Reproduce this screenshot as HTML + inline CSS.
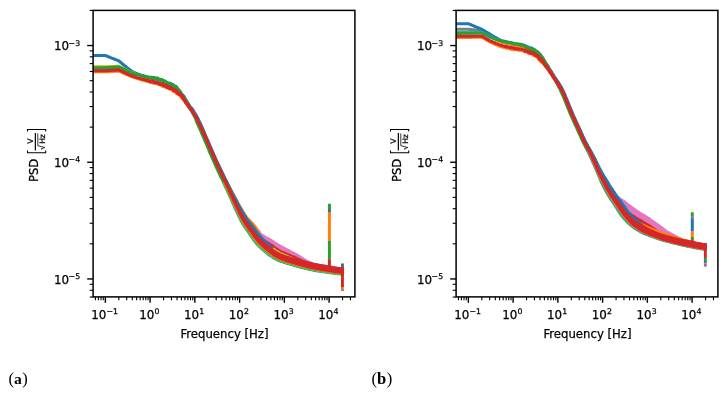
<!DOCTYPE html>
<html lang="en"><head><meta charset="utf-8"><title>PSD plots</title>
<style>html,body{margin:0;padding:0;background:#fff}svg{display:block}</style>
</head><body>
<svg width="728" height="397" viewBox="0 0 728 397" font-family="'DejaVu Sans','Liberation Sans',sans-serif">
<rect width="728" height="397" fill="#fff"/>
<defs><clipPath id="cl"><rect x="93.1" y="10.4" width="250.80" height="286.50"/></clipPath><clipPath id="cr"><rect x="456.1" y="10.4" width="250.75" height="286.50"/></clipPath></defs>
<g clip-path="url(#cl)"><line x1="329.4" y1="203.7" x2="329.4" y2="208.9" stroke="#2ca02c" stroke-width="3.0"/>
<line x1="329.4" y1="208.7" x2="329.4" y2="211.0" stroke="#1f77b4" stroke-width="3.0"/>
<line x1="329.4" y1="210.8" x2="329.4" y2="212.8" stroke="#8c564b" stroke-width="3.0"/>
<line x1="329.4" y1="212.6" x2="329.4" y2="241.2" stroke="#ff7f0e" stroke-width="3.0"/>
<line x1="329.4" y1="241.0" x2="329.4" y2="259.5" stroke="#2ca02c" stroke-width="3.0"/>
<path d="M93.1,71.8L93.8,71.8L94.5,71.8L95.2,71.8L95.9,71.8L96.6,71.8L97.3,71.8L98.0,71.8L98.7,71.8L99.4,71.8L100.1,71.8L100.8,71.8L101.5,71.8L102.2,71.8L102.9,71.8L103.6,71.8L104.3,71.8L105.0,71.8L105.3,71.8L105.7,71.8L106.4,71.7L107.1,71.7L107.8,71.7L108.5,71.6L109.2,71.6L109.9,71.5L110.6,71.5L111.3,71.4L112.0,71.4L112.7,71.4L113.4,71.3L114.1,71.3L114.8,71.2L115.5,71.2L116.2,71.2L116.9,71.1L117.6,71.1L118.3,71.0L118.8,71.0L119.0,71.1L119.7,71.4L120.4,71.7L121.1,72.0L121.8,72.4L122.5,72.7L123.2,73.0L123.9,73.3L124.6,73.6L125.3,74.0L126.0,74.3L126.7,74.6L126.7,74.6L127.4,74.9L128.1,75.2L128.8,75.5L129.5,75.7L130.2,76.0L130.9,76.3L131.6,76.6L132.3,76.9L132.3,76.9L133.0,77.1L133.7,77.3L134.4,77.5L135.1,77.7L135.8,77.9L136.5,78.1L137.2,78.4L137.9,78.6L138.5,78.8L139.2,79.0L139.9,79.2L140.6,79.4L141.3,79.6L142.0,79.9L142.7,80.0L143.4,80.1L144.1,80.2L144.8,80.4L145.5,80.7L146.2,81.0L146.9,81.0L147.6,80.8L148.2,81.0L148.9,81.6L149.6,81.8L150.3,81.7L151.0,81.9L151.7,82.2L152.4,82.5L153.1,82.6L153.8,82.6L154.5,82.6L155.2,82.8L155.9,82.9L156.6,82.6L157.3,82.9L158.0,83.2L158.7,83.3L159.3,83.6L160.0,84.0L160.7,84.4L161.4,84.7L162.1,85.2L162.8,85.6L163.5,85.6L164.2,85.3L164.9,85.7L165.6,86.6L166.3,86.8L167.0,86.7L167.7,87.1L168.4,87.6L169.1,88.0L169.8,88.2L170.4,88.3L171.1,88.5L171.8,88.9L172.5,89.2L173.1,90.0L173.8,90.5L174.5,90.1L175.2,90.3L175.9,91.8L176.6,92.8L177.3,92.6L178.0,92.9L178.7,93.8L179.5,94.4L180.2,95.0L180.9,95.9L181.6,96.9L182.4,97.7L183.1,98.6L183.8,99.4L184.5,100.3L185.3,101.3L186.0,102.3L186.7,103.3L187.5,104.2L188.2,105.3L189.0,106.6L189.7,107.4L190.4,108.2L191.2,109.2L191.9,110.0L192.6,111.0L193.4,112.1L194.1,113.0L194.8,114.1L195.6,115.3L196.3,116.5L197.0,117.7L197.7,119.2L198.4,120.7L199.1,122.2L199.8,123.6L200.6,125.0L201.3,126.5L202.0,128.1L202.7,129.7L203.4,131.3L204.1,132.9L204.8,134.6L205.5,136.2L206.2,137.9L207.0,139.6L207.7,141.1L208.4,142.7L209.1,144.3L209.8,145.9L210.5,147.5L211.2,149.2L211.9,150.8L212.6,152.4L213.3,154.0L214.1,155.6L214.8,157.2L215.5,158.8L216.2,160.4L216.9,161.9L217.6,163.4L218.3,165.0L219.0,166.6L219.7,168.0L220.4,169.4L221.2,170.8L221.9,172.3L222.6,173.7L223.3,175.2L224.0,176.7L224.7,178.2L225.4,179.6L226.2,180.9L226.9,182.4L227.7,183.9L228.5,185.4L229.3,186.9L230.1,188.3L230.8,189.8L231.6,191.3L232.4,192.8L233.2,194.2L233.9,195.6L234.7,197.0L235.5,198.4L236.3,199.9L237.1,201.4L237.8,202.9L238.6,204.3L239.4,205.7L240.1,207.1L240.9,208.4L241.7,209.7L242.5,210.9L243.2,212.2L244.0,213.4L244.8,214.6L245.5,215.8L246.3,216.8L247.0,217.9L247.8,218.8L248.5,219.6L249.3,220.4L250.1,221.2L250.9,222.0L251.7,222.8L252.5,223.6L253.3,224.5L254.1,225.5L254.8,226.5L255.6,227.5L256.3,228.4L257.0,229.3L257.6,230.3L258.3,231.2L259.0,231.9L259.6,232.8L260.2,233.7L260.8,234.5L261.3,235.4L261.9,236.3L262.5,237.0L263.0,237.8L263.6,238.6L264.1,239.2L264.7,239.8L265.3,240.5L265.8,241.2L266.4,241.9L267.0,242.5L267.6,243.1L268.3,243.8L268.9,244.4L269.5,245.1L270.1,245.7L270.8,246.3L271.4,247.0L272.0,247.7L272.6,248.3L273.2,249.0L273.8,249.6L274.4,250.1L275.0,250.6L275.6,251.2L276.3,251.7L276.9,252.2L277.6,252.8L278.2,253.2L278.9,253.6L279.5,254.0L280.2,254.4L280.8,254.8L281.5,255.2L282.2,255.5L282.8,255.8L283.5,256.2L284.2,256.5L284.8,256.8L285.5,257.2L286.2,257.5L286.9,257.8L287.5,258.1L288.2,258.4L288.9,258.7L289.6,259.0L290.3,259.2L291.0,259.3L291.7,259.5L292.4,259.8L293.1,260.0L293.8,260.3L294.5,260.5L295.2,260.7L295.9,260.9L296.6,261.0L297.3,261.2L298.0,261.5L298.7,261.7L299.4,261.8L300.1,262.0L300.8,262.2L301.5,262.3L302.2,262.5L302.9,262.7L303.6,263.0L304.3,263.2L305.0,263.3L305.7,263.5L306.4,263.7L307.1,263.9L307.8,264.1L308.5,264.2L309.2,264.3L309.9,264.5L310.6,264.6L311.3,264.8L312.0,264.9L312.7,265.1L313.4,265.3L314.1,265.5L314.8,265.5L315.5,265.7L316.2,265.8L316.9,266.0L317.6,266.1L318.3,266.2L319.0,266.4L319.7,266.5L320.4,266.7L321.1,266.8L321.8,266.9L322.5,267.0L323.2,267.1L323.9,267.2L324.6,267.4L325.3,267.6L326.0,267.6L326.7,267.7L327.4,267.8L328.1,268.0L328.8,268.1L329.5,268.2L330.2,268.3L330.9,268.5L331.6,268.7L332.3,268.7L333.0,268.8L333.7,269.0L334.4,269.1L335.1,269.2L335.8,269.3L336.5,269.5L337.2,269.6L338.0,269.7L338.7,269.8L339.4,269.9L340.1,269.9L340.8,270.0L341.5,270.1L342.2,270.2L342.5,270.3L342.5,273.6L342.2,273.6L341.5,273.4L340.8,273.4L340.1,273.3L339.4,273.2L338.7,273.1L338.0,273.1L337.2,273.0L336.5,272.9L335.8,272.7L335.1,272.6L334.4,272.6L333.7,272.4L333.0,272.3L332.3,272.2L331.6,272.1L330.9,272.0L330.2,271.8L329.5,271.7L328.8,271.6L328.1,271.5L327.4,271.3L326.7,271.2L326.0,271.2L325.3,271.1L324.6,271.0L323.9,270.8L323.2,270.7L322.5,270.6L321.8,270.5L321.1,270.4L320.4,270.3L319.7,270.1L319.0,269.9L318.3,269.7L317.6,269.6L316.9,269.5L316.2,269.4L315.5,269.2L314.8,269.1L314.1,269.0L313.4,268.8L312.7,268.6L312.0,268.4L311.3,268.3L310.6,268.1L309.9,268.0L309.2,267.8L308.5,267.6L307.8,267.5L307.1,267.3L306.4,267.2L305.7,267.0L305.0,266.8L304.3,266.6L303.6,266.4L302.9,266.2L302.2,265.9L301.5,265.8L300.8,265.6L300.1,265.4L299.4,265.2L298.7,265.1L298.0,264.9L297.3,264.6L296.6,264.4L295.9,264.2L295.2,264.0L294.5,263.8L293.8,263.6L293.1,263.4L292.4,263.1L291.7,262.9L291.0,262.7L290.3,262.5L289.6,262.3L288.9,262.0L288.2,261.7L287.5,261.4L286.9,261.1L286.2,260.8L285.5,260.5L284.8,260.1L284.2,259.8L283.5,259.5L282.8,259.1L282.2,258.8L281.5,258.5L280.8,258.0L280.2,257.6L279.5,257.2L278.9,256.8L278.2,256.5L277.6,256.0L276.9,255.5L276.3,255.0L275.6,254.5L275.0,253.9L274.4,253.3L273.8,252.8L273.2,252.2L272.6,251.5L272.0,250.9L271.4,250.2L270.8,249.5L270.1,248.9L269.5,248.2L268.9,247.5L268.3,246.9L267.6,246.2L267.0,245.5L266.4,244.9L265.8,244.2L265.3,243.5L264.7,242.8L264.1,242.1L263.6,241.5L263.0,240.7L262.5,239.9L261.9,239.1L261.3,238.3L260.8,237.4L260.2,236.5L259.6,235.6L259.0,234.7L258.3,233.8L257.6,232.9L257.0,231.9L256.3,231.0L255.6,230.0L254.8,229.0L254.1,227.9L253.3,226.8L252.5,226.0L251.7,225.1L250.9,224.2L250.1,223.4L249.3,222.6L248.5,221.7L247.8,220.8L247.0,219.8L246.3,218.7L245.5,217.6L244.8,216.3L244.0,215.1L243.2,213.8L242.5,212.4L241.7,211.1L240.9,209.7L240.1,208.4L239.4,207.0L238.6,205.5L237.8,204.0L237.1,202.5L236.3,201.0L235.5,199.5L234.7,198.0L233.9,196.5L233.2,195.1L232.4,193.7L231.6,192.2L230.8,190.6L230.1,189.1L229.3,187.7L228.5,186.2L227.7,184.6L226.9,183.1L226.2,181.6L225.4,180.2L224.7,178.8L224.0,177.3L223.3,175.8L222.6,174.3L221.9,172.9L221.2,171.4L220.4,170.0L219.7,168.6L219.0,167.1L218.3,165.5L217.6,164.0L216.9,162.5L216.2,161.0L215.5,159.4L214.8,157.7L214.1,156.1L213.3,154.6L212.6,152.9L211.9,151.3L211.2,149.7L210.5,148.1L209.8,146.4L209.1,144.8L208.4,143.2L207.7,141.7L207.0,140.1L206.2,138.5L205.5,136.8L204.8,135.1L204.1,133.4L203.4,131.8L202.7,130.2L202.0,128.6L201.3,127.0L200.6,125.5L199.8,124.1L199.1,122.7L198.4,121.2L197.7,119.7L197.0,118.3L196.3,117.1L195.6,115.9L194.8,114.7L194.1,113.7L193.4,112.7L192.6,111.6L191.9,110.7L191.2,109.9L190.4,109.0L189.7,108.2L189.0,107.3L188.2,106.1L187.5,105.0L186.7,104.1L186.0,103.1L185.3,102.1L184.5,101.1L183.8,100.3L183.1,99.5L182.4,98.6L181.6,97.8L180.9,96.9L180.2,95.9L179.5,95.3L178.7,94.8L178.0,93.9L177.3,93.6L176.6,93.8L175.9,92.8L175.2,91.2L174.5,91.0L173.8,91.4L173.1,90.9L172.5,90.2L171.8,89.8L171.1,89.4L170.4,89.2L169.8,89.1L169.1,88.8L168.4,88.4L167.7,88.0L167.0,87.6L166.3,87.6L165.6,87.4L164.9,86.5L164.2,86.1L163.5,86.4L162.8,86.4L162.1,85.9L161.4,85.5L160.7,85.1L160.0,84.7L159.3,84.3L158.7,84.0L158.0,83.9L157.3,83.5L156.6,83.2L155.9,83.4L155.2,83.4L154.5,83.1L153.8,83.1L153.1,83.1L152.4,82.9L151.7,82.6L151.0,82.3L150.3,82.1L149.6,82.2L148.9,81.9L148.2,81.3L147.6,81.0L146.9,81.2L146.2,81.2L145.5,80.9L144.8,80.6L144.1,80.3L143.4,80.2L142.7,80.1L142.0,79.9L141.3,79.7L140.6,79.4L139.9,79.2L139.2,79.0L138.5,78.8L137.9,78.6L137.2,78.4L136.5,78.1L135.8,77.9L135.1,77.7L134.4,77.5L133.7,77.3L133.0,77.1L132.3,76.9L132.3,76.9L131.6,76.6L130.9,76.3L130.2,76.0L129.5,75.7L128.8,75.5L128.1,75.2L127.4,74.9L126.7,74.6L126.7,74.6L126.0,74.3L125.3,74.0L124.6,73.6L123.9,73.3L123.2,73.0L122.5,72.7L121.8,72.4L121.1,72.0L120.4,71.7L119.7,71.4L119.0,71.1L118.8,71.0L118.3,71.0L117.6,71.1L116.9,71.1L116.2,71.2L115.5,71.2L114.8,71.2L114.1,71.3L113.4,71.3L112.7,71.4L112.0,71.4L111.3,71.4L110.6,71.5L109.9,71.5L109.2,71.6L108.5,71.6L107.8,71.7L107.1,71.7L106.4,71.7L105.7,71.8L105.3,71.8L105.0,71.8L104.3,71.8L103.6,71.8L102.9,71.8L102.2,71.8L101.5,71.8L100.8,71.8L100.1,71.8L99.4,71.8L98.7,71.8L98.0,71.8L97.3,71.8L96.6,71.8L95.9,71.8L95.2,71.8L94.5,71.8L93.8,71.8L93.1,71.8Z" fill="#ff7f0e" stroke="#ff7f0e" stroke-width="3.1" stroke-linejoin="round"/>
<path d="M242.7,213.9L243.3,215.0L244.0,215.9L244.7,217.0L245.4,218.1L246.0,219.1L246.7,220.0L247.4,221.0L248.1,221.9L248.8,222.8L249.5,223.7L250.1,224.5L250.8,225.3L251.5,226.1L252.2,227.0L252.9,227.8L253.6,228.6L254.3,229.4L255.0,230.1L255.8,230.8L256.5,231.5L257.3,232.1L258.0,232.7L258.7,233.2L259.4,233.7L260.2,234.3L260.9,234.7L261.6,235.0L262.3,235.4L263.0,235.8L263.7,236.3L264.4,236.8L265.1,237.2L265.7,237.6L266.5,237.9L267.2,238.3L267.9,238.7L268.6,239.1L269.3,239.4L270.0,239.8L270.6,240.2L271.3,240.6L271.9,240.9L272.5,241.3L273.2,241.7L273.8,242.2L274.5,242.7L275.2,243.2L275.9,243.6L276.7,244.2L277.4,244.7L278.2,245.1L279.0,245.5L279.7,245.9L280.4,246.2L281.0,246.6L281.7,247.0L282.4,247.3L283.0,247.6L283.7,247.9L284.4,248.4L285.1,248.8L285.8,249.1L286.5,249.6L287.2,250.0L287.9,250.3L288.7,250.6L289.4,251.0L290.1,251.5L290.8,252.0L291.5,252.3L292.2,252.6L292.9,252.9L293.6,253.3L294.3,253.6L294.9,253.9L295.6,254.4L296.3,254.8L297.0,255.2L297.7,255.6L298.3,255.9L299.0,256.3L299.7,256.8L300.3,257.2L301.0,257.6L301.7,258.0L302.4,258.5L303.2,259.1L304.0,259.6L304.7,260.0L305.5,260.4L306.2,260.8L306.9,261.1L307.6,261.5L308.3,261.8L309.0,262.2L309.7,262.5L310.4,262.8L311.1,263.2L311.9,263.6L312.7,263.9L313.6,264.3L314.4,264.7L315.1,265.0L315.9,265.2L316.6,265.5L317.3,265.6L318.1,265.8L318.8,266.0L319.5,266.1L320.3,266.3L321.0,266.4L321.7,266.6L322.4,266.7L323.1,266.9L323.8,267.1L324.6,267.2L325.3,267.4L326.0,267.6L326.7,267.7L327.4,267.8L328.1,267.9L328.8,268.1L329.5,268.3L330.2,268.4L330.9,268.5L331.7,268.6L332.4,268.7L333.1,268.8L333.8,268.9L334.5,269.1L335.2,269.3L335.9,269.4L336.7,269.4L337.4,269.5L338.1,269.7L338.8,269.8L339.5,269.9L340.2,269.9L340.9,269.9L341.7,270.0L341.7,270.6L340.9,270.5L340.2,270.4L339.5,270.4L338.8,270.3L338.1,270.2L337.4,270.1L336.7,270.0L335.9,269.9L335.2,269.8L334.5,269.7L333.8,269.6L333.1,269.5L332.4,269.3L331.7,269.2L330.9,269.1L330.2,269.0L329.5,268.9L328.8,268.8L328.1,268.6L327.4,268.5L326.7,268.4L326.0,268.3L325.3,268.2L324.6,268.1L323.8,268.0L323.1,267.8L322.4,267.7L321.7,267.6L321.0,267.5L320.3,267.4L319.5,267.2L318.8,267.1L318.1,267.0L317.3,266.8L316.6,266.7L315.9,266.6L315.1,266.4L314.4,266.3L313.6,266.1L312.7,265.9L311.9,265.7L311.1,265.6L310.4,265.4L309.7,265.2L309.0,265.1L308.3,264.9L307.6,264.7L306.9,264.6L306.2,264.2L305.5,263.9L304.7,263.4L304.0,263.0L303.2,262.5L302.4,262.0L301.7,261.5L301.0,261.0L300.3,260.6L299.7,260.2L299.0,259.7L298.3,259.3L297.7,259.0L297.0,258.6L296.3,258.2L295.6,257.7L294.9,257.3L294.3,257.0L293.6,256.7L292.9,256.3L292.2,256.0L291.5,255.7L290.8,255.3L290.1,254.9L289.4,254.4L288.7,254.0L287.9,253.6L287.2,253.3L286.5,252.9L285.8,252.5L285.1,252.1L284.4,251.7L283.7,251.2L283.0,250.9L282.4,250.6L281.7,250.3L281.0,249.9L280.4,249.5L279.7,249.2L279.0,248.8L278.2,248.4L277.4,248.0L276.7,247.5L275.9,246.9L275.2,246.4L274.5,246.0L273.8,245.5L273.2,244.9L272.5,244.5L271.9,244.2L271.3,243.9L270.6,243.5L270.0,243.0L269.3,242.6L268.6,242.3L267.9,241.9L267.2,241.5L266.5,241.1L265.7,240.7L265.1,240.3L264.4,239.8L263.7,239.4L263.0,238.9L262.3,238.4L261.6,238.0L260.9,237.7L260.2,237.2L259.4,236.6L258.7,236.1L258.0,235.6L257.3,235.0L256.5,234.3L255.8,233.6L255.0,232.9L254.3,232.1L253.6,231.3L252.9,230.5L252.2,229.6L251.5,228.7L250.8,227.8L250.1,227.0L249.5,226.1L248.8,225.2L248.1,224.3L247.4,223.3L246.7,222.3L246.0,221.3L245.4,220.3L244.7,219.1L244.0,218.0L243.3,216.9L242.7,215.8Z" fill="#e377c2" stroke="#e377c2" stroke-width="3.1" stroke-linejoin="round"/>
<path d="M255.8,233.5L256.6,234.3L257.4,235.1L258.2,235.8L258.9,236.5L259.7,237.2L260.5,237.9L261.2,238.6L262.0,239.2L262.7,239.7L263.5,240.3L264.2,240.8L265.0,241.3L265.7,241.8L266.4,242.2L267.2,242.7L267.9,243.2L268.7,243.6L269.4,244.1L270.2,244.6L271.0,245.0L271.8,245.5L272.5,246.1L273.2,246.6L273.8,247.1L274.5,247.6L275.1,248.1L275.8,248.5L276.4,248.9L277.1,249.4L277.7,249.9L278.4,250.2L279.0,250.6L279.6,251.0L280.3,251.3L280.9,251.6L281.5,251.9L282.2,252.2L282.8,252.4L283.5,252.7L284.1,253.0L284.8,253.4L285.4,253.6L286.1,253.9L286.7,254.1L287.4,254.4L288.0,254.6L288.7,255.0L289.4,255.3L290.1,255.5L290.7,255.9L291.4,256.2L292.1,256.4L292.8,256.7L293.4,256.9L294.1,257.2L294.8,257.6L295.4,257.9L296.1,258.1L296.7,258.5L297.4,258.8L298.1,259.1L298.7,259.4L299.4,259.7L300.1,260.0L300.7,260.3L301.4,260.6L302.1,260.9L302.7,261.2L303.4,261.5L304.1,261.8L304.8,262.1L305.4,262.4L306.0,262.6L306.0,266.1L305.4,265.8L304.8,265.6L304.1,265.3L303.4,264.9L302.7,264.6L302.1,264.4L301.4,264.0L300.7,263.7L300.1,263.4L299.4,263.1L298.7,262.8L298.1,262.5L297.4,262.2L296.7,261.8L296.1,261.5L295.4,261.2L294.8,260.9L294.1,260.6L293.4,260.3L292.8,260.0L292.1,259.7L291.4,259.5L290.7,259.2L290.1,258.9L289.4,258.6L288.7,258.3L288.0,258.0L287.4,257.7L286.7,257.4L286.1,257.2L285.4,256.9L284.8,256.6L284.1,256.3L283.5,255.9L282.8,255.7L282.2,255.5L281.5,255.2L280.9,254.8L280.3,254.6L279.6,254.2L279.0,253.8L278.4,253.5L277.7,253.1L277.1,252.7L276.4,252.2L275.8,251.7L275.1,251.3L274.5,250.8L273.8,250.3L273.2,249.8L272.5,249.3L271.8,248.7L271.0,248.2L270.2,247.7L269.4,247.2L268.7,246.8L267.9,246.3L267.2,245.8L266.4,245.3L265.7,244.8L265.0,244.3L264.2,243.8L263.5,243.2L262.7,242.6L262.0,242.1L261.2,241.5L260.5,240.8L259.7,240.1L258.9,239.3L258.2,238.6L257.4,237.9L256.6,237.1L255.8,236.2Z" fill="#d62728" stroke="#d62728" stroke-width="3.1" stroke-linejoin="round"/>
<path d="M93.1,55.5L93.8,55.5L94.5,55.5L95.2,55.5L95.9,55.5L96.6,55.5L97.3,55.5L98.0,55.5L98.7,55.5L99.4,55.5L100.1,55.5L100.8,55.5L101.5,55.5L102.2,55.5L102.9,55.5L103.6,55.5L104.3,55.5L105.0,55.5L105.3,55.5L105.7,55.6L106.4,55.9L107.1,56.2L107.8,56.5L108.5,56.8L109.2,57.0L109.9,57.3L110.6,57.6L111.3,57.9L112.0,58.2L112.7,58.4L113.4,58.7L114.1,59.0L114.8,59.3L115.5,59.6L116.2,59.8L116.9,60.1L117.6,60.4L118.3,60.7L118.8,60.9L119.0,61.0L119.7,61.6L120.4,62.2L121.1,62.8L121.8,63.4L122.5,63.9L123.2,64.5L123.9,65.1L124.6,65.7L125.3,66.2L126.0,66.8L126.7,67.4L126.7,67.4L127.4,67.9L128.1,68.5L128.8,69.0L129.5,69.6L130.2,70.1L130.9,70.5L131.6,71.0L132.3,71.4L132.3,71.4L133.0,71.8L133.7,72.1L134.4,72.5L135.1,72.8L135.9,73.2L136.6,73.5L137.4,73.9L138.1,74.3L138.9,74.5L139.6,74.7L140.3,75.0L141.1,75.2L141.8,75.4L142.6,75.6L143.3,75.8L144.0,76.1L144.8,76.3L145.5,76.3L146.2,76.5L146.9,77.0L147.6,77.3L148.4,77.4L149.1,77.5L149.8,77.4L150.5,77.2L151.2,77.2L151.9,77.5L152.6,77.8L153.4,77.6L154.1,77.6L154.8,78.0L155.5,78.4L156.2,78.4L157.0,78.1L157.7,78.1L158.5,78.8L159.2,79.5L160.0,79.6L160.8,79.6L161.6,79.7L162.3,80.0L163.1,80.4L163.8,80.8L164.5,80.9L165.2,81.3L165.9,81.7L166.6,82.2L167.3,82.8L167.9,83.6L168.6,83.9L169.3,83.6L170.0,83.2L170.7,83.4L171.4,84.1L172.1,84.4L172.9,84.6L173.6,85.6L174.4,86.2L175.2,86.0L175.9,86.4L176.7,87.2L177.4,88.2L178.0,89.5L178.7,90.3L179.4,90.8L180.0,91.4L180.6,92.4L181.3,93.5L181.9,94.4L182.5,94.9L183.2,95.4L183.9,96.2L184.6,97.5L185.2,99.0L185.8,100.0L186.5,100.7L187.1,101.7L187.7,102.9L188.4,103.7L189.0,104.7L189.7,106.1L190.4,107.3L191.1,107.8L191.8,108.4L192.5,109.3L193.2,110.4L193.9,111.7L194.6,112.9L195.3,113.9L196.0,115.1L196.7,116.4L197.4,117.6L198.1,118.9L198.8,120.4L199.5,121.9L200.2,123.3L200.9,124.8L201.6,126.3L202.3,127.9L203.0,129.6L203.7,131.2L204.4,132.8L205.1,134.5L205.8,136.2L206.5,137.8L207.2,139.3L207.9,140.9L208.6,142.6L209.3,144.2L210.0,145.9L210.7,147.5L211.4,149.1L212.1,150.8L212.8,152.4L213.5,154.0L214.2,155.6L214.9,157.2L215.6,158.8L216.3,160.4L217.0,162.0L217.8,163.5L218.5,164.9L219.2,166.4L219.9,167.9L220.6,169.4L221.3,170.8L222.0,172.3L222.7,173.8L223.4,175.2L224.1,176.6L224.8,178.1L225.5,179.5L226.3,180.9L227.0,182.4L227.7,183.9L228.4,185.5L229.1,187.0L229.8,188.5L230.5,190.0L231.3,191.5L232.0,192.9L232.8,194.3L233.6,195.7L234.3,197.2L235.1,198.6L235.9,200.1L236.7,201.6L237.4,203.1L238.2,204.6L239.0,205.9L239.7,207.3L240.5,208.6L241.2,209.9L241.9,211.2L242.7,212.5L243.4,213.8L244.1,215.0L244.8,216.1L245.5,217.2L246.2,218.3L246.9,219.3L247.6,220.3L248.3,221.2L249.0,222.1L249.7,222.9L250.4,223.8L251.1,224.7L251.8,225.6L252.6,226.6L253.3,227.5L254.0,228.5L254.7,229.5L255.4,230.5L256.1,231.4L256.8,232.3L257.5,233.1L258.2,234.0L258.9,234.7L259.6,235.5L260.3,236.4L260.9,237.2L261.5,238.0L262.1,238.7L262.7,239.3L263.4,240.0L264.0,240.7L264.6,241.4L265.3,241.9L265.9,242.5L266.6,243.1L267.2,243.7L267.9,244.3L268.5,244.9L269.2,245.5L269.9,246.1L270.5,246.7L271.2,247.3L271.8,248.0L272.4,248.6L273.1,249.1L273.7,249.7L274.3,250.2L275.0,250.8L275.6,251.4L276.2,251.9L276.9,252.4L277.5,252.8L278.2,253.2L278.9,253.7L279.5,254.0L280.2,254.4L280.9,254.8L281.5,255.2L282.2,255.5L282.9,255.8L283.5,256.1L284.2,256.5L284.9,256.7L285.6,256.9L286.3,257.2L287.0,257.4L287.7,257.5L288.4,257.8L289.1,258.1L289.8,258.2L290.5,258.5L291.2,258.7L291.9,258.8L292.6,259.0L293.3,259.2L294.0,259.4L294.7,259.7L295.4,259.9L296.1,260.1L296.8,260.3L297.5,260.5L298.2,260.6L298.9,260.7L299.6,260.9L300.3,261.1L301.0,261.3L301.7,261.4L302.4,261.7L303.1,261.8L303.8,262.0L304.5,262.2L305.2,262.4L305.9,262.6L306.6,262.8L307.3,263.0L308.0,263.1L308.7,263.2L309.4,263.3L310.1,263.6L310.8,263.8L311.5,263.9L312.2,264.1L312.9,264.2L313.6,264.3L314.3,264.5L315.0,264.6L315.7,264.7L316.4,264.8L317.1,264.9L317.8,265.1L318.5,265.2L319.2,265.4L319.9,265.6L320.6,265.8L321.3,265.8L322.0,265.9L322.7,266.0L323.4,266.1L324.1,266.2L324.8,266.3L325.5,266.4L326.2,266.4L326.9,266.6L327.6,266.8L328.3,267.0L329.0,267.0L329.7,267.1L330.4,267.3L331.1,267.4L331.8,267.5L332.5,267.7L333.2,267.8L333.9,267.9L334.6,268.0L335.3,268.1L336.0,268.2L336.7,268.3L337.4,268.5L338.1,268.6L338.8,268.6L339.5,268.6L340.2,268.8L340.9,268.9L341.6,268.9L342.3,269.1L342.6,269.1L342.6,272.4L342.3,272.4L341.6,272.3L340.9,272.2L340.2,272.1L339.5,272.0L338.8,272.0L338.1,272.0L337.4,271.9L336.7,271.7L336.0,271.6L335.3,271.5L334.6,271.4L333.9,271.3L333.2,271.2L332.5,271.2L331.8,271.0L331.1,270.9L330.4,270.8L329.7,270.6L329.0,270.5L328.3,270.5L327.6,270.4L326.9,270.2L326.2,270.0L325.5,269.9L324.8,269.9L324.1,269.8L323.4,269.7L322.7,269.6L322.0,269.5L321.3,269.4L320.6,269.4L319.9,269.2L319.2,269.0L318.5,268.8L317.8,268.6L317.1,268.5L316.4,268.3L315.7,268.2L315.0,268.1L314.3,268.0L313.6,267.8L312.9,267.7L312.2,267.6L311.5,267.4L310.8,267.3L310.1,267.1L309.4,266.8L308.7,266.7L308.0,266.6L307.3,266.5L306.6,266.3L305.9,266.1L305.2,265.9L304.5,265.6L303.8,265.4L303.1,265.3L302.4,265.1L301.7,264.9L301.0,264.7L300.3,264.5L299.6,264.3L298.9,264.1L298.2,264.0L297.5,263.8L296.8,263.7L296.1,263.5L295.4,263.2L294.7,263.0L294.0,262.8L293.3,262.5L292.6,262.3L291.9,262.2L291.2,262.0L290.5,261.8L289.8,261.6L289.1,261.4L288.4,261.1L287.7,260.9L287.0,260.7L286.3,260.5L285.6,260.2L284.9,260.0L284.2,259.8L283.5,259.4L282.9,259.0L282.2,258.7L281.5,258.4L280.9,258.1L280.2,257.7L279.5,257.3L278.9,256.9L278.2,256.5L277.5,256.1L276.9,255.6L276.2,255.2L275.6,254.6L275.0,254.1L274.3,253.5L273.7,252.9L273.1,252.4L272.4,251.8L271.8,251.2L271.2,250.5L270.5,249.9L269.9,249.3L269.2,248.6L268.5,248.0L267.9,247.4L267.2,246.8L266.6,246.2L265.9,245.5L265.3,244.9L264.6,244.4L264.0,243.7L263.4,242.9L262.7,242.2L262.1,241.6L261.5,240.9L260.9,240.1L260.3,239.2L259.6,238.3L258.9,237.5L258.2,236.7L257.5,235.9L256.8,234.9L256.1,234.0L255.4,233.1L254.7,232.0L254.0,231.0L253.3,230.0L252.6,229.0L251.8,228.0L251.1,227.0L250.4,226.1L249.7,225.1L249.0,224.3L248.3,223.4L247.6,222.3L246.9,221.3L246.2,220.2L245.5,219.1L244.8,217.9L244.1,216.7L243.4,215.4L242.7,214.1L241.9,212.7L241.2,211.4L240.5,210.0L239.7,208.6L239.0,207.2L238.2,205.7L237.4,204.2L236.7,202.7L235.9,201.1L235.1,199.7L234.3,198.2L233.6,196.7L232.8,195.3L232.0,193.8L231.3,192.4L230.5,190.8L229.8,189.3L229.1,187.8L228.4,186.2L227.7,184.6L227.0,183.1L226.3,181.5L225.5,180.1L224.8,178.7L224.1,177.2L223.4,175.8L222.7,174.3L222.0,172.9L221.3,171.4L220.6,170.0L219.9,168.5L219.2,166.9L218.5,165.5L217.8,164.0L217.0,162.5L216.3,161.0L215.6,159.3L214.9,157.7L214.2,156.1L213.5,154.5L212.8,152.9L212.1,151.3L211.4,149.7L210.7,148.1L210.0,146.4L209.3,144.7L208.6,143.1L207.9,141.5L207.2,139.8L206.5,138.3L205.8,136.7L205.1,135.0L204.4,133.3L203.7,131.7L203.0,130.1L202.3,128.4L201.6,126.8L200.9,125.3L200.2,123.9L199.5,122.4L198.8,121.0L198.1,119.5L197.4,118.2L196.7,117.0L196.0,115.7L195.3,114.6L194.6,113.5L193.9,112.3L193.2,111.0L192.5,110.0L191.8,109.1L191.1,108.6L190.4,108.0L189.7,106.8L189.0,105.4L188.4,104.5L187.7,103.7L187.1,102.6L186.5,101.5L185.8,100.9L185.2,99.9L184.6,98.4L183.9,97.1L183.2,96.3L182.5,95.9L181.9,95.3L181.3,94.5L180.6,93.4L180.0,92.4L179.4,91.8L178.7,91.3L178.0,90.4L177.4,89.2L176.7,88.2L175.9,87.3L175.2,86.9L174.4,87.1L173.6,86.5L172.9,85.5L172.1,85.2L171.4,85.0L170.7,84.3L170.0,84.0L169.3,84.4L168.6,84.7L167.9,84.4L167.3,83.6L166.6,83.0L165.9,82.5L165.2,82.0L164.5,81.7L163.8,81.5L163.1,81.2L162.3,80.7L161.6,80.4L160.8,80.2L160.0,80.3L159.2,80.1L158.5,79.4L157.7,78.7L157.0,78.6L156.2,79.0L155.5,78.9L154.8,78.5L154.1,78.1L153.4,78.1L152.6,78.3L151.9,77.9L151.2,77.5L150.5,77.6L149.8,77.8L149.1,77.8L148.4,77.6L147.6,77.5L146.9,77.2L146.2,76.6L145.5,76.4L144.8,76.4L144.0,76.2L143.3,75.9L142.6,75.6L141.8,75.4L141.1,75.2L140.3,75.0L139.6,74.7L138.9,74.5L138.1,74.3L137.4,73.9L136.6,73.5L135.9,73.2L135.1,72.8L134.4,72.5L133.7,72.1L133.0,71.8L132.3,71.4L132.3,71.4L131.6,71.0L130.9,70.5L130.2,70.1L129.5,69.6L128.8,69.0L128.1,68.5L127.4,67.9L126.7,67.4L126.7,67.4L126.0,66.8L125.3,66.2L124.6,65.7L123.9,65.1L123.2,64.5L122.5,63.9L121.8,63.4L121.1,62.8L120.4,62.2L119.7,61.6L119.0,61.0L118.8,60.9L118.3,60.7L117.6,60.4L116.9,60.1L116.2,59.8L115.5,59.6L114.8,59.3L114.1,59.0L113.4,58.7L112.7,58.4L112.0,58.2L111.3,57.9L110.6,57.6L109.9,57.3L109.2,57.0L108.5,56.8L107.8,56.5L107.1,56.2L106.4,55.9L105.7,55.6L105.3,55.5L105.0,55.5L104.3,55.5L103.6,55.5L102.9,55.5L102.2,55.5L101.5,55.5L100.8,55.5L100.1,55.5L99.4,55.5L98.7,55.5L98.0,55.5L97.3,55.5L96.6,55.5L95.9,55.5L95.2,55.5L94.5,55.5L93.8,55.5L93.1,55.5Z" fill="#1f77b4" stroke="#1f77b4" stroke-width="3.1" stroke-linejoin="round"/>
<path d="M273.8,249.2L274.5,249.7L275.1,250.2L275.8,250.7L276.4,251.1L277.1,251.5L277.7,251.8L278.4,252.2L279.0,252.7L279.6,253.1L280.3,253.4L280.9,253.6L281.6,253.9L282.2,254.2L282.9,254.5L283.5,254.9L284.2,255.2L284.9,255.4L285.5,255.6L286.2,255.9L286.8,256.2L287.5,256.5L288.1,256.8L288.8,257.1L289.5,257.4L290.1,257.7L290.8,258.0L291.5,258.3L292.1,258.6L292.8,258.9L293.5,259.2L294.1,259.5L294.8,259.7L295.5,260.0L296.1,260.5L296.8,260.9L297.4,261.3L298.1,261.6L298.7,262.1L299.4,262.5L300.0,262.8L300.0,262.8L300.0,262.8L300.0,262.8L299.4,262.5L298.7,262.1L298.1,261.6L297.4,261.3L296.8,260.9L296.1,260.5L295.5,260.0L294.8,259.7L294.1,259.5L293.5,259.2L292.8,258.9L292.1,258.6L291.5,258.3L290.8,258.0L290.1,257.7L289.5,257.4L288.8,257.1L288.1,256.8L287.5,256.5L286.8,256.2L286.2,255.9L285.5,255.6L284.9,255.4L284.2,255.2L283.5,254.9L282.9,254.5L282.2,254.2L281.6,253.9L280.9,253.6L280.3,253.4L279.6,253.1L279.0,252.7L278.4,252.2L277.7,251.8L277.1,251.5L276.4,251.1L275.8,250.7L275.1,250.2L274.5,249.7L273.8,249.2Z" fill="#bcbd22" stroke="#bcbd22" stroke-width="3.1" stroke-linejoin="round"/>
<path d="M93.1,66.7L93.8,66.7L94.5,66.7L95.2,66.7L95.9,66.7L96.6,66.8L97.3,66.8L98.0,66.8L98.7,66.8L99.4,66.8L100.1,66.8L100.8,66.8L101.5,66.8L102.2,66.8L102.9,66.9L103.6,66.9L104.3,66.9L105.0,66.9L105.3,66.9L105.7,66.9L106.4,66.8L107.1,66.8L107.8,66.8L108.5,66.8L109.2,66.7L109.9,66.7L110.6,66.7L111.3,66.6L112.0,66.6L112.7,66.6L113.4,66.5L114.1,66.5L114.8,66.5L115.5,66.4L116.2,66.4L116.9,66.4L117.6,66.4L118.3,66.3L118.8,66.3L119.0,66.4L119.7,66.7L120.4,67.1L121.1,67.4L121.8,67.8L122.5,68.1L123.2,68.4L123.9,68.8L124.6,69.1L125.3,69.5L126.0,69.8L126.7,70.1L126.7,70.1L127.4,70.5L128.1,70.8L128.8,71.1L129.5,71.4L130.2,71.7L130.9,72.0L131.6,72.3L132.3,72.6L132.3,72.6L133.0,72.8L133.7,73.0L134.4,73.3L135.0,73.5L135.0,73.5L134.4,73.3L133.7,73.0L133.0,72.8L132.3,72.6L132.3,72.6L131.6,72.3L130.9,72.0L130.2,71.7L129.5,71.4L128.8,71.1L128.1,70.8L127.4,70.5L126.7,70.1L126.7,70.1L126.0,69.8L125.3,69.5L124.6,69.1L123.9,68.8L123.2,68.4L122.5,68.1L121.8,67.8L121.1,67.4L120.4,67.1L119.7,66.7L119.0,66.4L118.8,66.3L118.3,66.3L117.6,66.4L116.9,66.4L116.2,66.4L115.5,66.4L114.8,66.5L114.1,66.5L113.4,66.5L112.7,66.6L112.0,66.6L111.3,66.6L110.6,66.7L109.9,66.7L109.2,66.7L108.5,66.8L107.8,66.8L107.1,66.8L106.4,66.8L105.7,66.9L105.3,66.9L105.0,66.9L104.3,66.9L103.6,66.9L102.9,66.9L102.2,66.8L101.5,66.8L100.8,66.8L100.1,66.8L99.4,66.8L98.7,66.8L98.0,66.8L97.3,66.8L96.6,66.8L95.9,66.7L95.2,66.7L94.5,66.7L93.8,66.7L93.1,66.7Z" fill="#bcbd22" stroke="#bcbd22" stroke-width="3.1" stroke-linejoin="round"/>
<path d="M93.1,68.7L93.8,68.7L94.5,68.7L95.2,68.7L95.9,68.7L96.6,68.7L97.3,68.6L98.0,68.6L98.7,68.6L99.4,68.6L100.1,68.6L100.8,68.6L101.5,68.6L102.2,68.6L102.9,68.6L103.6,68.6L104.3,68.6L105.0,68.6L105.3,68.6L105.7,68.5L106.4,68.5L107.1,68.4L107.8,68.4L108.5,68.3L109.2,68.3L109.9,68.2L110.6,68.2L111.3,68.1L112.0,68.1L112.7,68.0L113.4,68.0L114.1,67.9L114.8,67.9L115.5,67.8L116.2,67.8L116.9,67.7L117.6,67.7L118.3,67.6L118.8,67.6L119.0,67.7L119.7,68.0L120.4,68.3L121.1,68.7L121.8,69.0L122.5,69.3L123.2,69.7L123.9,70.0L124.6,70.3L125.3,70.6L126.0,71.0L126.7,71.3L126.7,71.3L127.4,71.6L128.1,71.9L128.8,72.2L129.5,72.5L130.2,72.8L130.9,73.1L131.6,73.3L132.3,73.6L132.3,73.6L133.0,73.8L133.7,74.1L134.4,74.3L135.0,74.5L135.0,74.5L134.4,74.3L133.7,74.1L133.0,73.8L132.3,73.6L132.3,73.6L131.6,73.3L130.9,73.1L130.2,72.8L129.5,72.5L128.8,72.2L128.1,71.9L127.4,71.6L126.7,71.3L126.7,71.3L126.0,71.0L125.3,70.6L124.6,70.3L123.9,70.0L123.2,69.7L122.5,69.3L121.8,69.0L121.1,68.7L120.4,68.3L119.7,68.0L119.0,67.7L118.8,67.6L118.3,67.6L117.6,67.7L116.9,67.7L116.2,67.8L115.5,67.8L114.8,67.9L114.1,67.9L113.4,68.0L112.7,68.0L112.0,68.1L111.3,68.1L110.6,68.2L109.9,68.2L109.2,68.3L108.5,68.3L107.8,68.4L107.1,68.4L106.4,68.5L105.7,68.5L105.3,68.6L105.0,68.6L104.3,68.6L103.6,68.6L102.9,68.6L102.2,68.6L101.5,68.6L100.8,68.6L100.1,68.6L99.4,68.6L98.7,68.6L98.0,68.6L97.3,68.6L96.6,68.7L95.9,68.7L95.2,68.7L94.5,68.7L93.8,68.7L93.1,68.7Z" fill="#9467bd" stroke="#9467bd" stroke-width="3.1" stroke-linejoin="round"/>
<path d="M93.1,67.7L93.8,67.7L94.5,67.7L95.2,67.7L95.9,67.7L96.6,67.7L97.3,67.7L98.0,67.7L98.7,67.7L99.4,67.7L100.1,67.7L100.8,67.7L101.5,67.7L102.2,67.7L102.9,67.7L103.6,67.7L104.3,67.7L105.0,67.7L105.3,67.7L105.7,67.7L106.4,67.6L107.1,67.6L107.8,67.6L108.5,67.5L109.2,67.5L109.9,67.4L110.6,67.4L111.3,67.3L112.0,67.3L112.7,67.3L113.4,67.2L114.1,67.2L114.8,67.1L115.5,67.1L116.2,67.1L116.9,67.0L117.6,67.0L118.3,66.9L118.8,66.9L119.0,67.0L119.7,67.3L120.4,67.7L121.1,68.0L121.8,68.3L122.5,68.6L123.2,69.0L123.9,69.3L124.6,69.6L125.3,70.0L126.0,70.3L126.7,70.6L126.7,70.6L127.4,70.9L128.1,71.2L128.8,71.5L129.5,71.8L130.2,72.1L130.9,72.4L131.6,72.7L132.3,73.0L132.3,73.0L133.0,73.2L133.7,73.4L134.4,73.7L135.1,73.9L135.9,74.1L136.6,74.3L137.3,74.6L138.1,74.8L138.8,75.0L139.6,75.2L140.3,75.4L141.0,75.6L141.8,75.8L142.5,76.0L143.2,76.1L144.0,76.2L144.7,76.4L145.4,76.7L146.2,76.9L146.9,76.8L147.6,77.0L148.3,77.2L149.0,77.2L149.7,77.3L150.5,77.6L151.2,77.6L151.9,77.7L152.6,78.0L153.3,78.1L154.0,78.4L154.7,78.7L155.4,78.4L156.2,78.1L156.9,78.2L157.6,78.7L158.4,79.1L159.1,79.3L159.9,79.4L160.7,79.4L161.5,79.7L162.2,80.1L163.0,80.5L163.7,80.9L164.4,81.5L165.1,82.2L165.8,82.1L166.5,82.2L167.2,82.9L167.8,83.1L168.5,83.1L169.2,83.7L169.9,83.9L170.6,83.9L171.3,84.1L172.0,84.5L172.8,85.3L173.5,86.0L174.3,86.3L175.0,87.0L175.8,87.6L176.5,87.8L177.2,88.4L177.8,89.0L178.5,89.4L179.1,90.2L179.8,91.4L180.4,92.3L181.0,93.0L181.6,94.0L182.3,95.1L182.9,96.1L183.6,97.1L184.2,98.1L184.9,99.3L185.5,100.6L186.1,101.4L186.7,102.3L187.4,103.2L188.0,104.0L188.6,105.1L189.2,106.4L189.8,107.6L190.4,108.6L191.0,109.3L191.6,110.2L192.2,111.6L192.8,112.6L193.3,113.6L193.9,114.8L194.5,115.9L195.1,117.0L195.7,118.5L196.2,120.0L196.8,121.6L197.4,123.0L198.1,124.4L198.7,125.9L199.4,127.4L200.1,128.9L200.8,130.5L201.5,132.2L202.2,133.8L202.9,135.3L203.6,136.9L204.3,138.6L205.0,140.3L205.7,141.9L206.4,143.5L207.1,145.2L207.8,146.9L208.5,148.4L209.1,150.1L209.8,151.7L210.5,153.2L211.2,154.8L211.9,156.5L212.6,158.2L213.3,159.8L214.0,161.3L214.7,162.9L215.4,164.6L216.1,166.1L216.8,167.5L217.5,169.0L218.2,170.6L218.9,172.0L219.6,173.4L220.3,174.9L221.0,176.4L221.7,177.8L222.4,179.2L223.1,180.7L223.8,182.2L224.5,183.7L225.1,185.2L225.8,186.7L226.5,188.1L227.2,189.6L227.9,191.2L228.6,192.6L229.3,194.0L230.0,195.6L230.7,197.1L231.4,198.6L232.1,200.1L232.7,201.6L233.4,203.1L234.1,204.6L234.8,206.1L235.5,207.7L236.2,209.1L236.9,210.5L237.6,211.8L238.3,213.2L238.9,214.5L239.6,215.8L240.3,217.1L240.9,218.4L241.6,219.7L242.3,220.9L243.0,222.0L243.7,223.1L244.4,224.1L245.1,225.0L245.8,225.9L246.5,226.7L247.2,227.7L247.8,228.6L248.5,229.4L249.1,230.4L249.8,231.5L250.5,232.5L251.2,233.4L251.9,234.5L252.6,235.5L253.3,236.5L254.0,237.4L254.7,238.2L255.4,239.1L256.1,240.0L256.8,240.9L257.5,241.7L258.3,242.4L259.0,243.1L259.8,243.8L260.5,244.5L261.2,245.2L262.0,245.8L262.7,246.4L263.4,246.9L264.1,247.5L264.8,248.1L265.5,248.7L266.2,249.2L266.9,249.8L267.6,250.4L268.3,250.9L269.0,251.5L269.7,252.1L270.5,252.6L271.3,253.1L272.0,253.6L272.8,254.1L273.6,254.5L274.3,255.0L275.1,255.4L275.8,255.7L276.6,256.1L277.4,256.6L278.1,256.9L278.9,257.2L279.7,257.5L280.4,257.9L281.1,258.1L281.9,258.3L282.6,258.6L283.4,258.8L284.1,259.0L284.8,259.2L285.6,259.4L286.3,259.7L287.0,259.9L287.7,260.1L288.4,260.2L289.1,260.3L289.8,260.6L290.5,260.8L291.2,261.0L292.0,261.2L292.7,261.4L293.4,261.7L294.1,261.8L294.8,262.0L295.5,262.2L296.2,262.5L296.9,262.7L297.6,262.8L298.3,263.0L299.0,263.2L299.7,263.5L300.4,263.7L301.1,263.8L301.8,264.0L302.5,264.2L303.2,264.4L303.9,264.6L304.6,264.8L305.3,265.0L306.0,265.2L306.7,265.2L307.5,265.3L308.2,265.4L308.9,265.6L309.6,265.8L310.3,265.9L311.0,266.1L311.7,266.2L312.4,266.3L313.1,266.5L313.8,266.8L314.6,266.9L315.3,267.0L316.0,267.1L316.7,267.3L317.4,267.3L318.1,267.4L318.8,267.4L319.5,267.5L320.2,267.6L321.0,267.7L321.7,267.8L322.4,267.9L323.1,268.1L323.8,268.2L324.5,268.2L325.2,268.4L325.9,268.5L326.6,268.6L327.3,268.8L328.0,268.9L328.7,269.0L329.4,269.0L330.1,269.1L330.8,269.2L331.5,269.3L332.2,269.4L332.9,269.5L333.6,269.6L334.3,269.7L335.0,269.9L335.7,270.0L336.4,270.1L337.2,270.1L337.9,270.3L338.6,270.4L339.3,270.5L340.0,270.6L340.7,270.6L341.4,270.8L342.1,270.9L342.4,270.9L342.4,274.2L342.1,274.2L341.4,274.1L340.7,274.0L340.0,273.9L339.3,273.8L338.6,273.7L337.9,273.6L337.2,273.5L336.4,273.5L335.7,273.4L335.0,273.3L334.3,273.1L333.6,273.0L332.9,273.0L332.2,272.8L331.5,272.8L330.8,272.7L330.1,272.6L329.4,272.6L328.7,272.5L328.0,272.4L327.3,272.3L326.6,272.2L325.9,272.1L325.2,271.9L324.5,271.8L323.8,271.8L323.1,271.7L322.4,271.5L321.7,271.4L321.0,271.3L320.2,271.2L319.5,271.1L318.8,271.0L318.1,270.9L317.4,270.9L316.7,270.8L316.0,270.7L315.3,270.5L314.6,270.4L313.8,270.3L313.1,270.0L312.4,269.8L311.7,269.7L311.0,269.5L310.3,269.4L309.6,269.2L308.9,269.1L308.2,268.9L307.5,268.8L306.7,268.7L306.0,268.6L305.3,268.4L304.6,268.2L303.9,268.0L303.2,267.8L302.5,267.6L301.8,267.4L301.1,267.2L300.4,267.1L299.7,266.9L299.0,266.6L298.3,266.4L297.6,266.2L296.9,266.1L296.2,265.9L295.5,265.6L294.8,265.4L294.1,265.2L293.4,265.0L292.7,264.8L292.0,264.6L291.2,264.4L290.5,264.2L289.8,263.9L289.1,263.7L288.4,263.5L287.7,263.4L287.0,263.2L286.3,263.0L285.6,262.8L284.8,262.5L284.1,262.3L283.4,262.1L282.6,261.8L281.9,261.6L281.1,261.4L280.4,261.1L279.7,260.8L278.9,260.5L278.1,260.2L277.4,259.8L276.6,259.4L275.8,259.0L275.1,258.7L274.3,258.2L273.6,257.8L272.8,257.3L272.0,256.8L271.3,256.3L270.5,255.8L269.7,255.3L269.0,254.7L268.3,254.1L267.6,253.5L266.9,253.0L266.2,252.4L265.5,251.8L264.8,251.2L264.1,250.6L263.4,250.0L262.7,249.4L262.0,248.8L261.2,248.2L260.5,247.5L259.8,246.7L259.0,246.1L258.3,245.3L257.5,244.5L256.8,243.7L256.1,242.8L255.4,241.9L254.7,241.0L254.0,240.1L253.3,239.2L252.6,238.1L251.9,237.1L251.2,236.0L250.5,235.0L249.8,234.0L249.1,232.9L248.5,231.8L247.8,231.0L247.2,230.0L246.5,229.0L245.8,228.1L245.1,227.2L244.4,226.2L243.7,225.1L243.0,224.0L242.3,222.8L241.6,221.5L240.9,220.2L240.3,218.8L239.6,217.4L238.9,216.1L238.3,214.7L237.6,213.3L236.9,211.9L236.2,210.4L235.5,208.9L234.8,207.3L234.1,205.7L233.4,204.2L232.7,202.7L232.1,201.1L231.4,199.6L230.7,198.1L230.0,196.5L229.3,194.9L228.6,193.5L227.9,192.0L227.2,190.4L226.5,188.8L225.8,187.4L225.1,185.9L224.5,184.4L223.8,182.8L223.1,181.3L222.4,179.8L221.7,178.4L221.0,177.0L220.3,175.5L219.6,174.0L218.9,172.6L218.2,171.1L217.5,169.6L216.8,168.1L216.1,166.7L215.4,165.1L214.7,163.5L214.0,161.9L213.3,160.3L212.6,158.7L211.9,157.1L211.2,155.4L210.5,153.8L209.8,152.3L209.1,150.6L208.5,149.0L207.8,147.4L207.1,145.8L206.4,144.0L205.7,142.4L205.0,140.8L204.3,139.2L203.6,137.5L202.9,135.8L202.2,134.3L201.5,132.7L200.8,131.0L200.1,129.4L199.4,127.9L198.7,126.4L198.1,124.9L197.4,123.5L196.8,122.1L196.2,120.6L195.7,119.0L195.1,117.6L194.5,116.5L193.9,115.4L193.3,114.2L192.8,113.3L192.2,112.3L191.6,110.9L191.0,110.0L190.4,109.3L189.8,108.3L189.2,107.2L188.6,105.9L188.0,104.8L187.4,104.0L186.7,103.1L186.1,102.3L185.5,101.4L184.9,100.2L184.2,99.0L183.6,98.0L182.9,97.0L182.3,96.0L181.6,94.9L181.0,94.0L180.4,93.3L179.8,92.4L179.1,91.2L178.5,90.4L177.8,90.0L177.2,89.3L176.5,88.7L175.8,88.5L175.0,87.9L174.3,87.2L173.5,86.9L172.8,86.2L172.0,85.4L171.3,85.0L170.6,84.8L169.9,84.7L169.2,84.5L168.5,84.0L167.8,83.9L167.2,83.7L166.5,82.9L165.8,82.9L165.1,83.0L164.4,82.3L163.7,81.6L163.0,81.3L162.2,80.8L161.5,80.4L160.7,80.1L159.9,80.0L159.1,79.9L158.4,79.7L157.6,79.3L156.9,78.7L156.2,78.6L155.4,79.0L154.7,79.2L154.0,78.9L153.3,78.5L152.6,78.4L151.9,78.1L151.2,77.9L150.5,77.9L149.7,77.6L149.0,77.5L148.3,77.5L147.6,77.2L146.9,77.0L146.2,77.1L145.4,76.9L144.7,76.5L144.0,76.3L143.2,76.2L142.5,76.1L141.8,75.9L141.0,75.6L140.3,75.4L139.6,75.2L138.8,75.0L138.1,74.8L137.3,74.6L136.6,74.3L135.9,74.1L135.1,73.9L134.4,73.7L133.7,73.4L133.0,73.2L132.3,73.0L132.3,73.0L131.6,72.7L130.9,72.4L130.2,72.1L129.5,71.8L128.8,71.5L128.1,71.2L127.4,70.9L126.7,70.6L126.7,70.6L126.0,70.3L125.3,70.0L124.6,69.6L123.9,69.3L123.2,69.0L122.5,68.6L121.8,68.3L121.1,68.0L120.4,67.7L119.7,67.3L119.0,67.0L118.8,66.9L118.3,66.9L117.6,67.0L116.9,67.0L116.2,67.1L115.5,67.1L114.8,67.1L114.1,67.2L113.4,67.2L112.7,67.3L112.0,67.3L111.3,67.3L110.6,67.4L109.9,67.4L109.2,67.5L108.5,67.5L107.8,67.6L107.1,67.6L106.4,67.6L105.7,67.7L105.3,67.7L105.0,67.7L104.3,67.7L103.6,67.7L102.9,67.7L102.2,67.7L101.5,67.7L100.8,67.7L100.1,67.7L99.4,67.7L98.7,67.7L98.0,67.7L97.3,67.7L96.6,67.7L95.9,67.7L95.2,67.7L94.5,67.7L93.8,67.7L93.1,67.7Z" fill="#2ca02c" stroke="#2ca02c" stroke-width="3.1" stroke-linejoin="round"/>
<path d="M224.7,183.3L225.4,184.8L226.1,186.2L226.8,187.7L227.5,189.3L228.2,190.9L228.9,192.3L229.6,193.8L230.3,195.3L231.0,196.8L231.6,198.2L232.3,199.6L233.0,201.1L233.7,202.7L234.4,204.2L235.1,205.7L235.8,207.3L236.5,208.7L237.2,210.1L237.9,211.4L238.6,212.7L239.2,214.0L239.9,215.4L240.6,216.7L241.3,217.9L242.0,219.1L242.6,220.3L243.3,221.5L244.0,222.6L244.8,223.6L245.5,224.5L246.1,225.5L246.8,226.4L247.5,227.3L248.2,228.2L248.8,229.1L249.5,230.0L250.2,231.0L250.9,232.0L251.6,233.0L252.3,234.0L253.0,235.0L253.7,235.9L254.4,236.8L255.1,237.7L255.8,238.6L256.5,239.5L257.2,240.3L257.9,241.0L258.6,241.8L259.4,242.6L260.1,243.3L260.8,244.0L261.6,244.6L262.3,245.1L263.0,245.7L263.7,246.4L264.4,247.0L265.1,247.5L265.8,248.1L266.5,248.7L267.2,249.2L267.9,249.8L268.6,250.3L269.3,250.8L270.0,251.3L270.8,251.9L271.5,252.4L272.3,253.0L273.1,253.4L273.8,253.9L274.5,254.3L275.3,254.8L276.0,255.2L276.8,255.6L277.5,255.9L278.3,256.3L279.0,256.6L279.8,256.9L280.5,257.2L281.3,257.5L282.0,257.7L282.7,258.0L283.4,258.2L284.2,258.4L284.9,258.7L285.6,258.9L286.3,259.1L287.1,259.3L287.8,259.5L288.5,259.8L289.2,259.9L289.9,260.1L290.6,260.3L291.3,260.5L292.0,260.6L292.7,260.9L293.4,261.1L294.1,261.4L294.8,261.6L295.5,261.8L296.2,262.0L296.9,262.2L297.6,262.4L298.3,262.4L299.0,262.6L299.7,262.8L300.4,263.0L301.1,263.1L301.8,263.4L302.5,263.6L303.2,263.7L303.9,264.0L304.6,264.3L305.3,264.4L306.1,264.5L306.8,264.7L307.5,264.8L308.2,265.0L308.9,265.1L309.6,265.3L310.3,265.5L311.0,265.7L311.7,265.8L312.4,265.9L313.1,265.9L313.8,266.1L314.6,266.3L315.3,266.4L316.0,266.6L316.7,266.7L317.4,266.8L318.1,267.0L318.8,267.1L319.5,267.1L320.2,267.2L320.9,267.4L321.6,267.5L322.3,267.6L323.0,267.7L323.8,267.8L324.5,267.9L325.2,267.9L325.9,268.0L326.6,268.1L327.3,268.2L328.0,268.3L328.7,268.4L329.4,268.6L330.1,268.8L330.8,268.8L331.5,269.0L332.2,269.1L332.9,269.2L333.6,269.3L334.3,269.4L335.0,269.5L335.7,269.5L336.4,269.6L337.1,269.8L337.8,269.9L338.5,269.9L339.2,270.0L339.9,270.2L340.6,270.3L341.3,270.3L342.1,270.4L342.5,270.4L342.5,273.7L342.1,273.7L341.3,273.7L340.6,273.6L339.9,273.5L339.2,273.4L338.5,273.3L337.8,273.2L337.1,273.2L336.4,273.0L335.7,272.9L335.0,272.9L334.3,272.9L333.6,272.8L332.9,272.7L332.2,272.6L331.5,272.4L330.8,272.3L330.1,272.3L329.4,272.1L328.7,272.0L328.0,271.9L327.3,271.7L326.6,271.6L325.9,271.6L325.2,271.5L324.5,271.4L323.8,271.4L323.0,271.3L322.3,271.2L321.6,271.1L320.9,271.0L320.2,270.8L319.5,270.7L318.8,270.6L318.1,270.5L317.4,270.4L316.7,270.2L316.0,270.1L315.3,269.9L314.6,269.8L313.8,269.6L313.1,269.5L312.4,269.4L311.7,269.3L311.0,269.2L310.3,269.0L309.6,268.8L308.9,268.6L308.2,268.4L307.5,268.3L306.8,268.1L306.1,268.0L305.3,267.9L304.6,267.8L303.9,267.5L303.2,267.2L302.5,267.0L301.8,266.8L301.1,266.5L300.4,266.4L299.7,266.2L299.0,266.0L298.3,265.8L297.6,265.8L296.9,265.6L296.2,265.3L295.5,265.2L294.8,264.9L294.1,264.7L293.4,264.5L292.7,264.2L292.0,264.0L291.3,263.8L290.6,263.7L289.9,263.5L289.2,263.3L288.5,263.1L287.8,262.9L287.1,262.6L286.3,262.5L285.6,262.3L284.9,262.0L284.2,261.7L283.4,261.5L282.7,261.3L282.0,261.0L281.3,260.7L280.5,260.5L279.8,260.2L279.0,259.9L278.3,259.5L277.5,259.2L276.8,258.8L276.0,258.4L275.3,258.0L274.5,257.6L273.8,257.1L273.1,256.6L272.3,256.2L271.5,255.7L270.8,255.1L270.0,254.5L269.3,254.0L268.6,253.5L267.9,253.0L267.2,252.4L266.5,251.8L265.8,251.2L265.1,250.6L264.4,250.1L263.7,249.4L263.0,248.8L262.3,248.1L261.6,247.6L260.8,246.9L260.1,246.3L259.4,245.5L258.6,244.7L257.9,243.9L257.2,243.1L256.5,242.3L255.8,241.5L255.1,240.5L254.4,239.6L253.7,238.7L253.0,237.7L252.3,236.6L251.6,235.6L250.9,234.6L250.2,233.5L249.5,232.4L248.8,231.5L248.2,230.5L247.5,229.6L246.8,228.7L246.1,227.7L245.5,226.7L244.8,225.7L244.0,224.6L243.3,223.5L242.6,222.2L242.0,220.9L241.3,219.6L240.6,218.4L239.9,217.0L239.2,215.6L238.6,214.2L237.9,212.9L237.2,211.4L236.5,210.0L235.8,208.5L235.1,206.9L234.4,205.3L233.7,203.8L233.0,202.2L232.3,200.7L231.6,199.2L231.0,197.7L230.3,196.2L229.6,194.7L228.9,193.2L228.2,191.7L227.5,190.1L226.8,188.5L226.1,186.9L225.4,185.5L224.7,184.0Z" fill="#17becf" stroke="#17becf" stroke-width="3.1" stroke-linejoin="round"/>
<path d="M225.0,183.1L225.7,184.6L226.4,186.1L227.1,187.6L227.8,189.1L228.5,190.6L229.2,192.1L229.9,193.6L230.6,195.1L231.3,196.5L232.0,198.1L232.7,199.6L233.4,201.0L234.1,202.5L234.8,204.0L235.5,205.5L236.2,206.9L236.9,208.4L237.6,209.7L238.3,211.1L238.9,212.4L239.6,213.8L240.3,215.1L241.0,216.5L241.7,217.8L242.4,218.9L243.0,220.0L243.7,221.2L244.4,222.3L245.1,223.2L245.9,224.1L246.5,225.0L247.2,226.0L247.9,226.9L248.6,227.8L249.3,228.7L249.9,229.7L250.6,230.7L251.3,231.7L252.0,232.7L252.7,233.7L253.4,234.6L254.1,235.5L254.8,236.5L255.5,237.4L256.2,238.2L256.9,239.0L257.6,239.9L258.3,240.7L259.1,241.5L259.8,242.2L260.5,242.8L261.2,243.5L262.0,244.2L262.7,244.8L263.4,245.4L264.1,246.0L264.8,246.6L265.5,247.1L266.2,247.6L266.9,248.1L267.6,248.7L268.3,249.2L269.0,249.7L269.7,250.3L270.4,250.9L271.1,251.5L271.9,252.0L272.6,252.5L273.4,252.9L274.1,253.4L274.8,253.8L275.6,254.2L276.3,254.7L277.0,255.2L277.8,255.5L278.5,255.8L279.3,256.1L280.0,256.5L280.7,256.8L281.4,257.0L282.2,257.3L282.9,257.5L283.6,257.8L284.3,258.0L285.0,258.2L285.8,258.4L286.5,258.7L287.2,258.9L287.9,259.1L288.6,259.3L289.3,259.5L290.0,259.7L290.7,259.9L291.4,260.1L292.1,260.3L292.8,260.5L293.5,260.7L294.2,260.8L294.9,261.0L295.6,261.2L296.3,261.5L297.0,261.7L297.7,262.0L298.4,262.1L299.1,262.2L299.8,262.5L300.5,262.7L301.2,262.8L301.9,263.0L302.7,263.2L303.4,263.4L304.1,263.5L304.8,263.7L305.5,263.9L306.2,264.0L306.9,264.2L307.6,264.4L308.3,264.6L309.0,264.7L309.7,264.9L310.4,265.0L311.1,265.1L311.8,265.2L312.5,265.4L313.2,265.5L313.9,265.7L314.6,265.8L315.4,265.9L316.1,266.1L316.8,266.2L317.5,266.4L318.2,266.5L318.9,266.5L319.6,266.7L320.3,266.9L321.0,266.9L321.7,267.0L322.4,267.1L323.1,267.2L323.8,267.3L324.5,267.4L325.2,267.5L325.9,267.6L326.6,267.7L327.3,267.8L328.0,268.0L328.7,268.1L329.4,268.3L330.1,268.3L330.8,268.4L331.5,268.5L332.2,268.6L332.9,268.8L333.6,268.9L334.3,269.0L335.0,269.0L335.7,269.2L336.5,269.4L337.2,269.4L337.9,269.5L338.6,269.7L339.3,269.8L340.0,269.8L340.7,269.8L341.4,269.9L342.1,270.0L342.5,270.1L342.5,273.4L342.1,273.3L341.4,273.2L340.7,273.2L340.0,273.1L339.3,273.1L338.6,273.0L337.9,272.9L337.2,272.8L336.5,272.8L335.7,272.6L335.0,272.5L334.3,272.4L333.6,272.3L332.9,272.2L332.2,272.1L331.5,272.0L330.8,271.9L330.1,271.8L329.4,271.8L328.7,271.7L328.0,271.5L327.3,271.4L326.6,271.2L325.9,271.2L325.2,271.1L324.5,271.0L323.8,270.9L323.1,270.8L322.4,270.7L321.7,270.6L321.0,270.5L320.3,270.5L319.6,270.3L318.9,270.1L318.2,270.0L317.5,269.9L316.8,269.8L316.1,269.6L315.4,269.5L314.6,269.3L313.9,269.2L313.2,269.0L312.5,268.9L311.8,268.7L311.1,268.6L310.4,268.5L309.7,268.3L309.0,268.2L308.3,268.1L307.6,267.9L306.9,267.7L306.2,267.5L305.5,267.3L304.8,267.2L304.1,267.0L303.4,266.8L302.7,266.7L301.9,266.4L301.2,266.2L300.5,266.1L299.8,265.9L299.1,265.6L298.4,265.5L297.7,265.4L297.0,265.1L296.3,264.8L295.6,264.6L294.9,264.3L294.2,264.2L293.5,264.0L292.8,263.8L292.1,263.6L291.4,263.5L290.7,263.3L290.0,263.0L289.3,262.8L288.6,262.6L287.9,262.5L287.2,262.3L286.5,262.0L285.8,261.7L285.0,261.5L284.3,261.3L283.6,261.1L282.9,260.8L282.2,260.6L281.4,260.3L280.7,260.1L280.0,259.7L279.3,259.4L278.5,259.1L277.8,258.8L277.0,258.4L276.3,258.0L275.6,257.5L274.8,257.0L274.1,256.6L273.4,256.2L272.6,255.7L271.9,255.2L271.1,254.7L270.4,254.1L269.7,253.5L269.0,252.9L268.3,252.4L267.6,251.8L266.9,251.3L266.2,250.7L265.5,250.2L264.8,249.6L264.1,249.0L263.4,248.4L262.7,247.8L262.0,247.2L261.2,246.5L260.5,245.8L259.8,245.1L259.1,244.4L258.3,243.6L257.6,242.7L256.9,241.9L256.2,241.0L255.5,240.1L254.8,239.2L254.1,238.2L253.4,237.3L252.7,236.3L252.0,235.3L251.3,234.2L250.6,233.2L249.9,232.2L249.3,231.2L248.6,230.2L247.9,229.2L247.2,228.2L246.5,227.3L245.9,226.3L245.1,225.4L244.4,224.3L243.7,223.1L243.0,221.9L242.4,220.7L241.7,219.5L241.0,218.2L240.3,216.8L239.6,215.4L238.9,213.9L238.3,212.5L237.6,211.1L236.9,209.6L236.2,208.2L235.5,206.7L234.8,205.1L234.1,203.6L233.4,202.1L232.7,200.6L232.0,199.1L231.3,197.5L230.6,196.0L229.9,194.5L229.2,193.0L228.5,191.4L227.8,189.8L227.1,188.3L226.4,186.8L225.7,185.3L225.0,183.8Z" fill="#bcbd22" stroke="#bcbd22" stroke-width="3.1" stroke-linejoin="round"/>
<path d="M225.3,182.9L226.0,184.4L226.7,185.9L227.4,187.4L228.1,188.9L228.8,190.4L229.5,192.0L230.2,193.5L230.9,195.0L231.6,196.5L232.3,198.0L233.0,199.4L233.7,200.9L234.4,202.4L235.1,203.9L235.8,205.4L236.5,206.9L237.1,208.3L237.9,209.7L238.5,211.0L239.2,212.4L239.9,213.7L240.6,215.0L241.3,216.3L242.0,217.6L242.7,218.8L243.4,219.9L244.1,221.0L244.8,222.0L245.5,223.0L246.2,223.9L246.9,224.8L247.6,225.8L248.2,226.7L248.9,227.6L249.6,228.6L250.3,229.6L251.0,230.4L251.7,231.3L252.4,232.4L253.1,233.4L253.8,234.3L254.5,235.2L255.2,236.1L255.9,237.0L256.6,237.9L257.3,238.8L258.0,239.6L258.7,240.3L259.4,241.0L260.1,241.8L260.8,242.5L261.6,243.1L262.3,243.8L263.0,244.5L263.7,245.0L264.4,245.6L265.1,246.3L265.8,246.8L266.5,247.2L267.2,247.7L267.9,248.3L268.6,248.9L269.3,249.5L270.0,250.0L270.7,250.5L271.4,251.0L272.2,251.6L272.9,252.1L273.6,252.6L274.3,253.1L275.1,253.5L275.8,254.0L276.5,254.4L277.2,254.8L278.0,255.1L278.7,255.5L279.4,255.8L280.2,256.0L280.9,256.3L281.6,256.7L282.3,257.0L283.0,257.2L283.7,257.5L284.5,257.7L285.2,257.9L285.9,258.1L286.6,258.3L287.3,258.5L288.0,258.7L288.7,258.9L289.4,259.0L290.1,259.3L290.8,259.5L291.5,259.7L292.2,259.9L292.9,260.2L293.6,260.3L294.3,260.5L295.0,260.7L295.7,260.9L296.4,261.1L297.1,261.3L297.8,261.5L298.5,261.7L299.2,261.9L299.9,262.1L300.6,262.4L301.3,262.5L302.0,262.6L302.7,262.8L303.4,263.0L304.2,263.2L304.9,263.3L305.6,263.5L306.3,263.6L307.0,263.8L307.7,264.1L308.4,264.3L309.1,264.4L309.8,264.5L310.5,264.7L311.2,264.8L311.9,264.9L312.6,265.1L313.3,265.3L314.0,265.4L314.7,265.5L315.4,265.6L316.1,265.8L316.8,265.9L317.5,266.0L318.2,266.1L318.9,266.2L319.6,266.4L320.4,266.5L321.1,266.6L321.8,266.7L322.5,266.9L323.2,266.9L323.9,267.0L324.6,267.1L325.3,267.2L326.0,267.2L326.7,267.4L327.4,267.5L328.1,267.6L328.8,267.7L329.5,267.8L330.2,268.0L330.9,268.2L331.6,268.3L332.3,268.5L333.0,268.5L333.7,268.6L334.4,268.8L335.1,268.8L335.8,268.9L336.5,269.0L337.2,269.2L337.9,269.4L338.6,269.4L339.3,269.5L340.0,269.6L340.7,269.6L341.4,269.7L342.1,269.7L342.5,269.7L342.5,273.0L342.1,273.0L341.4,273.0L340.7,273.0L340.0,272.9L339.3,272.8L338.6,272.8L337.9,272.7L337.2,272.6L336.5,272.4L335.8,272.3L335.1,272.3L334.4,272.2L333.7,272.1L333.0,272.0L332.3,271.9L331.6,271.8L330.9,271.7L330.2,271.5L329.5,271.3L328.8,271.2L328.1,271.1L327.4,271.1L326.7,270.9L326.0,270.8L325.3,270.8L324.6,270.7L323.9,270.6L323.2,270.5L322.5,270.4L321.8,270.3L321.1,270.2L320.4,270.1L319.6,269.9L318.9,269.8L318.2,269.6L317.5,269.5L316.8,269.4L316.1,269.3L315.4,269.2L314.7,269.0L314.0,268.9L313.3,268.8L312.6,268.6L311.9,268.4L311.2,268.3L310.5,268.2L309.8,268.0L309.1,267.9L308.4,267.8L307.7,267.6L307.0,267.3L306.3,267.1L305.6,267.0L304.9,266.8L304.2,266.6L303.4,266.4L302.7,266.2L302.0,266.0L301.3,265.9L300.6,265.8L299.9,265.5L299.2,265.3L298.5,265.1L297.8,264.9L297.1,264.7L296.4,264.5L295.7,264.3L295.0,264.1L294.3,263.9L293.6,263.7L292.9,263.5L292.2,263.3L291.5,263.0L290.8,262.8L290.1,262.6L289.4,262.4L288.7,262.2L288.0,262.0L287.3,261.8L286.6,261.6L285.9,261.4L285.2,261.2L284.5,261.0L283.7,260.7L283.0,260.5L282.3,260.3L281.6,260.0L280.9,259.6L280.2,259.3L279.4,259.1L278.7,258.8L278.0,258.4L277.2,258.0L276.5,257.7L275.8,257.2L275.1,256.7L274.3,256.3L273.6,255.9L272.9,255.4L272.2,254.8L271.4,254.3L270.7,253.8L270.0,253.2L269.3,252.7L268.6,252.1L267.9,251.5L267.2,250.9L266.5,250.4L265.8,249.9L265.1,249.3L264.4,248.7L263.7,248.1L263.0,247.5L262.3,246.7L261.6,246.1L260.8,245.4L260.1,244.7L259.4,243.9L258.7,243.2L258.0,242.5L257.3,241.6L256.6,240.7L255.9,239.8L255.2,238.8L254.5,237.9L253.8,237.0L253.1,236.1L252.4,235.0L251.7,233.8L251.0,232.9L250.3,232.0L249.6,231.0L248.9,230.0L248.2,229.0L247.6,228.0L246.9,227.0L246.2,226.1L245.5,225.2L244.8,224.1L244.1,223.0L243.4,221.8L242.7,220.6L242.0,219.3L241.3,218.0L240.6,216.6L239.9,215.3L239.2,213.9L238.5,212.5L237.9,211.0L237.1,209.6L236.5,208.1L235.8,206.6L235.1,205.0L234.4,203.5L233.7,202.0L233.0,200.5L232.3,199.0L231.6,197.5L230.9,196.0L230.2,194.4L229.5,192.8L228.8,191.2L228.1,189.7L227.4,188.2L226.7,186.6L226.0,185.0L225.3,183.5Z" fill="#2ca02c" stroke="#2ca02c" stroke-width="3.1" stroke-linejoin="round"/>
<path d="M225.6,182.8L226.3,184.3L227.0,185.8L227.7,187.4L228.4,188.9L229.1,190.4L229.8,191.9L230.5,193.3L231.2,194.8L231.9,196.2L232.5,197.7L233.2,199.3L233.9,200.8L234.6,202.4L235.3,203.8L236.0,205.3L236.7,206.7L237.4,208.2L238.1,209.6L238.8,211.0L239.5,212.3L240.2,213.5L240.9,214.9L241.6,216.2L242.3,217.4L243.0,218.6L243.7,219.7L244.4,220.8L245.1,221.8L245.8,222.8L246.5,223.7L247.2,224.6L247.9,225.4L248.6,226.3L249.3,227.3L249.9,228.3L250.6,229.3L251.3,230.2L252.0,231.2L252.7,232.2L253.4,233.2L254.1,234.2L254.8,235.0L255.5,235.8L256.2,236.7L256.9,237.6L257.6,238.4L258.3,239.3L259.0,240.0L259.7,240.7L260.5,241.5L261.2,242.2L261.9,242.8L262.6,243.4L263.3,244.0L264.0,244.6L264.7,245.2L265.4,245.7L266.1,246.3L266.8,246.8L267.5,247.4L268.2,247.9L268.9,248.5L269.6,249.1L270.3,249.6L271.0,250.1L271.7,250.6L272.4,251.2L273.2,251.7L273.9,252.2L274.6,252.7L275.3,253.1L276.0,253.5L276.7,253.9L277.5,254.3L278.2,254.7L278.9,255.0L279.6,255.3L280.3,255.7L281.0,256.0L281.8,256.3L282.5,256.5L283.2,256.8L283.9,257.0L284.6,257.3L285.3,257.6L286.0,257.7L286.7,257.9L287.4,258.2L288.1,258.4L288.8,258.6L289.5,258.9L290.2,259.1L290.9,259.3L291.6,259.4L292.3,259.6L293.0,259.8L293.7,260.0L294.4,260.2L295.1,260.5L295.8,260.6L296.5,260.8L297.2,261.0L297.9,261.2L298.6,261.4L299.3,261.6L300.0,261.8L300.7,261.9L301.4,262.1L302.1,262.3L302.8,262.5L303.5,262.8L304.2,262.9L304.9,263.0L305.6,263.1L306.4,263.3L307.1,263.5L307.8,263.6L308.5,263.8L309.2,264.0L309.9,264.1L310.6,264.3L311.3,264.4L312.0,264.5L312.7,264.7L313.4,264.9L314.1,265.0L314.8,265.2L315.5,265.3L316.2,265.5L316.9,265.6L317.6,265.7L318.3,265.8L319.0,266.0L319.7,266.1L320.4,266.2L321.1,266.3L321.8,266.3L322.5,266.4L323.2,266.5L323.9,266.7L324.6,266.9L325.3,266.9L326.0,266.9L326.7,267.1L327.4,267.3L328.1,267.4L328.8,267.5L329.5,267.7L330.2,267.8L330.9,267.8L331.6,267.9L332.3,268.1L333.0,268.2L333.7,268.4L334.4,268.6L335.1,268.6L335.8,268.6L336.5,268.7L337.2,268.9L337.9,268.9L338.6,269.0L339.3,269.2L340.0,269.3L340.7,269.3L341.4,269.4L342.2,269.6L342.6,269.6L342.6,272.9L342.2,272.9L341.4,272.8L340.7,272.7L340.0,272.6L339.3,272.5L338.6,272.4L337.9,272.3L337.2,272.2L336.5,272.1L335.8,272.0L335.1,272.0L334.4,272.0L333.7,271.9L333.0,271.7L332.3,271.5L331.6,271.4L330.9,271.3L330.2,271.3L329.5,271.2L328.8,271.1L328.1,270.9L327.4,270.8L326.7,270.6L326.0,270.5L325.3,270.5L324.6,270.5L323.9,270.3L323.2,270.1L322.5,270.0L321.8,269.9L321.1,269.9L320.4,269.8L319.7,269.7L319.0,269.6L318.3,269.4L317.6,269.2L316.9,269.1L316.2,269.0L315.5,268.9L314.8,268.7L314.1,268.5L313.4,268.4L312.7,268.2L312.0,268.0L311.3,267.9L310.6,267.8L309.9,267.6L309.2,267.5L308.5,267.3L307.8,267.1L307.1,266.9L306.4,266.8L305.6,266.6L304.9,266.4L304.2,266.3L303.5,266.2L302.8,265.9L302.1,265.7L301.4,265.5L300.7,265.3L300.0,265.2L299.3,265.0L298.6,264.8L297.9,264.6L297.2,264.4L296.5,264.2L295.8,264.0L295.1,263.8L294.4,263.6L293.7,263.4L293.0,263.1L292.3,262.9L291.6,262.8L290.9,262.6L290.2,262.4L289.5,262.2L288.8,261.9L288.1,261.7L287.4,261.5L286.7,261.2L286.0,261.0L285.3,260.9L284.6,260.6L283.9,260.3L283.2,260.1L282.5,259.8L281.8,259.6L281.0,259.3L280.3,258.9L279.6,258.6L278.9,258.3L278.2,258.0L277.5,257.5L276.7,257.1L276.0,256.7L275.3,256.3L274.6,255.9L273.9,255.5L273.2,255.0L272.4,254.4L271.7,253.9L271.0,253.3L270.3,252.8L269.6,252.3L268.9,251.7L268.2,251.1L267.5,250.5L266.8,249.9L266.1,249.3L265.4,248.8L264.7,248.2L264.0,247.6L263.3,247.0L262.6,246.4L261.9,245.8L261.2,245.1L260.5,244.4L259.7,243.6L259.0,242.9L258.3,242.1L257.6,241.3L256.9,240.4L256.2,239.5L255.5,238.6L254.8,237.7L254.1,236.8L253.4,235.8L252.7,234.8L252.0,233.8L251.3,232.7L250.6,231.7L249.9,230.7L249.3,229.6L248.6,228.7L247.9,227.7L247.2,226.8L246.5,225.9L245.8,224.9L245.1,223.9L244.4,222.8L243.7,221.7L243.0,220.4L242.3,219.2L241.6,217.9L240.9,216.5L240.2,215.1L239.5,213.8L238.8,212.4L238.1,211.0L237.4,209.5L236.7,208.0L236.0,206.4L235.3,205.0L234.6,203.5L233.9,201.9L233.2,200.3L232.5,198.7L231.9,197.2L231.2,195.7L230.5,194.2L229.8,192.7L229.1,191.2L228.4,189.7L227.7,188.1L227.0,186.5L226.3,185.0L225.6,183.5Z" fill="#ff7f0e" stroke="#ff7f0e" stroke-width="3.1" stroke-linejoin="round"/>
<path d="M93.1,70.7L93.8,70.7L94.5,70.7L95.2,70.7L95.9,70.7L96.6,70.7L97.3,70.7L98.0,70.7L98.7,70.7L99.4,70.7L100.1,70.7L100.8,70.7L101.5,70.7L102.2,70.7L102.9,70.7L103.6,70.7L104.3,70.7L105.0,70.7L105.3,70.7L105.7,70.7L106.4,70.6L107.1,70.6L107.8,70.6L108.5,70.5L109.2,70.5L109.9,70.4L110.6,70.4L111.3,70.3L112.0,70.3L112.7,70.3L113.4,70.2L114.1,70.2L114.8,70.1L115.5,70.1L116.2,70.1L116.9,70.0L117.6,70.0L118.3,69.9L118.8,69.9L119.0,70.0L119.7,70.3L120.4,70.7L121.1,71.0L121.8,71.3L122.5,71.7L123.2,72.0L123.9,72.3L124.6,72.7L125.3,73.0L126.0,73.4L126.7,73.7L126.7,73.7L127.4,74.0L128.1,74.3L128.8,74.6L129.5,74.9L130.2,75.2L130.9,75.5L131.6,75.8L132.3,76.1L132.3,76.1L133.0,76.3L133.7,76.5L134.4,76.8L135.1,77.0L135.8,77.2L136.5,77.4L137.2,77.7L137.9,77.9L138.6,78.1L139.3,78.3L140.0,78.5L140.7,78.7L141.4,78.9L142.1,79.0L142.8,79.1L143.5,79.3L144.2,79.5L144.9,79.7L145.6,79.9L146.3,80.1L147.0,80.3L147.7,80.4L148.4,80.3L149.1,80.6L149.8,81.3L150.5,81.3L151.2,80.8L151.9,80.9L152.6,81.3L153.3,81.5L154.0,81.7L154.7,82.1L155.4,82.1L156.1,82.1L156.8,82.2L157.5,82.4L158.2,83.0L158.9,83.5L159.6,83.5L160.3,83.5L161.0,83.8L161.7,83.8L162.4,83.7L163.1,84.3L163.8,84.8L164.5,85.1L165.2,85.4L165.9,85.6L166.6,85.6L167.3,86.1L168.0,86.9L168.7,87.2L169.4,87.3L170.1,87.1L170.8,87.3L171.5,87.9L172.2,88.4L172.9,88.9L173.6,89.4L174.3,89.8L175.0,89.7L175.7,89.9L176.4,90.9L177.1,91.6L177.8,92.3L178.5,93.0L179.2,93.2L179.9,93.5L180.6,94.1L181.3,94.7L182.0,95.5L182.7,96.6L183.4,97.8L184.1,98.9L184.8,100.0L185.5,101.3L186.2,102.6L186.9,103.5L187.6,104.4L188.3,105.3L189.0,106.4L189.7,107.3L190.4,108.0L191.1,108.8L191.8,109.9L192.5,111.2L193.2,112.2L193.9,113.3L194.6,114.3L195.3,115.3L196.0,116.5L196.7,118.0L197.4,119.3L198.1,120.8L198.8,122.3L199.5,123.8L200.2,125.3L200.9,126.8L201.6,128.3L202.3,129.8L203.0,131.3L203.7,133.0L204.4,134.7L205.1,136.3L205.8,137.9L206.5,139.6L207.2,141.3L207.9,142.9L208.6,144.4L209.3,145.9L210.0,147.6L210.7,149.3L211.4,150.9L212.1,152.5L212.8,154.2L213.5,155.9L214.2,157.5L214.9,159.0L215.6,160.6L216.3,162.2L217.0,163.7L217.7,165.2L218.4,166.7L219.1,168.1L219.8,169.6L220.5,171.2L221.2,172.6L221.9,174.0L222.6,175.4L223.3,177.0L224.0,178.5L224.7,179.9L225.4,181.4L226.1,182.9L226.8,184.4L227.5,185.9L228.2,187.4L228.9,188.9L229.6,190.3L230.3,191.8L231.0,193.4L231.7,194.8L232.4,196.3L233.1,197.8L233.8,199.2L234.5,200.7L235.2,202.3L235.9,203.7L236.6,205.2L237.3,206.7L238.0,208.1L238.7,209.5L239.4,210.9L240.1,212.2L240.8,213.5L241.5,214.8L242.2,216.0L242.9,217.3L243.6,218.5L244.3,219.6L245.0,220.6L245.7,221.6L246.4,222.6L247.1,223.5L247.8,224.3L248.5,225.2L249.2,226.2L249.9,227.1L250.6,228.0L251.3,229.0L252.0,229.9L252.7,230.9L253.4,232.0L254.1,233.0L254.8,233.8L255.5,234.7L256.2,235.5L256.9,236.4L257.6,237.2L258.3,238.0L259.0,238.8L259.7,239.6L260.4,240.3L261.1,240.9L261.8,241.6L262.5,242.2L263.2,242.9L263.9,243.6L264.6,244.1L265.3,244.7L266.0,245.3L266.7,245.8L267.4,246.2L268.1,246.7L268.8,247.3L269.5,247.9L270.2,248.5L270.9,249.1L271.6,249.6L272.3,250.1L273.0,250.6L273.7,251.2L274.4,251.7L275.1,252.1L275.8,252.6L276.5,252.9L277.2,253.3L277.9,253.7L278.6,254.1L279.3,254.5L280.0,254.8L280.7,255.1L281.4,255.3L282.1,255.6L282.8,255.8L283.5,256.1L284.2,256.4L284.9,256.6L285.6,256.9L286.3,257.1L287.0,257.4L287.7,257.6L288.4,257.8L289.1,257.9L289.8,258.1L290.5,258.4L291.2,258.7L291.9,258.8L292.6,259.0L293.3,259.3L294.0,259.5L294.7,259.6L295.4,259.8L296.1,260.1L296.8,260.3L297.5,260.4L298.2,260.6L298.9,260.8L299.6,261.0L300.3,261.2L301.0,261.4L301.7,261.6L302.4,261.8L303.1,261.9L303.8,262.0L304.5,262.2L305.2,262.3L305.9,262.5L306.6,262.7L307.3,263.0L308.0,263.2L308.7,263.4L309.4,263.5L310.1,263.6L310.8,263.7L311.5,263.8L312.2,264.0L312.9,264.2L313.6,264.4L314.3,264.5L315.0,264.6L315.7,264.8L316.4,264.9L317.1,265.1L317.8,265.2L318.5,265.2L319.2,265.3L319.9,265.5L320.6,265.7L321.3,265.8L322.0,265.8L322.7,266.0L323.4,266.1L324.1,266.2L324.8,266.3L325.5,266.4L326.2,266.6L326.9,266.7L327.6,266.7L328.3,266.9L329.0,267.0L329.7,267.1L330.4,267.2L331.1,267.4L331.8,267.5L332.5,267.7L333.2,267.8L333.9,267.9L334.6,268.0L335.3,268.2L336.0,268.3L336.7,268.3L337.4,268.3L338.1,268.5L338.8,268.7L339.5,268.8L340.2,268.8L340.9,268.8L341.6,268.9L342.3,269.0L342.6,269.1L342.6,272.4L342.3,272.4L341.6,272.2L340.9,272.2L340.2,272.1L339.5,272.1L338.8,272.0L338.1,271.9L337.4,271.7L336.7,271.7L336.0,271.7L335.3,271.6L334.6,271.5L333.9,271.4L333.2,271.3L332.5,271.1L331.8,271.0L331.1,270.8L330.4,270.7L329.7,270.6L329.0,270.5L328.3,270.4L327.6,270.3L326.9,270.2L326.2,270.1L325.5,270.0L324.8,269.9L324.1,269.8L323.4,269.7L322.7,269.6L322.0,269.4L321.3,269.4L320.6,269.2L319.9,269.0L319.2,268.9L318.5,268.8L317.8,268.7L317.1,268.6L316.4,268.5L315.7,268.3L315.0,268.1L314.3,268.0L313.6,267.9L312.9,267.7L312.2,267.5L311.5,267.3L310.8,267.2L310.1,267.1L309.4,267.0L308.7,266.9L308.0,266.7L307.3,266.5L306.6,266.2L305.9,265.9L305.2,265.7L304.5,265.6L303.8,265.5L303.1,265.3L302.4,265.2L301.7,265.0L301.0,264.8L300.3,264.6L299.6,264.4L298.9,264.2L298.2,263.9L297.5,263.8L296.8,263.7L296.1,263.5L295.4,263.2L294.7,263.0L294.0,262.9L293.3,262.6L292.6,262.4L291.9,262.2L291.2,262.0L290.5,261.8L289.8,261.5L289.1,261.2L288.4,261.1L287.7,261.0L287.0,260.7L286.3,260.4L285.6,260.2L284.9,259.9L284.2,259.7L283.5,259.4L282.8,259.1L282.1,258.9L281.4,258.6L280.7,258.3L280.0,258.1L279.3,257.7L278.6,257.3L277.9,257.0L277.2,256.6L276.5,256.2L275.8,255.8L275.1,255.4L274.4,254.9L273.7,254.4L273.0,253.9L272.3,253.3L271.6,252.8L270.9,252.3L270.2,251.7L269.5,251.1L268.8,250.5L268.1,249.9L267.4,249.4L266.7,248.9L266.0,248.4L265.3,247.8L264.6,247.2L263.9,246.6L263.2,245.9L262.5,245.2L261.8,244.6L261.1,243.9L260.4,243.2L259.7,242.5L259.0,241.7L258.3,240.9L257.6,240.0L256.9,239.2L256.2,238.3L255.5,237.4L254.8,236.5L254.1,235.6L253.4,234.5L252.7,233.4L252.0,232.4L251.3,231.4L250.6,230.5L249.9,229.5L249.2,228.5L248.5,227.5L247.8,226.6L247.1,225.7L246.4,224.7L245.7,223.7L245.0,222.6L244.3,221.5L243.6,220.3L242.9,219.1L242.2,217.8L241.5,216.4L240.8,215.1L240.1,213.7L239.4,212.3L238.7,210.9L238.0,209.4L237.3,207.9L236.6,206.4L235.9,204.9L235.2,203.4L234.5,201.8L233.8,200.3L233.1,198.8L232.4,197.3L231.7,195.8L231.0,194.3L230.3,192.7L229.6,191.2L228.9,189.7L228.2,188.2L227.5,186.7L226.8,185.1L226.1,183.6L225.4,182.0L224.7,180.5L224.0,179.1L223.3,177.6L222.6,176.0L221.9,174.6L221.2,173.2L220.5,171.7L219.8,170.2L219.1,168.7L218.4,167.2L217.7,165.8L217.0,164.3L216.3,162.8L215.6,161.2L214.9,159.6L214.2,158.0L213.5,156.4L212.8,154.7L212.1,153.0L211.4,151.4L210.7,149.9L210.0,148.1L209.3,146.5L208.6,144.9L207.9,143.4L207.2,141.8L206.5,140.2L205.8,138.4L205.1,136.8L204.4,135.2L203.7,133.6L203.0,131.9L202.3,130.3L201.6,128.8L200.9,127.3L200.2,125.8L199.5,124.3L198.8,122.8L198.1,121.3L197.4,119.9L196.7,118.5L196.0,117.1L195.3,115.9L194.6,114.9L193.9,113.9L193.2,112.9L192.5,111.8L191.8,110.6L191.1,109.5L190.4,108.7L189.7,108.1L189.0,107.1L188.3,106.1L187.6,105.2L186.9,104.3L186.2,103.4L185.5,102.2L184.8,100.8L184.1,99.8L183.4,98.7L182.7,97.5L182.0,96.4L181.3,95.7L180.6,95.1L179.9,94.5L179.2,94.2L178.5,94.0L177.8,93.3L177.1,92.6L176.4,91.9L175.7,90.9L175.0,90.6L174.3,90.7L173.6,90.3L172.9,89.9L172.2,89.3L171.5,88.8L170.8,88.1L170.1,87.9L169.4,88.1L168.7,88.1L168.0,87.7L167.3,86.9L166.6,86.5L165.9,86.4L165.2,86.2L164.5,85.8L163.8,85.6L163.1,85.0L162.4,84.4L161.7,84.5L161.0,84.5L160.3,84.2L159.6,84.2L158.9,84.2L158.2,83.6L157.5,83.1L156.8,82.7L156.1,82.6L155.4,82.6L154.7,82.6L154.0,82.2L153.3,81.9L152.6,81.8L151.9,81.3L151.2,81.2L150.5,81.7L149.8,81.6L149.1,80.9L148.4,80.6L147.7,80.7L147.0,80.6L146.3,80.3L145.6,80.1L144.9,79.9L144.2,79.7L143.5,79.4L142.8,79.2L142.1,79.1L141.4,79.0L140.7,78.7L140.0,78.5L139.3,78.3L138.6,78.1L137.9,77.9L137.2,77.7L136.5,77.4L135.8,77.2L135.1,77.0L134.4,76.8L133.7,76.5L133.0,76.3L132.3,76.1L132.3,76.1L131.6,75.8L130.9,75.5L130.2,75.2L129.5,74.9L128.8,74.6L128.1,74.3L127.4,74.0L126.7,73.7L126.7,73.7L126.0,73.4L125.3,73.0L124.6,72.7L123.9,72.3L123.2,72.0L122.5,71.7L121.8,71.3L121.1,71.0L120.4,70.7L119.7,70.3L119.0,70.0L118.8,69.9L118.3,69.9L117.6,70.0L116.9,70.0L116.2,70.1L115.5,70.1L114.8,70.1L114.1,70.2L113.4,70.2L112.7,70.3L112.0,70.3L111.3,70.3L110.6,70.4L109.9,70.4L109.2,70.5L108.5,70.5L107.8,70.6L107.1,70.6L106.4,70.6L105.7,70.7L105.3,70.7L105.0,70.7L104.3,70.7L103.6,70.7L102.9,70.7L102.2,70.7L101.5,70.7L100.8,70.7L100.1,70.7L99.4,70.7L98.7,70.7L98.0,70.7L97.3,70.7L96.6,70.7L95.9,70.7L95.2,70.7L94.5,70.7L93.8,70.7L93.1,70.7Z" fill="#d62728" stroke="#d62728" stroke-width="3.1" stroke-linejoin="round"/>
<line x1="329.4" y1="259.3" x2="329.4" y2="268.0" stroke="#d62728" stroke-width="3.0"/>
<line x1="342.5" y1="263.1" x2="342.5" y2="264.3" stroke="#bcbd22" stroke-width="3.0"/>
<line x1="342.5" y1="264.1" x2="342.5" y2="267.2" stroke="#1f77b4" stroke-width="3.0"/>
<line x1="342.5" y1="267.0" x2="342.5" y2="287.1" stroke="#d62728" stroke-width="3.0"/>
<line x1="342.5" y1="286.9" x2="342.5" y2="289.8" stroke="#ff7f0e" stroke-width="3.0"/>
<line x1="342.5" y1="289.6" x2="342.5" y2="290.8" stroke="#8c564b" stroke-width="3.0"/></g>
<g clip-path="url(#cr)"><line x1="692.3" y1="212.2" x2="692.3" y2="216.8" stroke="#2ca02c" stroke-width="3.0"/>
<line x1="692.3" y1="216.6" x2="692.3" y2="218.9" stroke="#9467bd" stroke-width="3.0"/>
<line x1="692.3" y1="218.7" x2="692.3" y2="231.6" stroke="#1f77b4" stroke-width="3.0"/>
<line x1="692.3" y1="231.4" x2="692.3" y2="237.1" stroke="#ff7f0e" stroke-width="3.0"/>
<line x1="692.3" y1="236.9" x2="692.3" y2="239.9" stroke="#2ca02c" stroke-width="3.0"/>
<path d="M604.5,181.7L605.2,182.8L606.0,184.0L606.7,185.2L607.4,186.3L608.1,187.2L608.8,188.3L609.5,189.3L610.2,190.1L610.9,191.0L611.6,191.9L612.3,192.7L613.0,193.5L613.7,194.1L614.4,194.8L615.1,195.3L615.8,195.8L616.5,196.4L617.1,197.0L617.8,197.6L618.6,198.1L619.3,198.6L620.1,199.1L620.8,199.6L621.4,199.9L622.1,200.4L622.7,200.8L623.3,201.2L623.9,201.5L624.5,202.0L625.1,202.5L625.7,203.0L626.4,203.6L627.1,204.1L627.8,204.6L628.6,205.3L629.3,205.8L630.0,206.2L630.7,206.7L631.4,207.3L632.1,207.8L632.8,208.2L633.5,208.7L634.1,209.2L634.8,209.7L635.5,210.2L636.1,210.7L636.8,211.2L637.5,211.7L638.2,212.1L638.9,212.5L639.6,213.0L640.4,213.5L641.1,213.9L641.8,214.3L642.5,214.7L643.2,215.1L643.9,215.5L644.6,215.9L645.3,216.4L645.9,216.8L646.6,217.2L647.3,217.7L648.0,218.1L648.7,218.6L649.4,219.1L650.1,219.6L650.8,220.1L651.5,220.7L652.2,221.2L652.9,221.7L653.6,222.1L654.3,222.6L655.0,223.0L655.7,223.5L656.4,223.9L657.1,224.4L657.8,224.9L658.5,225.4L659.2,226.0L659.9,226.5L660.6,227.0L661.3,227.5L662.0,227.9L662.7,228.6L663.4,229.2L664.1,229.7L664.9,230.3L665.7,230.9L666.5,231.5L667.3,232.0L668.0,232.4L668.8,232.8L669.5,233.2L670.2,233.6L670.9,233.9L671.5,234.3L672.2,234.7L672.9,235.1L673.6,235.4L674.3,235.8L675.0,236.2L675.7,236.6L676.5,237.0L677.2,237.3L677.9,237.7L678.5,238.1L679.2,238.5L680.0,238.9L680.7,239.3L681.5,239.7L682.3,240.1L683.1,240.4L683.8,240.6L684.6,240.9L685.3,241.2L686.1,241.4L686.8,241.7L687.6,241.9L688.3,242.1L689.1,242.3L689.9,242.5L690.6,242.8L691.3,243.0L692.1,243.1L692.8,243.3L693.5,243.5L694.2,243.6L695.0,243.7L695.7,243.9L696.4,244.0L697.1,244.1L697.8,244.3L698.5,244.4L699.2,244.5L699.9,244.6L700.7,244.8L701.4,245.0L702.1,245.1L702.8,245.1L703.5,245.3L704.3,245.4L705.0,245.5L705.0,246.5L704.3,246.4L703.5,246.3L702.8,246.2L702.1,246.1L701.4,245.9L700.7,245.8L699.9,245.7L699.2,245.6L698.5,245.4L697.8,245.3L697.1,245.2L696.4,245.0L695.7,244.9L695.0,244.8L694.2,244.6L693.5,244.5L692.8,244.4L692.1,244.2L691.3,244.1L690.6,243.9L689.9,243.8L689.1,243.6L688.3,243.5L687.6,243.3L686.8,243.2L686.1,243.0L685.3,242.9L684.6,242.7L683.8,242.5L683.1,242.4L682.3,242.2L681.5,242.0L680.7,241.9L680.0,241.7L679.2,241.5L678.5,241.4L677.9,241.2L677.2,241.0L676.5,240.9L675.7,240.7L675.0,240.5L674.3,240.3L673.6,239.9L672.9,239.5L672.2,239.1L671.5,238.7L670.9,238.4L670.2,238.0L669.5,237.6L668.8,237.2L668.0,236.9L667.3,236.4L666.5,235.9L665.7,235.3L664.9,234.7L664.1,234.1L663.4,233.6L662.7,233.0L662.0,232.4L661.3,231.9L660.6,231.4L659.9,231.0L659.2,230.4L658.5,229.8L657.8,229.3L657.1,228.9L656.4,228.4L655.7,227.9L655.0,227.5L654.3,227.0L653.6,226.6L652.9,226.1L652.2,225.7L651.5,225.2L650.8,224.7L650.1,224.3L649.4,223.8L648.7,223.4L648.0,223.0L647.3,222.6L646.6,222.2L645.9,221.8L645.3,221.5L644.6,221.1L643.9,220.7L643.2,220.4L642.5,220.0L641.8,219.6L641.1,219.3L640.4,218.9L639.6,218.4L638.9,217.9L638.2,217.4L637.5,217.0L636.8,216.5L636.1,215.9L635.5,215.4L634.8,214.9L634.1,214.4L633.5,213.8L632.8,213.3L632.1,212.9L631.4,212.3L630.7,211.8L630.0,211.2L629.3,210.7L628.6,210.1L627.8,209.5L627.1,208.9L626.4,208.3L625.7,207.7L625.1,207.1L624.5,206.5L623.9,205.9L623.3,205.6L622.7,205.1L622.1,204.6L621.4,204.1L620.8,203.6L620.1,203.2L619.3,202.6L618.6,202.0L617.8,201.4L617.1,200.7L616.5,200.0L615.8,199.4L615.1,198.8L614.4,198.1L613.7,197.4L613.0,196.6L612.3,195.8L611.6,194.9L610.9,193.9L610.2,192.9L609.5,191.9L608.8,190.9L608.1,189.7L607.4,188.4L606.7,187.1L606.0,185.8L605.2,184.4L604.5,183.1Z" fill="#e377c2" stroke="#e377c2" stroke-width="3.1" stroke-linejoin="round"/>
<path d="M626.6,211.8L627.4,212.5L628.3,213.1L629.1,213.7L630.0,214.2L630.8,214.7L631.6,215.4L632.5,215.8L633.3,216.2L634.1,216.7L634.8,217.2L635.5,217.8L636.2,218.3L636.8,218.6L637.5,219.0L638.3,219.4L638.9,219.8L639.6,220.1L640.3,220.4L641.0,220.8L641.7,221.3L642.3,221.7L642.9,222.1L643.6,222.5L644.2,222.8L644.8,223.2L645.5,223.7L646.1,224.1L646.8,224.4L647.4,224.8L648.1,225.2L648.7,225.6L649.4,226.0L650.0,226.4L650.6,226.8L651.2,227.2L651.8,227.6L652.5,228.0L653.1,228.6L653.7,229.0L654.4,229.4L655.0,229.8L655.6,230.3L656.2,230.9L656.8,231.3L657.4,231.8L658.0,232.4L658.6,232.8L659.2,233.3L659.8,233.8L660.4,234.4L661.0,234.9L661.6,235.3L662.2,235.7L662.8,236.3L663.0,236.5L663.0,238.2L662.8,238.0L662.2,237.4L661.6,237.0L661.0,236.6L660.4,236.1L659.8,235.5L659.2,235.0L658.6,234.5L658.0,234.1L657.4,233.5L656.8,233.0L656.2,232.6L655.6,232.0L655.0,231.5L654.4,231.1L653.7,230.8L653.1,230.4L652.5,229.9L651.8,229.5L651.2,229.1L650.6,228.7L650.0,228.3L649.4,228.0L648.7,227.6L648.1,227.2L647.4,226.8L646.8,226.4L646.1,226.1L645.5,225.8L644.8,225.3L644.2,224.9L643.6,224.5L642.9,224.2L642.3,223.8L641.7,223.4L641.0,222.9L640.3,222.5L639.6,222.1L638.9,221.8L638.3,221.4L637.5,221.0L636.8,220.6L636.2,220.2L635.5,219.7L634.8,219.2L634.1,218.6L633.3,218.1L632.5,217.7L631.6,217.2L630.8,216.5L630.0,216.0L629.1,215.4L628.3,214.8L627.4,214.2L626.6,213.5Z" fill="#d62728" stroke="#d62728" stroke-width="3.1" stroke-linejoin="round"/>
<path d="M456.1,37.4L456.8,37.4L457.5,37.4L458.2,37.4L458.9,37.4L459.6,37.4L460.3,37.4L461.0,37.4L461.7,37.4L462.4,37.4L463.1,37.4L463.8,37.4L464.5,37.4L465.2,37.4L465.9,37.4L466.6,37.4L467.3,37.4L468.0,37.4L468.4,37.4L468.7,37.4L469.4,37.4L470.1,37.4L470.8,37.4L471.5,37.4L472.2,37.3L472.9,37.3L473.6,37.3L474.3,37.3L475.0,37.3L475.7,37.3L476.4,37.3L477.1,37.3L477.8,37.3L478.5,37.2L479.2,37.2L479.9,37.2L480.6,37.2L481.3,37.2L481.8,37.2L482.0,37.3L482.7,37.7L483.4,38.1L484.1,38.5L484.8,38.9L485.5,39.3L486.2,39.8L486.9,40.2L487.6,40.6L488.3,41.0L489.0,41.4L489.7,41.8L489.7,41.8L490.4,42.1L491.1,42.4L491.8,42.7L492.5,43.0L493.2,43.3L493.9,43.7L494.6,44.0L495.3,44.3L495.3,44.3L496.0,44.6L496.7,44.9L497.4,45.2L498.1,45.5L498.8,45.8L499.5,46.0L500.1,46.3L500.8,46.5L501.5,46.7L502.2,46.9L502.9,47.1L503.6,47.2L504.3,47.4L505.0,47.6L505.7,47.7L506.3,48.0L507.0,48.2L507.7,48.2L508.4,48.2L509.1,48.3L509.8,48.5L510.5,48.9L511.2,49.1L511.9,49.1L512.6,49.1L513.3,49.4L514.0,49.6L514.7,49.5L515.4,49.1L516.1,49.1L516.8,49.6L517.5,49.6L518.2,49.7L518.9,50.1L519.6,50.1L520.3,49.8L521.0,50.0L521.6,50.4L522.3,50.5L523.0,50.3L523.7,50.5L524.3,51.2L525.0,51.5L525.7,51.0L526.4,50.6L527.1,51.3L527.8,52.3L528.5,53.0L529.2,53.5L529.9,53.3L530.5,53.3L531.2,53.8L531.9,54.0L532.6,54.2L533.3,54.7L533.9,55.1L534.6,55.0L535.3,55.2L535.9,55.9L536.5,56.4L537.2,56.8L537.9,57.5L538.6,58.7L539.3,59.8L540.1,60.6L540.8,61.3L541.5,61.8L542.2,61.8L543.0,62.5L543.7,63.6L544.5,64.5L545.2,65.6L545.9,66.7L546.7,67.5L547.4,68.3L548.2,69.1L548.9,70.4L549.6,71.8L550.4,72.8L551.1,73.8L551.9,74.8L552.6,75.7L553.4,76.8L554.1,77.9L554.8,78.8L555.6,79.6L556.3,80.4L557.1,81.5L557.8,82.7L558.6,83.8L559.3,84.9L560.0,86.0L560.7,87.2L561.4,88.5L562.1,89.9L562.8,91.3L563.5,92.8L564.2,94.4L564.9,96.1L565.6,97.7L566.4,99.4L567.1,101.1L567.8,102.9L568.5,104.7L569.2,106.5L569.9,108.1L570.6,109.8L571.3,111.5L572.0,113.1L572.7,114.7L573.4,116.2L574.1,117.8L574.8,119.4L575.5,121.0L576.2,122.5L576.9,124.0L577.6,125.4L578.4,127.0L579.1,128.6L579.8,130.1L580.5,131.7L581.2,133.3L581.9,134.8L582.6,136.4L583.3,137.9L584.0,139.4L584.7,140.8L585.4,142.1L586.1,143.4L586.8,144.8L587.5,146.2L588.2,147.4L588.9,148.7L589.7,150.0L590.4,151.5L591.1,152.9L591.9,154.3L592.6,155.8L593.3,157.2L594.1,158.7L594.8,160.1L595.5,161.7L596.3,163.3L597.0,165.0L597.7,166.6L598.4,168.1L599.2,169.7L599.9,171.1L600.6,172.5L601.3,173.9L602.1,175.4L602.8,176.8L603.5,178.0L604.2,179.3L605.0,180.7L605.7,182.0L606.4,183.3L607.1,184.6L607.9,185.9L608.6,187.2L609.3,188.4L610.0,189.5L610.7,190.6L611.4,191.6L612.1,192.5L612.8,193.5L613.5,194.5L614.2,195.4L614.9,196.4L615.6,197.3L616.4,198.3L617.1,199.4L617.8,200.4L618.5,201.3L619.2,202.3L620.0,203.4L620.7,204.3L621.4,205.2L622.1,206.1L622.8,207.0L623.5,208.0L624.2,209.0L624.9,209.9L625.6,210.9L626.3,211.7L627.0,212.5L627.7,213.3L628.4,214.1L629.1,214.8L629.8,215.5L630.5,216.2L631.2,216.9L631.9,217.6L632.6,218.2L633.3,218.8L634.0,219.3L634.6,219.8L635.3,220.3L636.0,220.9L636.7,221.3L637.4,221.7L638.1,222.2L638.8,222.7L639.5,223.1L640.2,223.5L640.9,223.8L641.5,224.2L642.2,224.6L642.9,225.0L643.6,225.4L644.3,225.6L644.9,226.0L645.6,226.4L646.3,226.7L647.0,227.0L647.7,227.3L648.4,227.7L649.1,228.0L649.8,228.3L650.5,228.6L651.2,228.8L651.8,229.1L652.5,229.5L653.2,229.8L653.9,230.0L654.6,230.3L655.3,230.7L656.0,230.9L656.7,231.1L657.4,231.4L658.1,231.7L658.8,232.0L659.4,232.2L660.1,232.4L660.8,232.7L661.5,233.0L662.2,233.2L662.8,233.4L663.5,233.6L664.2,233.9L664.9,234.1L665.5,234.2L666.2,234.4L666.9,234.6L667.6,234.8L668.3,235.0L669.0,235.2L669.7,235.4L670.4,235.7L671.0,235.9L671.7,236.2L672.4,236.4L673.1,236.6L673.7,236.9L674.4,237.1L675.1,237.4L675.8,237.6L676.4,237.8L677.1,238.0L677.8,238.2L678.5,238.4L679.2,238.7L679.8,238.9L680.5,239.2L681.2,239.4L681.9,239.6L682.6,239.8L683.3,240.1L683.9,240.2L684.6,240.4L685.3,240.5L686.0,240.7L686.7,241.0L687.4,241.1L688.1,241.4L688.8,241.5L689.4,241.7L690.1,241.9L690.8,242.1L691.5,242.4L692.2,242.6L692.9,242.8L693.5,243.1L694.2,243.4L694.9,243.6L695.6,243.7L696.3,243.9L696.9,244.1L697.6,244.3L698.3,244.5L699.0,244.7L699.7,244.9L700.4,245.2L701.1,245.4L701.8,245.6L702.5,245.8L703.1,246.0L703.8,246.2L704.5,246.3L705.2,246.4L705.3,246.4L705.3,247.9L705.2,247.8L704.5,247.7L703.8,247.6L703.1,247.5L702.5,247.3L701.8,247.1L701.1,246.9L700.4,246.6L699.7,246.4L699.0,246.2L698.3,246.0L697.6,245.8L696.9,245.6L696.3,245.4L695.6,245.2L694.9,245.1L694.2,244.9L693.5,244.5L692.9,244.2L692.2,244.0L691.5,243.8L690.8,243.6L690.1,243.4L689.4,243.2L688.8,243.0L688.1,242.8L687.4,242.6L686.7,242.4L686.0,242.2L685.3,242.0L684.6,241.8L683.9,241.7L683.3,241.5L682.6,241.3L681.9,241.0L681.2,240.9L680.5,240.6L679.8,240.3L679.2,240.1L678.5,239.8L677.8,239.6L677.1,239.4L676.4,239.2L675.8,239.0L675.1,238.7L674.4,238.5L673.7,238.2L673.1,237.9L672.4,237.7L671.7,237.5L671.0,237.2L670.4,237.0L669.7,236.8L669.0,236.6L668.3,236.4L667.6,236.2L666.9,236.0L666.2,235.8L665.5,235.6L664.9,235.4L664.2,235.2L663.5,235.0L662.8,234.8L662.2,234.6L661.5,234.3L660.8,234.1L660.1,233.8L659.4,233.6L658.8,233.4L658.1,233.1L657.4,232.8L656.7,232.5L656.0,232.3L655.3,232.0L654.6,231.7L653.9,231.4L653.2,231.2L652.5,230.9L651.8,230.6L651.2,230.3L650.5,230.1L649.8,229.8L649.1,229.6L648.4,229.2L647.7,228.9L647.0,228.6L646.3,228.3L645.6,228.0L644.9,227.6L644.3,227.3L643.6,227.0L642.9,226.7L642.2,226.2L641.5,225.8L640.9,225.4L640.2,225.1L639.5,224.7L638.8,224.3L638.1,223.8L637.4,223.3L636.7,222.9L636.0,222.4L635.3,221.9L634.6,221.3L634.0,220.8L633.3,220.3L632.6,219.8L631.9,219.1L631.2,218.4L630.5,217.7L629.8,217.0L629.1,216.2L628.4,215.5L627.7,214.7L627.0,213.9L626.3,213.1L625.6,212.2L624.9,211.2L624.2,210.3L623.5,209.2L622.8,208.3L622.1,207.3L621.4,206.4L620.7,205.4L620.0,204.5L619.2,203.4L618.5,202.4L617.8,201.4L617.1,200.4L616.4,199.3L615.6,198.3L614.9,197.3L614.2,196.3L613.5,195.4L612.8,194.4L612.1,193.4L611.4,192.4L610.7,191.4L610.0,190.2L609.3,189.1L608.6,187.9L607.9,186.6L607.1,185.3L606.4,184.0L605.7,182.7L605.0,181.3L604.2,179.9L603.5,178.6L602.8,177.3L602.1,175.9L601.3,174.4L600.6,173.0L599.9,171.6L599.2,170.1L598.4,168.6L597.7,167.0L597.0,165.4L596.3,163.7L595.5,162.1L594.8,160.5L594.1,159.0L593.3,157.6L592.6,156.1L591.9,154.6L591.1,153.2L590.4,151.8L589.7,150.3L588.9,148.9L588.2,147.7L587.5,146.4L586.8,145.0L586.1,143.7L585.4,142.4L584.7,141.1L584.0,139.7L583.3,138.1L582.6,136.6L581.9,135.1L581.2,133.5L580.5,131.9L579.8,130.4L579.1,128.8L578.4,127.2L577.6,125.7L576.9,124.2L576.2,122.7L575.5,121.2L574.8,119.6L574.1,118.1L573.4,116.5L572.7,114.9L572.0,113.3L571.3,111.7L570.6,110.1L569.9,108.4L569.2,106.7L568.5,104.9L567.8,103.1L567.1,101.3L566.4,99.6L565.6,98.0L564.9,96.3L564.2,94.6L563.5,93.0L562.8,91.5L562.1,90.1L561.4,88.8L560.7,87.5L560.0,86.2L559.3,85.1L558.6,84.1L557.8,82.9L557.1,81.7L556.3,80.7L555.6,79.8L554.8,79.1L554.1,78.1L553.4,77.1L552.6,76.0L551.9,75.1L551.1,74.1L550.4,73.1L549.6,72.2L548.9,70.7L548.2,69.4L547.4,68.6L546.7,67.8L545.9,67.0L545.2,65.9L544.5,64.9L543.7,64.0L543.0,62.9L542.2,62.2L541.5,62.2L540.8,61.7L540.1,61.0L539.3,60.2L538.6,59.1L537.9,57.9L537.2,57.1L536.5,56.8L535.9,56.3L535.3,55.6L534.6,55.4L533.9,55.5L533.3,55.0L532.6,54.5L531.9,54.3L531.2,54.1L530.5,53.6L529.9,53.6L529.2,53.8L528.5,53.4L527.8,52.6L527.1,51.6L526.4,51.0L525.7,51.3L525.0,51.8L524.3,51.5L523.7,50.8L523.0,50.6L522.3,50.8L521.6,50.7L521.0,50.3L520.3,50.1L519.6,50.3L518.9,50.3L518.2,49.9L517.5,49.8L516.8,49.8L516.1,49.3L515.4,49.3L514.7,49.7L514.0,49.7L513.3,49.5L512.6,49.2L511.9,49.2L511.2,49.3L510.5,49.0L509.8,48.6L509.1,48.4L508.4,48.3L507.7,48.2L507.0,48.2L506.3,48.0L505.7,47.8L505.0,47.6L504.3,47.4L503.6,47.2L502.9,47.1L502.2,46.9L501.5,46.7L500.8,46.5L500.1,46.3L499.5,46.0L498.8,45.8L498.1,45.5L497.4,45.2L496.7,44.9L496.0,44.6L495.3,44.3L495.3,44.3L494.6,44.0L493.9,43.7L493.2,43.3L492.5,43.0L491.8,42.7L491.1,42.4L490.4,42.1L489.7,41.8L489.7,41.8L489.0,41.4L488.3,41.0L487.6,40.6L486.9,40.2L486.2,39.8L485.5,39.3L484.8,38.9L484.1,38.5L483.4,38.1L482.7,37.7L482.0,37.3L481.8,37.2L481.3,37.2L480.6,37.2L479.9,37.2L479.2,37.2L478.5,37.2L477.8,37.3L477.1,37.3L476.4,37.3L475.7,37.3L475.0,37.3L474.3,37.3L473.6,37.3L472.9,37.3L472.2,37.3L471.5,37.4L470.8,37.4L470.1,37.4L469.4,37.4L468.7,37.4L468.4,37.4L468.0,37.4L467.3,37.4L466.6,37.4L465.9,37.4L465.2,37.4L464.5,37.4L463.8,37.4L463.1,37.4L462.4,37.4L461.7,37.4L461.0,37.4L460.3,37.4L459.6,37.4L458.9,37.4L458.2,37.4L457.5,37.4L456.8,37.4L456.1,37.4Z" fill="#ff7f0e" stroke="#ff7f0e" stroke-width="3.1" stroke-linejoin="round"/>
<path d="M456.1,29.3L456.8,29.3L457.5,29.3L458.2,29.3L458.9,29.3L459.6,29.3L460.3,29.3L461.0,29.3L461.7,29.3L462.4,29.3L463.1,29.3L463.8,29.3L464.5,29.3L465.2,29.3L465.9,29.3L466.6,29.3L467.3,29.3L468.0,29.3L468.4,29.3L468.7,29.3L469.4,29.4L470.1,29.5L470.8,29.6L471.5,29.6L472.2,29.7L472.9,29.8L473.6,29.8L474.3,29.9L475.0,30.0L475.7,30.1L476.4,30.1L477.1,30.2L477.8,30.3L478.5,30.4L479.2,30.4L479.9,30.5L480.6,30.6L481.3,30.6L481.8,30.7L482.0,30.8L482.7,31.3L483.4,31.7L484.1,32.2L484.8,32.6L485.5,33.1L486.2,33.5L486.9,34.0L487.6,34.4L488.3,34.9L489.0,35.3L489.7,35.8L489.7,35.8L490.4,36.1L491.1,36.5L491.8,36.8L492.5,37.2L493.2,37.5L493.9,37.9L494.6,38.2L495.3,38.5L495.3,38.5L496.0,38.9L496.7,39.2L497.4,39.5L498.1,39.9L498.9,40.2L499.7,40.5L500.4,40.8L501.1,41.1L501.9,41.3L502.6,41.6L503.0,41.8L503.0,41.8L503.0,41.8L503.0,41.8L502.6,41.6L501.9,41.3L501.1,41.1L500.4,40.8L499.7,40.5L498.9,40.2L498.1,39.9L497.4,39.5L496.7,39.2L496.0,38.9L495.3,38.5L495.3,38.5L494.6,38.2L493.9,37.9L493.2,37.5L492.5,37.2L491.8,36.8L491.1,36.5L490.4,36.1L489.7,35.8L489.7,35.8L489.0,35.3L488.3,34.9L487.6,34.4L486.9,34.0L486.2,33.5L485.5,33.1L484.8,32.6L484.1,32.2L483.4,31.7L482.7,31.3L482.0,30.8L481.8,30.7L481.3,30.6L480.6,30.6L479.9,30.5L479.2,30.4L478.5,30.4L477.8,30.3L477.1,30.2L476.4,30.1L475.7,30.1L475.0,30.0L474.3,29.9L473.6,29.8L472.9,29.8L472.2,29.7L471.5,29.6L470.8,29.6L470.1,29.5L469.4,29.4L468.7,29.3L468.4,29.3L468.0,29.3L467.3,29.3L466.6,29.3L465.9,29.3L465.2,29.3L464.5,29.3L463.8,29.3L463.1,29.3L462.4,29.3L461.7,29.3L461.0,29.3L460.3,29.3L459.6,29.3L458.9,29.3L458.2,29.3L457.5,29.3L456.8,29.3L456.1,29.3Z" fill="#7f7f7f" stroke="#7f7f7f" stroke-width="3.1" stroke-linejoin="round"/>
<path d="M456.1,23.7L456.8,23.7L457.5,23.7L458.2,23.7L458.9,23.7L459.6,23.7L460.3,23.7L461.0,23.7L461.7,23.7L462.4,23.7L463.1,23.7L463.8,23.7L464.5,23.7L465.2,23.7L465.9,23.7L466.6,23.7L467.3,23.7L468.0,23.7L468.4,23.7L468.7,23.8L469.4,24.1L470.1,24.4L470.8,24.7L471.5,25.0L472.2,25.3L472.9,25.6L473.6,25.9L474.3,26.2L475.0,26.5L475.7,26.8L476.4,27.1L477.1,27.4L477.8,27.7L478.5,28.0L479.2,28.3L479.9,28.5L480.6,28.8L481.3,29.1L481.8,29.4L482.0,29.5L482.7,29.9L483.4,30.3L484.1,30.7L484.8,31.1L485.5,31.5L486.2,31.9L486.9,32.4L487.6,32.8L488.3,33.2L489.0,33.6L489.7,34.1L489.7,34.1L490.4,34.5L491.1,34.9L491.8,35.3L492.5,35.8L493.2,36.2L493.9,36.6L494.6,37.0L495.3,37.4L495.3,37.4L496.0,37.8L496.7,38.2L497.4,38.6L498.1,39.0L498.9,39.4L499.7,39.8L500.4,40.2L501.2,40.4L501.9,40.7L502.7,40.9L503.4,41.1L504.2,41.3L504.9,41.4L505.6,41.5L506.3,41.8L507.1,42.0L507.8,42.1L508.5,42.3L509.2,42.5L509.9,42.6L510.6,42.5L511.3,42.7L512.1,43.1L512.8,43.3L513.5,43.4L514.2,43.8L514.9,44.2L515.6,44.2L516.3,44.0L517.0,44.2L517.7,44.2L518.4,44.0L519.1,44.2L519.8,44.3L520.5,44.3L521.2,44.4L522.0,44.5L522.7,45.0L523.5,45.4L524.3,45.3L525.1,45.6L525.8,46.2L526.6,46.6L527.3,46.7L528.0,47.0L528.8,47.3L529.5,47.7L530.2,48.0L530.9,48.1L531.6,48.0L532.3,48.3L533.0,49.3L533.7,50.2L534.5,50.7L535.3,51.1L536.0,51.4L536.8,51.5L537.6,51.8L538.4,52.7L539.3,54.0L540.0,54.7L540.7,55.0L541.3,56.0L542.0,57.1L542.5,58.0L543.2,58.8L543.8,59.6L544.4,60.9L545.0,62.3L545.6,63.2L546.3,63.9L546.9,64.8L547.6,65.7L548.2,66.9L548.8,68.2L549.5,69.3L550.1,69.9L550.7,70.6L551.4,71.7L552.0,73.0L552.7,73.9L553.4,74.9L554.1,76.3L554.8,77.6L555.5,78.2L556.2,79.3L556.9,80.5L557.6,81.4L558.3,82.3L559.0,83.5L559.7,84.6L560.4,85.8L561.1,86.9L561.8,88.1L562.5,89.6L563.2,91.1L563.9,92.6L564.6,94.2L565.3,95.9L566.0,97.6L566.7,99.2L567.4,100.9L568.1,102.6L568.8,104.4L569.5,106.2L570.2,107.9L570.9,109.5L571.6,111.2L572.3,112.9L573.0,114.5L573.7,116.1L574.4,117.6L575.1,119.1L575.8,120.8L576.5,122.4L577.2,123.9L577.9,125.3L578.6,126.8L579.3,128.4L580.1,130.0L580.8,131.5L581.5,133.1L582.2,134.6L582.9,136.2L583.6,137.7L584.3,139.2L585.0,140.7L585.7,142.0L586.4,143.2L587.1,144.5L587.8,146.0L588.6,147.3L589.3,148.6L590.0,149.9L590.8,151.2L591.5,152.6L592.3,154.1L593.1,155.4L593.8,156.8L594.6,158.3L595.4,159.8L596.1,161.4L596.9,163.0L597.7,164.6L598.4,166.2L599.2,167.8L600.0,169.2L600.7,170.6L601.5,172.0L602.3,173.4L603.1,174.8L603.9,176.1L604.7,177.3L605.4,178.6L606.2,179.9L607.0,181.2L607.8,182.4L608.6,183.8L609.3,185.1L610.1,186.3L610.8,187.4L611.6,188.4L612.3,189.4L612.9,190.5L613.5,191.4L614.2,192.4L614.9,193.4L615.5,194.3L616.2,195.3L616.9,196.3L617.6,197.3L618.2,198.3L618.9,199.3L619.6,200.2L620.3,201.2L621.0,202.2L621.7,203.2L622.4,204.1L623.1,205.1L623.7,206.1L624.4,207.0L625.1,208.0L625.8,208.9L626.5,209.9L627.1,210.9L627.8,211.7L628.4,212.5L629.0,213.2L629.7,214.0L630.4,214.8L631.0,215.5L631.7,216.1L632.3,216.8L633.0,217.4L633.6,218.0L634.2,218.6L634.9,219.2L635.5,219.8L636.1,220.2L636.8,220.7L637.4,221.2L638.1,221.7L638.7,222.3L639.3,222.9L639.9,223.4L640.5,224.0L641.1,224.6L641.7,225.2L642.3,225.7L642.9,226.2L643.5,226.8L644.1,227.3L644.7,227.7L645.4,228.2L646.0,228.6L646.7,229.0L647.3,229.4L648.0,229.9L648.6,230.5L649.3,230.9L650.0,231.2L650.7,231.6L651.4,231.9L652.1,232.1L652.8,232.3L653.5,232.6L654.2,233.0L654.9,233.4L655.6,233.6L656.3,233.8L657.0,234.1L657.7,234.4L658.4,234.7L659.1,234.9L659.8,235.2L660.5,235.5L661.2,235.7L661.9,236.0L662.6,236.2L663.3,236.3L664.0,236.5L664.7,236.7L665.4,237.1L666.1,237.3L666.8,237.4L667.5,237.6L668.2,237.8L668.9,238.0L669.6,238.2L670.3,238.4L671.0,238.5L671.7,238.6L672.4,238.7L673.1,238.9L673.8,239.1L674.5,239.3L675.2,239.5L675.9,239.7L676.6,239.8L677.3,240.0L678.0,240.2L678.7,240.3L679.4,240.5L680.1,240.6L680.8,240.8L681.5,241.0L682.2,241.1L682.9,241.3L683.6,241.4L684.3,241.6L685.0,241.8L685.7,241.9L686.4,242.0L687.1,242.2L687.8,242.3L688.5,242.4L689.2,242.5L689.9,242.6L690.6,242.8L691.3,243.0L692.0,243.1L692.7,243.2L693.4,243.4L694.1,243.6L694.8,243.7L695.5,243.8L696.2,243.9L696.9,244.0L697.6,244.1L698.3,244.2L699.0,244.4L699.7,244.6L700.4,244.7L701.1,244.8L701.8,244.9L702.5,245.0L703.2,245.2L703.9,245.3L704.6,245.5L705.3,245.5L705.4,245.5L705.4,247.7L705.3,247.7L704.6,247.6L703.9,247.5L703.2,247.3L702.5,247.2L701.8,247.1L701.1,247.0L700.4,246.9L699.7,246.8L699.0,246.6L698.3,246.4L697.6,246.2L696.9,246.2L696.2,246.1L695.5,246.0L694.8,245.9L694.1,245.8L693.4,245.6L692.7,245.4L692.0,245.3L691.3,245.2L690.6,245.0L689.9,244.8L689.2,244.7L688.5,244.6L687.8,244.5L687.1,244.4L686.4,244.2L685.7,244.1L685.0,244.0L684.3,243.8L683.6,243.6L682.9,243.4L682.2,243.3L681.5,243.1L680.8,243.0L680.1,242.8L679.4,242.6L678.7,242.5L678.0,242.3L677.3,242.1L676.6,241.9L675.9,241.8L675.2,241.6L674.5,241.4L673.8,241.2L673.1,240.9L672.4,240.8L671.7,240.7L671.0,240.5L670.3,240.4L669.6,240.2L668.9,240.0L668.2,239.8L667.5,239.6L666.8,239.5L666.1,239.3L665.4,239.1L664.7,238.8L664.0,238.5L663.3,238.4L662.6,238.2L661.9,238.0L661.2,237.8L660.5,237.6L659.8,237.3L659.1,236.9L658.4,236.7L657.7,236.5L657.0,236.1L656.3,235.8L655.6,235.7L654.9,235.4L654.2,235.1L653.5,234.7L652.8,234.5L652.1,234.2L651.4,234.0L650.7,233.8L650.0,233.4L649.3,233.2L648.6,232.8L648.0,232.3L647.3,231.8L646.7,231.4L646.0,231.0L645.4,230.6L644.7,230.2L644.1,229.8L643.5,229.3L642.9,228.7L642.3,228.2L641.7,227.7L641.1,227.1L640.5,226.5L639.9,225.9L639.3,225.3L638.7,224.7L638.1,224.1L637.4,223.6L636.8,223.0L636.1,222.6L635.5,222.1L634.9,221.5L634.2,220.9L633.6,220.3L633.0,219.7L632.3,219.0L631.7,218.4L631.0,217.7L630.4,217.0L629.7,216.1L629.0,215.3L628.4,214.5L627.8,213.8L627.1,212.9L626.5,211.9L625.8,210.9L625.1,209.9L624.4,208.9L623.7,207.9L623.1,206.9L622.4,205.9L621.7,204.9L621.0,203.9L620.3,202.9L619.6,201.8L618.9,200.8L618.2,199.8L617.6,198.8L616.9,197.7L616.2,196.7L615.5,195.7L614.9,194.7L614.2,193.7L613.5,192.7L612.9,191.7L612.3,190.6L611.6,189.5L610.8,188.5L610.1,187.3L609.3,186.1L608.6,184.8L607.8,183.4L607.0,182.1L606.2,180.8L605.4,179.5L604.7,178.2L603.9,176.9L603.1,175.6L602.3,174.2L601.5,172.7L600.7,171.3L600.0,169.9L599.2,168.4L598.4,166.9L597.7,165.2L596.9,163.6L596.1,162.0L595.4,160.4L594.6,158.8L593.8,157.3L593.1,155.9L592.3,154.5L591.5,153.0L590.8,151.6L590.0,150.3L589.3,148.9L588.6,147.6L587.8,146.3L587.1,144.9L586.4,143.5L585.7,142.3L585.0,141.0L584.3,139.6L583.6,138.1L582.9,136.5L582.2,135.0L581.5,133.4L580.8,131.9L580.1,130.3L579.3,128.8L578.6,127.2L577.9,125.6L577.2,124.2L576.5,122.7L575.8,121.1L575.1,119.5L574.4,117.9L573.7,116.4L573.0,114.8L572.3,113.2L571.6,111.5L570.9,109.9L570.2,108.2L569.5,106.5L568.8,104.7L568.1,102.9L567.4,101.2L566.7,99.5L566.0,97.9L565.3,96.2L564.6,94.5L563.9,92.9L563.2,91.4L562.5,89.9L561.8,88.4L561.1,87.3L560.4,86.1L559.7,85.0L559.0,83.9L558.3,82.7L557.6,81.7L556.9,80.9L556.2,79.7L555.5,78.6L554.8,78.0L554.1,76.8L553.4,75.3L552.7,74.4L552.0,73.5L551.4,72.2L550.7,71.0L550.1,70.4L549.5,69.8L548.8,68.7L548.2,67.4L547.6,66.2L546.9,65.3L546.3,64.4L545.6,63.8L545.0,62.9L544.4,61.5L543.8,60.2L543.2,59.4L542.5,58.6L542.0,57.7L541.3,56.5L540.7,55.6L540.0,55.2L539.3,54.5L538.4,53.2L537.6,52.3L536.8,52.0L536.0,51.9L535.3,51.6L534.5,51.2L533.7,50.7L533.0,49.8L532.3,48.8L531.6,48.5L530.9,48.6L530.2,48.4L529.5,48.2L528.8,47.8L528.0,47.4L527.3,47.2L526.6,47.0L525.8,46.7L525.1,46.0L524.3,45.8L523.5,45.8L522.7,45.4L522.0,44.9L521.2,44.8L520.5,44.7L519.8,44.7L519.1,44.5L518.4,44.3L517.7,44.5L517.0,44.5L516.3,44.3L515.6,44.4L514.9,44.4L514.2,44.1L513.5,43.6L512.8,43.5L512.1,43.2L511.3,42.8L510.6,42.7L509.9,42.7L509.2,42.6L508.5,42.4L507.8,42.2L507.1,42.0L506.3,41.8L505.6,41.6L504.9,41.4L504.2,41.3L503.4,41.1L502.7,40.9L501.9,40.7L501.2,40.4L500.4,40.2L499.7,39.8L498.9,39.4L498.1,39.0L497.4,38.6L496.7,38.2L496.0,37.8L495.3,37.4L495.3,37.4L494.6,37.0L493.9,36.6L493.2,36.2L492.5,35.8L491.8,35.3L491.1,34.9L490.4,34.5L489.7,34.1L489.7,34.1L489.0,33.6L488.3,33.2L487.6,32.8L486.9,32.4L486.2,31.9L485.5,31.5L484.8,31.1L484.1,30.7L483.4,30.3L482.7,29.9L482.0,29.5L481.8,29.4L481.3,29.1L480.6,28.8L479.9,28.5L479.2,28.3L478.5,28.0L477.8,27.7L477.1,27.4L476.4,27.1L475.7,26.8L475.0,26.5L474.3,26.2L473.6,25.9L472.9,25.6L472.2,25.3L471.5,25.0L470.8,24.7L470.1,24.4L469.4,24.1L468.7,23.8L468.4,23.7L468.0,23.7L467.3,23.7L466.6,23.7L465.9,23.7L465.2,23.7L464.5,23.7L463.8,23.7L463.1,23.7L462.4,23.7L461.7,23.7L461.0,23.7L460.3,23.7L459.6,23.7L458.9,23.7L458.2,23.7L457.5,23.7L456.8,23.7L456.1,23.7Z" fill="#1f77b4" stroke="#1f77b4" stroke-width="3.1" stroke-linejoin="round"/>
<path d="M456.1,32.6L456.8,32.6L457.5,32.6L458.2,32.6L458.9,32.6L459.6,32.6L460.3,32.6L461.0,32.6L461.7,32.6L462.4,32.6L463.1,32.6L463.8,32.6L464.5,32.6L465.2,32.6L465.9,32.6L466.6,32.6L467.3,32.6L468.0,32.6L468.4,32.6L468.7,32.6L469.4,32.6L470.1,32.6L470.8,32.6L471.5,32.6L472.2,32.6L472.9,32.6L473.6,32.6L474.3,32.6L475.0,32.6L475.7,32.6L476.4,32.6L477.1,32.6L477.8,32.5L478.5,32.5L479.2,32.5L479.9,32.5L480.6,32.5L481.3,32.5L481.8,32.5L482.0,32.6L482.7,33.0L483.4,33.4L484.1,33.7L484.8,34.1L485.5,34.5L486.2,34.9L486.9,35.2L487.6,35.6L488.3,36.0L489.0,36.4L489.7,36.8L489.7,36.8L490.4,37.0L491.1,37.3L491.8,37.6L492.5,37.9L493.2,38.1L493.9,38.4L494.6,38.7L495.3,39.0L495.3,39.0L496.0,39.3L496.7,39.5L497.4,39.8L498.0,40.0L498.0,40.0L497.4,39.8L496.7,39.5L496.0,39.3L495.3,39.0L495.3,39.0L494.6,38.7L493.9,38.4L493.2,38.1L492.5,37.9L491.8,37.6L491.1,37.3L490.4,37.0L489.7,36.8L489.7,36.8L489.0,36.4L488.3,36.0L487.6,35.6L486.9,35.2L486.2,34.9L485.5,34.5L484.8,34.1L484.1,33.7L483.4,33.4L482.7,33.0L482.0,32.6L481.8,32.5L481.3,32.5L480.6,32.5L479.9,32.5L479.2,32.5L478.5,32.5L477.8,32.5L477.1,32.6L476.4,32.6L475.7,32.6L475.0,32.6L474.3,32.6L473.6,32.6L472.9,32.6L472.2,32.6L471.5,32.6L470.8,32.6L470.1,32.6L469.4,32.6L468.7,32.6L468.4,32.6L468.0,32.6L467.3,32.6L466.6,32.6L465.9,32.6L465.2,32.6L464.5,32.6L463.8,32.6L463.1,32.6L462.4,32.6L461.7,32.6L461.0,32.6L460.3,32.6L459.6,32.6L458.9,32.6L458.2,32.6L457.5,32.6L456.8,32.6L456.1,32.6Z" fill="#17becf" stroke="#17becf" stroke-width="3.1" stroke-linejoin="round"/>
<path d="M456.1,33.4L456.8,33.4L457.5,33.4L458.2,33.4L458.9,33.4L459.6,33.4L460.3,33.4L461.0,33.4L461.7,33.3L462.4,33.3L463.1,33.3L463.8,33.3L464.5,33.3L465.2,33.3L465.9,33.3L466.6,33.3L467.3,33.3L468.0,33.3L468.4,33.3L468.7,33.3L469.4,33.3L470.1,33.2L470.8,33.2L471.5,33.2L472.2,33.2L472.9,33.2L473.6,33.2L474.3,33.1L475.0,33.1L475.7,33.1L476.4,33.1L477.1,33.1L477.8,33.0L478.5,33.0L479.2,33.0L479.9,33.0L480.6,33.0L481.3,33.0L481.8,33.0L482.0,33.0L482.7,33.4L483.4,33.7L484.1,34.0L484.8,34.4L485.5,34.7L486.2,35.0L486.9,35.4L487.6,35.7L488.3,36.0L489.0,36.4L489.7,36.7L489.7,36.7L490.4,37.0L491.1,37.3L491.8,37.6L492.5,37.9L493.2,38.2L493.9,38.4L494.6,38.7L495.3,39.0L495.3,39.0L496.0,39.3L496.7,39.6L497.4,39.8L498.1,40.1L498.9,40.4L499.7,40.7L500.4,40.9L501.1,41.1L501.9,41.3L502.6,41.5L503.4,41.7L504.1,41.8L504.8,42.0L505.6,42.2L506.3,42.3L507.0,42.4L507.7,42.6L508.5,42.7L509.2,42.6L509.9,42.7L510.6,43.1L511.3,43.4L512.0,43.5L512.7,43.4L513.4,43.7L514.1,44.0L514.8,43.8L515.5,43.6L516.2,43.9L516.9,44.2L517.6,44.3L518.4,44.3L519.0,44.5L519.7,44.9L520.4,45.2L521.2,45.1L521.9,45.0L522.7,45.5L523.5,45.9L524.2,46.1L525.0,46.5L525.7,46.8L526.5,46.8L527.2,47.0L527.9,47.5L528.7,47.8L529.4,48.1L530.1,48.7L530.8,49.0L531.5,49.1L532.2,49.3L532.9,49.4L533.6,49.3L534.4,49.5L535.1,50.0L535.9,50.8L536.6,51.6L537.4,52.3L538.2,53.0L539.1,53.4L539.8,54.2L540.5,55.5L541.1,56.3L541.7,56.6L542.3,57.4L542.9,58.5L543.5,59.5L544.1,60.9L544.7,61.7L545.3,62.2L546.0,63.6L546.6,65.0L547.2,65.4L547.9,66.1L548.5,67.2L549.1,68.9L549.7,70.4L550.4,71.2L551.0,72.0L551.6,73.0L552.2,74.1L552.8,75.3L553.4,76.6L554.0,77.6L554.6,78.2L555.2,79.3L555.8,80.9L556.5,82.0L557.1,82.9L557.7,84.1L558.3,85.4L558.9,86.6L559.5,87.8L560.2,89.0L560.8,90.4L561.4,91.8L562.1,93.3L562.8,94.8L563.5,96.4L564.2,98.1L564.9,99.9L565.6,101.7L566.3,103.4L567.0,105.1L567.7,106.9L568.4,108.6L569.1,110.2L569.8,111.8L570.5,113.5L571.2,115.2L571.9,116.9L572.6,118.5L573.3,120.0L574.0,121.6L574.7,123.0L575.4,124.5L576.1,126.1L576.8,127.6L577.5,129.1L578.2,130.7L578.9,132.3L579.6,133.8L580.3,135.3L581.0,137.0L581.7,138.6L582.4,140.0L583.1,141.4L583.8,142.9L584.5,144.2L585.2,145.5L585.9,146.8L586.6,148.1L587.3,149.4L588.0,150.7L588.7,152.1L589.4,153.5L590.0,154.9L590.7,156.4L591.4,157.9L592.1,159.4L592.8,160.9L593.5,162.4L594.2,164.0L594.9,165.5L595.6,167.1L596.3,168.7L597.0,170.2L597.7,171.8L598.4,173.4L599.0,174.8L599.6,176.3L600.2,177.7L600.8,179.0L601.4,180.4L602.0,181.8L602.7,183.1L603.4,184.4L604.1,185.8L604.8,187.2L605.5,188.5L606.2,189.7L606.9,190.9L607.6,192.0L608.3,193.0L609.0,194.1L609.7,195.1L610.4,196.1L611.1,197.0L611.8,198.0L612.5,198.9L613.1,199.9L613.8,200.8L614.5,201.8L615.2,202.7L615.8,203.8L616.5,204.8L617.2,205.8L617.8,206.8L618.5,207.8L619.2,208.8L619.9,209.8L620.5,210.7L621.2,211.7L622.0,212.7L622.8,213.6L623.5,214.4L624.3,215.2L625.1,216.0L625.8,216.7L626.6,217.5L627.3,218.1L628.1,218.9L628.8,219.6L629.6,220.2L630.3,220.9L631.1,221.5L631.8,222.1L632.6,222.7L633.3,223.2L634.1,223.7L634.8,224.2L635.5,224.7L636.3,225.1L637.0,225.6L637.7,226.0L638.5,226.4L639.2,226.7L639.9,227.2L640.7,227.6L641.4,228.0L642.2,228.4L642.9,228.8L643.6,229.1L644.3,229.5L645.1,229.9L645.8,230.2L646.5,230.4L647.2,230.7L648.0,231.1L648.7,231.4L649.4,231.7L650.1,232.1L650.9,232.4L651.6,232.7L652.3,232.9L653.0,233.2L653.7,233.4L654.4,233.7L655.1,234.0L655.8,234.4L656.6,234.7L657.3,234.9L658.0,235.1L658.7,235.3L659.4,235.6L660.1,235.8L660.8,236.1L661.6,236.3L662.3,236.5L663.0,236.7L663.7,236.9L664.4,237.1L665.1,237.4L665.8,237.5L666.5,237.6L667.2,237.8L667.9,238.0L668.6,238.2L669.3,238.4L670.0,238.6L670.7,238.7L671.5,238.9L672.2,239.1L672.9,239.3L673.6,239.5L674.3,239.7L675.0,239.8L675.7,239.9L676.4,240.1L677.1,240.3L677.8,240.4L678.5,240.6L679.2,240.7L679.9,240.9L680.6,241.0L681.3,241.2L682.0,241.3L682.7,241.4L683.4,241.5L684.1,241.7L684.8,241.9L685.5,242.1L686.2,242.2L686.9,242.3L687.6,242.5L688.3,242.6L689.0,242.7L689.7,242.9L690.4,243.0L691.1,243.1L691.8,243.3L692.5,243.5L693.2,243.7L693.9,243.8L694.6,243.9L695.3,243.9L696.0,244.0L696.7,244.2L697.4,244.4L698.1,244.5L698.8,244.6L699.5,244.7L700.2,244.9L700.9,245.0L701.6,245.2L702.3,245.2L703.1,245.3L703.8,245.4L704.5,245.5L705.2,245.7L705.3,245.7L705.3,249.3L705.2,249.3L704.5,249.1L703.8,249.0L703.1,248.9L702.3,248.8L701.6,248.8L700.9,248.7L700.2,248.5L699.5,248.4L698.8,248.3L698.1,248.1L697.4,248.0L696.7,247.9L696.0,247.7L695.3,247.6L694.6,247.6L693.9,247.5L693.2,247.3L692.5,247.1L691.8,246.9L691.1,246.8L690.4,246.7L689.7,246.5L689.0,246.4L688.3,246.3L687.6,246.2L686.9,246.0L686.2,245.9L685.5,245.8L684.8,245.6L684.1,245.4L683.4,245.1L682.7,245.0L682.0,244.9L681.3,244.7L680.6,244.6L679.9,244.4L679.2,244.2L678.5,244.1L677.8,243.9L677.1,243.8L676.4,243.6L675.7,243.4L675.0,243.2L674.3,243.1L673.6,242.9L672.9,242.7L672.2,242.5L671.5,242.3L670.7,242.1L670.0,242.0L669.3,241.8L668.6,241.6L667.9,241.4L667.2,241.2L666.5,241.0L665.8,240.9L665.1,240.8L664.4,240.5L663.7,240.3L663.0,240.1L662.3,239.9L661.6,239.7L660.8,239.5L660.1,239.2L659.4,239.0L658.7,238.7L658.0,238.5L657.3,238.3L656.6,238.1L655.8,237.8L655.1,237.4L654.4,237.1L653.7,236.9L653.0,236.7L652.3,236.5L651.6,236.3L650.9,236.1L650.1,235.8L649.4,235.5L648.7,235.2L648.0,234.9L647.2,234.6L646.5,234.3L645.8,234.1L645.1,233.9L644.3,233.6L643.6,233.2L642.9,232.9L642.2,232.6L641.4,232.2L640.7,231.7L639.9,231.3L639.2,230.8L638.5,230.4L637.7,230.0L637.0,229.6L636.3,229.1L635.5,228.7L634.8,228.2L634.1,227.6L633.3,227.1L632.6,226.6L631.8,226.0L631.1,225.4L630.3,224.7L629.6,224.0L628.8,223.3L628.1,222.6L627.3,221.8L626.6,221.1L625.8,220.3L625.1,219.5L624.3,218.6L623.5,217.8L622.8,217.0L622.0,216.0L621.2,214.9L620.5,213.9L619.9,212.9L619.2,211.9L618.5,210.8L617.8,209.7L617.2,208.7L616.5,207.7L615.8,206.6L615.2,205.5L614.5,204.4L613.8,203.4L613.1,202.4L612.5,201.4L611.8,200.3L611.1,199.3L610.4,198.3L609.7,197.3L609.0,196.2L608.3,195.0L607.6,193.9L606.9,192.7L606.2,191.5L605.5,190.3L604.8,188.9L604.1,187.5L603.4,186.0L602.7,184.7L602.0,183.3L601.4,181.8L600.8,180.4L600.2,179.0L599.6,177.5L599.0,176.0L598.4,174.5L597.7,173.0L597.0,171.4L596.3,169.8L595.6,168.2L594.9,166.5L594.2,164.9L593.5,163.4L592.8,161.8L592.1,160.2L591.4,158.7L590.7,157.1L590.0,155.7L589.4,154.3L588.7,152.8L588.0,151.3L587.3,150.0L586.6,148.7L585.9,147.4L585.2,146.1L584.5,144.8L583.8,143.5L583.1,142.0L582.4,140.6L581.7,139.2L581.0,137.5L580.3,135.9L579.6,134.4L578.9,132.8L578.2,131.3L577.5,129.7L576.8,128.2L576.1,126.7L575.4,125.1L574.7,123.6L574.0,122.1L573.3,120.6L572.6,119.0L571.9,117.4L571.2,115.8L570.5,114.1L569.8,112.4L569.1,110.7L568.4,109.1L567.7,107.4L567.0,105.7L566.3,103.9L565.6,102.2L564.9,100.4L564.2,98.6L563.5,97.0L562.8,95.3L562.1,93.8L561.4,92.3L560.8,90.9L560.2,89.5L559.5,88.3L558.9,87.2L558.3,86.0L557.7,84.7L557.1,83.5L556.5,82.7L555.8,81.5L555.2,79.9L554.6,78.9L554.0,78.3L553.4,77.3L552.8,76.0L552.2,74.9L551.6,73.8L551.0,72.8L550.4,72.0L549.7,71.2L549.1,69.7L548.5,68.0L547.9,66.9L547.2,66.3L546.6,65.9L546.0,64.5L545.3,63.1L544.7,62.7L544.1,61.9L543.5,60.5L542.9,59.5L542.3,58.4L541.7,57.5L541.1,57.2L540.5,56.5L539.8,55.1L539.1,54.3L538.2,53.9L537.4,53.3L536.6,52.5L535.9,51.7L535.1,50.9L534.4,50.3L533.6,50.1L532.9,50.2L532.2,50.1L531.5,49.9L530.8,49.8L530.1,49.4L529.4,48.9L528.7,48.6L527.9,48.3L527.2,47.7L526.5,47.5L525.7,47.5L525.0,47.2L524.2,46.8L523.5,46.5L522.7,46.1L521.9,45.7L521.2,45.7L520.4,45.8L519.7,45.5L519.0,45.1L518.4,44.8L517.6,44.8L516.9,44.7L516.2,44.3L515.5,44.0L514.8,44.2L514.1,44.4L513.4,44.0L512.7,43.7L512.0,43.8L511.3,43.6L510.6,43.3L509.9,42.9L509.2,42.8L508.5,42.9L507.7,42.8L507.0,42.5L506.3,42.4L505.6,42.2L504.8,42.1L504.1,41.9L503.4,41.7L502.6,41.5L501.9,41.3L501.1,41.1L500.4,40.9L499.7,40.7L498.9,40.4L498.1,40.1L497.4,39.8L496.7,39.6L496.0,39.3L495.3,39.0L495.3,39.0L494.6,38.7L493.9,38.4L493.2,38.2L492.5,37.9L491.8,37.6L491.1,37.3L490.4,37.0L489.7,36.7L489.7,36.7L489.0,36.4L488.3,36.0L487.6,35.7L486.9,35.4L486.2,35.0L485.5,34.7L484.8,34.4L484.1,34.0L483.4,33.7L482.7,33.4L482.0,33.0L481.8,33.0L481.3,33.0L480.6,33.0L479.9,33.0L479.2,33.0L478.5,33.0L477.8,33.0L477.1,33.1L476.4,33.1L475.7,33.1L475.0,33.1L474.3,33.1L473.6,33.2L472.9,33.2L472.2,33.2L471.5,33.2L470.8,33.2L470.1,33.2L469.4,33.3L468.7,33.3L468.4,33.3L468.0,33.3L467.3,33.3L466.6,33.3L465.9,33.3L465.2,33.3L464.5,33.3L463.8,33.3L463.1,33.3L462.4,33.3L461.7,33.3L461.0,33.4L460.3,33.4L459.6,33.4L458.9,33.4L458.2,33.4L457.5,33.4L456.8,33.4L456.1,33.4Z" fill="#2ca02c" stroke="#2ca02c" stroke-width="3.1" stroke-linejoin="round"/>
<path d="M588.1,150.5L588.8,151.9L589.5,153.2L590.2,154.6L590.9,156.1L591.6,157.5L592.3,159.0L593.0,160.5L593.7,162.0L594.4,163.5L595.1,165.1L595.8,166.7L596.5,168.3L597.2,169.9L597.9,171.5L598.6,172.9L599.2,174.4L599.8,175.9L600.5,177.3L601.1,178.6L601.8,180.0L602.4,181.4L603.1,182.7L603.8,184.0L604.4,185.4L605.1,186.7L605.8,187.9L606.5,189.1L607.2,190.3L607.9,191.5L608.7,192.6L609.4,193.7L610.1,194.7L610.8,195.6L611.5,196.6L612.1,197.5L612.8,198.5L613.5,199.4L614.2,200.4L614.9,201.3L615.5,202.3L616.2,203.3L616.9,204.3L617.6,205.3L618.3,206.3L618.9,207.4L619.6,208.3L620.3,209.2L621.0,210.2L621.7,211.2L622.4,212.1L623.2,213.0L623.9,213.9L624.7,214.7L625.4,215.5L626.2,216.2L626.9,217.0L627.6,217.7L628.4,218.3L629.1,219.0L629.8,219.8L630.6,220.4L631.3,221.0L632.1,221.6L632.8,222.2L633.5,222.7L634.3,223.1L635.0,223.7L635.7,224.2L636.4,224.6L637.2,225.0L637.9,225.5L638.6,225.9L639.3,226.3L640.1,226.9L640.8,227.3L641.5,227.6L642.3,227.9L643.0,228.2L643.7,228.6L644.4,228.9L645.2,229.3L645.9,229.7L646.6,230.0L647.3,230.3L648.0,230.6L648.7,231.0L649.5,231.4L650.2,231.7L650.9,231.9L651.6,232.2L652.3,232.5L653.0,232.8L653.7,233.2L654.4,233.6L655.2,233.8L655.9,234.0L656.6,234.3L657.3,234.5L658.0,234.8L658.7,235.1L659.4,235.4L660.1,235.5L660.8,235.7L661.5,236.0L662.2,236.2L663.0,236.5L663.7,236.6L664.4,236.8L665.1,237.0L665.8,237.1L666.5,237.3L667.2,237.6L667.9,237.8L668.6,238.0L669.3,238.2L670.0,238.3L670.7,238.5L671.4,238.7L672.1,238.9L672.8,239.0L673.5,239.1L674.2,239.3L674.9,239.5L675.6,239.7L676.3,239.9L677.0,240.0L677.7,240.2L678.4,240.3L679.1,240.4L679.8,240.6L680.5,240.8L681.2,241.0L681.9,241.1L682.6,241.2L683.3,241.3L684.1,241.6L684.8,241.7L685.5,241.8L686.2,241.9L686.9,242.1L687.6,242.2L688.3,242.3L689.0,242.6L689.7,242.7L690.4,242.8L691.1,242.9L691.8,243.0L692.5,243.1L693.2,243.2L693.9,243.3L694.6,243.5L695.3,243.8L696.0,244.0L696.7,244.0L697.4,244.1L698.1,244.2L698.8,244.3L699.5,244.4L700.2,244.6L700.9,244.7L701.6,244.8L702.3,245.0L703.0,245.1L703.7,245.2L704.4,245.4L705.1,245.4L705.3,245.4L705.3,249.0L705.1,249.0L704.4,249.0L703.7,248.8L703.0,248.7L702.3,248.6L701.6,248.5L700.9,248.3L700.2,248.2L699.5,248.1L698.8,247.9L698.1,247.8L697.4,247.7L696.7,247.7L696.0,247.6L695.3,247.4L694.6,247.1L693.9,247.0L693.2,246.9L692.5,246.8L691.8,246.6L691.1,246.5L690.4,246.5L689.7,246.4L689.0,246.2L688.3,246.0L687.6,245.9L686.9,245.8L686.2,245.6L685.5,245.4L684.8,245.3L684.1,245.2L683.3,245.0L682.6,244.8L681.9,244.7L681.2,244.5L680.5,244.3L679.8,244.1L679.1,244.0L678.4,243.8L677.7,243.7L677.0,243.5L676.3,243.3L675.6,243.2L674.9,243.0L674.2,242.7L673.5,242.5L672.8,242.4L672.1,242.3L671.4,242.1L670.7,241.9L670.0,241.7L669.3,241.6L668.6,241.4L667.9,241.2L667.2,241.0L666.5,240.7L665.8,240.5L665.1,240.4L664.4,240.2L663.7,240.0L663.0,239.9L662.2,239.6L661.5,239.4L660.8,239.1L660.1,238.9L659.4,238.8L658.7,238.5L658.0,238.2L657.3,237.9L656.6,237.7L655.9,237.4L655.2,237.2L654.4,237.0L653.7,236.7L653.0,236.3L652.3,236.0L651.6,235.8L650.9,235.6L650.2,235.4L649.5,235.2L648.7,234.8L648.0,234.5L647.3,234.2L646.6,234.0L645.9,233.6L645.2,233.3L644.4,233.0L643.7,232.7L643.0,232.4L642.3,232.1L641.5,231.8L640.8,231.5L640.1,231.0L639.3,230.4L638.6,230.0L637.9,229.5L637.2,229.1L636.4,228.6L635.7,228.2L635.0,227.6L634.3,227.1L633.5,226.6L632.8,226.1L632.1,225.4L631.3,224.8L630.6,224.2L629.8,223.6L629.1,222.8L628.4,222.0L627.6,221.3L626.9,220.6L626.2,219.7L625.4,219.0L624.7,218.1L623.9,217.2L623.2,216.3L622.4,215.4L621.7,214.4L621.0,213.4L620.3,212.4L619.6,211.4L618.9,210.4L618.3,209.3L617.6,208.2L616.9,207.1L616.2,206.0L615.5,205.0L614.9,204.0L614.2,202.9L613.5,201.9L612.8,200.9L612.1,199.9L611.5,198.8L610.8,197.8L610.1,196.8L609.4,195.8L608.7,194.6L607.9,193.4L607.2,192.2L606.5,191.0L605.8,189.7L605.1,188.4L604.4,187.1L603.8,185.6L603.1,184.3L602.4,182.9L601.8,181.4L601.1,180.0L600.5,178.6L599.8,177.2L599.2,175.6L598.6,174.1L597.9,172.6L597.2,171.1L596.5,169.4L595.8,167.8L595.1,166.1L594.4,164.5L593.7,162.9L593.0,161.4L592.3,159.9L591.6,158.4L590.9,156.9L590.2,155.4L589.5,153.9L588.8,152.6L588.1,151.1Z" fill="#17becf" stroke="#17becf" stroke-width="3.1" stroke-linejoin="round"/>
<path d="M588.4,150.2L589.1,151.6L589.8,153.0L590.5,154.5L591.2,156.0L591.9,157.4L592.6,158.9L593.3,160.3L594.0,161.9L594.7,163.5L595.4,165.1L596.1,166.7L596.8,168.3L597.5,169.8L598.2,171.4L598.9,172.8L599.5,174.2L600.2,175.7L600.9,177.2L601.5,178.5L602.2,179.8L602.8,181.1L603.5,182.5L604.2,183.9L604.9,185.2L605.6,186.5L606.3,187.7L607.0,188.9L607.7,190.2L608.4,191.3L609.1,192.3L609.8,193.3L610.5,194.3L611.2,195.3L611.9,196.3L612.6,197.2L613.3,198.1L614.0,199.1L614.7,200.0L615.3,201.0L616.0,201.9L616.7,202.9L617.4,203.9L618.1,205.0L618.8,206.0L619.5,207.0L620.1,207.9L620.8,208.8L621.5,209.8L622.2,210.7L622.9,211.6L623.7,212.5L624.4,213.4L625.1,214.2L625.9,215.0L626.6,215.9L627.3,216.6L628.1,217.3L628.8,217.9L629.5,218.6L630.2,219.3L631.0,220.1L631.7,220.7L632.4,221.2L633.1,221.7L633.9,222.3L634.6,222.8L635.3,223.3L636.0,223.8L636.7,224.2L637.5,224.7L638.2,225.1L638.9,225.6L639.6,226.0L640.3,226.4L641.0,226.8L641.8,227.1L642.5,227.5L643.2,227.9L643.9,228.3L644.6,228.7L645.3,229.0L646.0,229.4L646.8,229.7L647.5,230.1L648.2,230.4L648.9,230.7L649.6,231.0L650.3,231.4L651.0,231.6L651.7,231.9L652.4,232.2L653.2,232.6L653.9,232.9L654.6,233.1L655.3,233.4L656.0,233.7L656.7,234.0L657.4,234.3L658.1,234.5L658.8,234.8L659.5,235.0L660.2,235.2L660.9,235.5L661.6,235.7L662.3,235.9L663.0,236.1L663.7,236.4L664.5,236.6L665.2,236.7L665.9,236.8L666.6,237.0L667.3,237.3L668.0,237.4L668.7,237.6L669.4,237.9L670.1,238.1L670.8,238.3L671.5,238.5L672.2,238.7L672.9,238.8L673.6,239.0L674.3,239.1L675.0,239.2L675.7,239.4L676.4,239.6L677.1,239.7L677.8,239.9L678.5,240.1L679.2,240.2L679.9,240.4L680.6,240.5L681.3,240.6L682.0,240.7L682.7,240.9L683.4,241.1L684.1,241.3L684.8,241.4L685.5,241.5L686.2,241.7L686.9,241.8L687.6,242.0L688.3,242.2L689.0,242.3L689.7,242.3L690.4,242.4L691.1,242.6L691.8,242.8L692.5,242.9L693.2,243.0L693.9,243.1L694.6,243.3L695.3,243.5L696.0,243.6L696.7,243.7L697.4,243.8L698.1,244.0L698.8,244.2L699.5,244.3L700.2,244.5L700.9,244.5L701.6,244.6L702.3,244.7L703.0,244.9L703.7,245.1L704.4,245.2L705.1,245.3L705.3,245.2L705.3,248.8L705.1,248.9L704.4,248.9L703.7,248.7L703.0,248.5L702.3,248.3L701.6,248.2L700.9,248.2L700.2,248.1L699.5,248.0L698.8,247.8L698.1,247.7L697.4,247.5L696.7,247.3L696.0,247.2L695.3,247.1L694.6,247.0L693.9,246.8L693.2,246.7L692.5,246.6L691.8,246.5L691.1,246.2L690.4,246.1L689.7,246.0L689.0,246.0L688.3,245.9L687.6,245.7L686.9,245.5L686.2,245.4L685.5,245.2L684.8,245.0L684.1,244.9L683.4,244.7L682.7,244.5L682.0,244.3L681.3,244.2L680.6,244.1L679.9,243.9L679.2,243.7L678.5,243.6L677.8,243.4L677.1,243.2L676.4,243.0L675.7,242.8L675.0,242.7L674.3,242.6L673.6,242.4L672.9,242.2L672.2,242.1L671.5,241.9L670.8,241.7L670.1,241.5L669.4,241.3L668.7,241.0L668.0,240.8L667.3,240.7L666.6,240.4L665.9,240.2L665.2,240.1L664.5,240.0L663.7,239.8L663.0,239.5L662.3,239.3L661.6,239.1L660.9,238.9L660.2,238.6L659.5,238.4L658.8,238.2L658.1,237.9L657.4,237.7L656.7,237.4L656.0,237.1L655.3,236.8L654.6,236.6L653.9,236.4L653.2,236.1L652.4,235.8L651.7,235.5L651.0,235.3L650.3,235.1L649.6,234.8L648.9,234.5L648.2,234.3L647.5,233.9L646.8,233.7L646.0,233.4L645.3,233.1L644.6,232.7L643.9,232.4L643.2,232.1L642.5,231.7L641.8,231.3L641.0,230.9L640.3,230.6L639.6,230.1L638.9,229.7L638.2,229.2L637.5,228.7L636.7,228.3L636.0,227.8L635.3,227.3L634.6,226.8L633.9,226.2L633.1,225.6L632.4,225.1L631.7,224.5L631.0,223.9L630.2,223.1L629.5,222.4L628.8,221.6L628.1,220.9L627.3,220.2L626.6,219.4L625.9,218.5L625.1,217.6L624.4,216.7L623.7,215.8L622.9,214.9L622.2,213.9L621.5,213.0L620.8,212.0L620.1,211.0L619.5,210.0L618.8,209.0L618.1,207.9L617.4,206.7L616.7,205.6L616.0,204.6L615.3,203.6L614.7,202.6L614.0,201.6L613.3,200.6L612.6,199.6L611.9,198.5L611.2,197.5L610.5,196.4L609.8,195.4L609.1,194.3L608.4,193.3L607.7,192.1L607.0,190.7L606.3,189.4L605.6,188.2L604.9,186.9L604.2,185.5L603.5,184.1L602.8,182.6L602.2,181.2L601.5,179.9L600.9,178.5L600.2,177.0L599.5,175.5L598.9,174.0L598.2,172.5L597.5,171.0L596.8,169.4L596.1,167.7L595.4,166.1L594.7,164.5L594.0,162.8L593.3,161.2L592.6,159.7L591.9,158.3L591.2,156.7L590.5,155.2L589.8,153.8L589.1,152.3L588.4,150.9Z" fill="#7f7f7f" stroke="#7f7f7f" stroke-width="3.1" stroke-linejoin="round"/>
<path d="M588.7,150.1L589.4,151.5L590.1,152.9L590.8,154.4L591.5,155.8L592.2,157.3L592.9,158.8L593.6,160.3L594.3,161.8L595.0,163.3L595.7,164.9L596.4,166.5L597.1,168.0L597.8,169.6L598.5,171.2L599.2,172.6L599.8,174.1L600.5,175.5L601.2,176.9L601.9,178.3L602.5,179.7L603.2,181.1L603.9,182.5L604.6,183.7L605.3,184.9L606.0,186.1L606.7,187.4L607.4,188.8L608.1,190.0L608.8,191.1L609.5,192.1L610.2,193.1L610.9,194.0L611.6,195.0L612.3,196.0L613.0,196.9L613.7,197.8L614.4,198.8L615.1,199.8L615.8,200.7L616.5,201.7L617.1,202.6L617.8,203.6L618.5,204.7L619.2,205.7L619.9,206.6L620.6,207.5L621.3,208.4L622.0,209.4L622.7,210.4L623.4,211.3L624.1,212.2L624.8,213.1L625.6,213.9L626.3,214.7L627.0,215.6L627.7,216.3L628.4,217.0L629.1,217.7L629.9,218.4L630.6,219.0L631.3,219.6L632.0,220.2L632.7,220.8L633.4,221.4L634.1,221.9L634.8,222.5L635.6,223.0L636.3,223.5L637.0,223.9L637.7,224.4L638.4,224.8L639.1,225.1L639.8,225.5L640.5,226.0L641.2,226.5L642.0,226.8L642.7,227.2L643.4,227.6L644.1,227.9L644.8,228.3L645.5,228.7L646.2,229.1L646.9,229.4L647.6,229.6L648.3,230.0L649.0,230.3L649.7,230.7L650.4,231.0L651.1,231.3L651.9,231.6L652.6,231.9L653.3,232.3L654.0,232.7L654.7,233.0L655.4,233.2L656.1,233.4L656.8,233.7L657.5,234.0L658.2,234.2L658.9,234.5L659.6,234.8L660.3,235.0L661.0,235.3L661.7,235.6L662.4,235.7L663.1,235.8L663.8,236.1L664.5,236.4L665.2,236.5L665.9,236.7L666.6,237.0L667.3,237.1L668.0,237.3L668.7,237.5L669.4,237.7L670.1,237.8L670.8,238.0L671.5,238.2L672.2,238.3L672.9,238.5L673.6,238.7L674.3,238.9L675.0,239.1L675.7,239.2L676.4,239.4L677.1,239.6L677.8,239.8L678.5,239.9L679.2,240.1L679.9,240.2L680.6,240.3L681.3,240.5L682.0,240.7L682.7,240.9L683.4,241.0L684.1,241.0L684.8,241.1L685.5,241.3L686.2,241.4L686.9,241.5L687.6,241.8L688.3,241.9L689.0,242.0L689.7,242.1L690.4,242.3L691.1,242.5L691.8,242.7L692.6,242.7L693.3,242.9L694.0,243.1L694.7,243.1L695.4,243.2L696.1,243.4L696.8,243.6L697.5,243.7L698.2,243.8L698.9,243.9L699.6,244.1L700.3,244.2L701.0,244.2L701.7,244.4L702.4,244.6L703.1,244.8L703.8,244.8L704.5,245.0L705.2,245.1L705.4,245.0L705.4,248.6L705.2,248.7L704.5,248.6L703.8,248.4L703.1,248.4L702.4,248.2L701.7,248.0L701.0,247.8L700.3,247.8L699.6,247.7L698.9,247.6L698.2,247.5L697.5,247.3L696.8,247.2L696.1,247.1L695.4,246.9L694.7,246.8L694.0,246.7L693.3,246.5L692.6,246.4L691.8,246.3L691.1,246.1L690.4,246.0L689.7,245.8L689.0,245.7L688.3,245.6L687.6,245.5L686.9,245.2L686.2,245.1L685.5,245.0L684.8,244.8L684.1,244.7L683.4,244.7L682.7,244.5L682.0,244.3L681.3,244.0L680.6,243.8L679.9,243.7L679.2,243.6L678.5,243.4L677.8,243.3L677.1,243.1L676.4,242.9L675.7,242.7L675.0,242.6L674.3,242.4L673.6,242.1L672.9,241.9L672.2,241.7L671.5,241.6L670.8,241.4L670.1,241.2L669.4,241.1L668.7,240.9L668.0,240.7L667.3,240.5L666.6,240.4L665.9,240.1L665.2,239.9L664.5,239.8L663.8,239.5L663.1,239.2L662.4,239.1L661.7,239.0L661.0,238.7L660.3,238.4L659.6,238.2L658.9,237.9L658.2,237.6L657.5,237.4L656.8,237.1L656.1,236.8L655.4,236.6L654.7,236.4L654.0,236.2L653.3,235.8L652.6,235.5L651.9,235.2L651.1,235.0L650.4,234.7L649.7,234.4L649.0,234.1L648.3,233.8L647.6,233.5L646.9,233.3L646.2,233.0L645.5,232.7L644.8,232.4L644.1,232.0L643.4,231.7L642.7,231.4L642.0,231.0L641.2,230.6L640.5,230.1L639.8,229.6L639.1,229.2L638.4,228.8L637.7,228.4L637.0,227.9L636.3,227.5L635.6,227.0L634.8,226.4L634.1,225.8L633.4,225.2L632.7,224.7L632.0,224.1L631.3,223.4L630.6,222.8L629.9,222.1L629.1,221.4L628.4,220.7L627.7,219.9L627.0,219.1L626.3,218.2L625.6,217.4L624.8,216.5L624.1,215.6L623.4,214.6L622.7,213.6L622.0,212.6L621.3,211.6L620.6,210.6L619.9,209.7L619.2,208.7L618.5,207.6L617.8,206.4L617.1,205.4L616.5,204.4L615.8,203.4L615.1,202.3L614.4,201.3L613.7,200.3L613.0,199.3L612.3,198.3L611.6,197.2L610.9,196.1L610.2,195.1L609.5,194.1L608.8,193.0L608.1,191.9L607.4,190.6L606.7,189.2L606.0,187.8L605.3,186.6L604.6,185.3L603.9,184.0L603.2,182.6L602.5,181.1L601.9,179.7L601.2,178.3L600.5,176.8L599.8,175.3L599.2,173.8L598.5,172.3L597.8,170.7L597.1,169.1L596.4,167.5L595.7,165.9L595.0,164.3L594.3,162.7L593.6,161.2L592.9,159.6L592.2,158.1L591.5,156.6L590.8,155.1L590.1,153.6L589.4,152.2L588.7,150.8Z" fill="#ff7f0e" stroke="#ff7f0e" stroke-width="3.1" stroke-linejoin="round"/>
<path d="M456.1,36.3L456.8,36.3L457.5,36.3L458.2,36.3L458.9,36.3L459.6,36.3L460.3,36.3L461.0,36.3L461.7,36.3L462.4,36.3L463.1,36.3L463.8,36.3L464.5,36.3L465.2,36.3L465.9,36.3L466.6,36.3L467.3,36.3L468.0,36.3L468.4,36.3L468.7,36.3L469.4,36.3L470.1,36.3L470.8,36.3L471.5,36.3L472.2,36.2L472.9,36.2L473.6,36.2L474.3,36.2L475.0,36.2L475.7,36.2L476.4,36.2L477.1,36.2L477.8,36.2L478.5,36.1L479.2,36.1L479.9,36.1L480.6,36.1L481.3,36.1L481.8,36.1L482.0,36.2L482.7,36.6L483.4,37.0L484.1,37.4L484.8,37.8L485.5,38.2L486.2,38.6L486.9,39.0L487.6,39.4L488.3,39.8L489.0,40.2L489.7,40.6L489.7,40.6L490.4,40.9L491.1,41.2L491.8,41.5L492.5,41.8L493.2,42.1L493.9,42.4L494.6,42.7L495.3,43.0L495.3,43.0L496.0,43.3L496.7,43.6L497.4,43.9L498.1,44.2L498.8,44.5L499.5,44.7L500.2,45.0L500.9,45.2L501.6,45.4L502.3,45.6L503.0,45.8L503.7,46.0L504.4,46.2L505.1,46.4L505.8,46.5L506.5,46.4L507.2,46.6L507.9,46.9L508.6,46.9L509.3,47.2L510.0,47.6L510.7,47.4L511.4,47.3L512.1,47.7L512.8,47.7L513.5,47.6L514.2,47.9L514.9,48.2L515.6,48.1L516.3,48.2L517.0,48.4L517.7,48.5L518.4,48.6L519.1,48.5L519.8,48.6L520.5,48.7L521.2,48.3L521.9,48.2L522.6,48.6L523.3,48.9L524.0,49.2L524.7,49.9L525.4,50.5L526.1,50.7L526.8,50.9L527.5,51.1L528.2,51.4L528.9,51.5L529.6,51.6L530.3,52.2L531.0,52.4L531.7,52.2L532.4,52.5L533.1,52.9L533.8,53.0L534.5,53.6L535.2,54.3L535.9,54.8L536.6,55.2L537.3,55.5L538.0,55.8L538.7,56.5L539.4,57.8L540.1,58.5L540.8,58.6L541.5,59.4L542.2,60.5L542.9,61.5L543.6,62.4L544.3,63.4L545.0,64.4L545.7,65.3L546.4,66.1L547.1,66.8L547.8,67.9L548.5,69.0L549.2,70.0L549.9,71.1L550.6,72.0L551.3,73.1L552.0,74.3L552.7,75.4L553.4,76.7L554.1,77.8L554.8,78.7L555.5,79.5L556.2,80.6L556.9,81.9L557.6,83.0L558.3,83.9L559.0,85.1L559.7,86.3L560.4,87.4L561.1,88.5L561.8,89.8L562.5,91.3L563.2,92.8L563.9,94.4L564.6,96.0L565.3,97.7L566.0,99.4L566.7,101.1L567.4,102.9L568.1,104.7L568.8,106.5L569.5,108.2L570.2,109.8L570.9,111.5L571.6,113.1L572.3,114.7L573.0,116.2L573.7,117.7L574.4,119.3L575.1,120.9L575.8,122.5L576.5,124.1L577.2,125.6L577.9,127.1L578.6,128.7L579.3,130.2L580.0,131.8L580.7,133.3L581.4,134.8L582.1,136.4L582.8,138.1L583.5,139.5L584.2,140.9L584.9,142.3L585.6,143.7L586.3,145.0L587.0,146.3L587.7,147.6L588.4,148.9L589.1,150.1L589.8,151.5L590.5,152.9L591.2,154.4L591.9,155.8L592.6,157.4L593.3,158.9L594.0,160.4L594.7,161.9L595.4,163.4L596.1,165.1L596.8,166.7L597.5,168.3L598.2,169.8L598.9,171.3L599.6,172.8L600.3,174.1L601.0,175.4L601.7,176.8L602.4,178.2L603.1,179.6L603.8,180.9L604.5,182.3L605.2,183.6L605.9,184.9L606.6,186.1L607.3,187.4L608.0,188.5L608.7,189.6L609.4,190.7L610.1,191.7L610.8,192.8L611.5,193.8L612.2,194.7L612.9,195.6L613.6,196.6L614.3,197.6L615.0,198.5L615.7,199.5L616.4,200.5L617.1,201.4L617.8,202.4L618.5,203.4L619.2,204.4L619.9,205.3L620.6,206.3L621.3,207.3L622.0,208.2L622.7,209.2L623.4,210.1L624.1,211.0L624.8,211.9L625.5,212.8L626.2,213.6L626.9,214.4L627.6,215.1L628.3,215.8L629.0,216.5L629.7,217.2L630.4,217.9L631.1,218.6L631.8,219.3L632.5,219.9L633.2,220.5L633.9,221.0L634.6,221.5L635.3,222.0L636.0,222.5L636.7,223.0L637.4,223.5L638.1,223.9L638.8,224.4L639.5,224.8L640.2,225.2L640.9,225.6L641.6,226.1L642.3,226.4L643.0,226.8L643.7,227.1L644.4,227.5L645.1,227.9L645.8,228.3L646.5,228.7L647.2,229.0L647.9,229.3L648.6,229.6L649.3,230.0L650.0,230.5L650.7,230.8L651.4,231.0L652.1,231.3L652.8,231.6L653.5,232.0L654.2,232.3L654.9,232.6L655.6,233.0L656.3,233.2L657.0,233.4L657.7,233.7L658.4,233.9L659.1,234.2L659.8,234.5L660.5,234.8L661.2,235.0L661.9,235.3L662.6,235.5L663.3,235.8L664.0,236.0L664.7,236.1L665.4,236.3L666.1,236.6L666.8,236.8L667.5,236.9L668.2,237.1L668.9,237.3L669.6,237.5L670.3,237.6L671.0,237.8L671.7,238.0L672.4,238.2L673.1,238.3L673.8,238.5L674.5,238.7L675.2,238.8L675.9,238.9L676.6,239.1L677.3,239.4L678.0,239.5L678.7,239.7L679.4,239.8L680.1,239.9L680.8,240.0L681.5,240.3L682.2,240.5L682.9,240.6L683.6,240.7L684.3,240.9L685.0,241.0L685.7,241.0L686.4,241.1L687.1,241.3L687.8,241.5L688.5,241.6L689.2,241.7L689.9,241.9L690.6,242.1L691.3,242.3L692.0,242.4L692.7,242.4L693.4,242.5L694.1,242.8L694.8,242.9L695.5,243.1L696.2,243.2L696.9,243.3L697.6,243.5L698.3,243.6L699.0,243.7L699.7,243.8L700.4,244.0L701.1,244.1L701.8,244.2L702.5,244.4L703.2,244.5L703.9,244.5L704.6,244.7L705.3,244.8L705.4,244.9L705.4,248.5L705.3,248.4L704.6,248.3L703.9,248.2L703.2,248.1L702.5,248.0L701.8,247.8L701.1,247.7L700.4,247.6L699.7,247.5L699.0,247.4L698.3,247.3L697.6,247.1L696.9,246.9L696.2,246.8L695.5,246.7L694.8,246.6L694.1,246.4L693.4,246.2L692.7,246.1L692.0,246.1L691.3,245.9L690.6,245.7L689.9,245.6L689.2,245.4L688.5,245.3L687.8,245.2L687.1,245.0L686.4,244.8L685.7,244.7L685.0,244.6L684.3,244.5L683.6,244.3L682.9,244.2L682.2,244.1L681.5,243.9L680.8,243.6L680.1,243.4L679.4,243.4L678.7,243.2L678.0,243.0L677.3,242.9L676.6,242.6L675.9,242.4L675.2,242.3L674.5,242.1L673.8,241.9L673.1,241.7L672.4,241.6L671.7,241.4L671.0,241.2L670.3,241.0L669.6,240.9L668.9,240.7L668.2,240.5L667.5,240.3L666.8,240.2L666.1,240.0L665.4,239.7L664.7,239.5L664.0,239.4L663.3,239.2L662.6,238.9L661.9,238.7L661.2,238.4L660.5,238.2L659.8,237.9L659.1,237.6L658.4,237.3L657.7,237.1L657.0,236.8L656.3,236.6L655.6,236.4L654.9,236.0L654.2,235.7L653.5,235.5L652.8,235.2L652.1,234.9L651.4,234.6L650.7,234.5L650.0,234.2L649.3,233.8L648.6,233.5L647.9,233.2L647.2,233.0L646.5,232.7L645.8,232.3L645.1,231.9L644.4,231.6L643.7,231.2L643.0,231.0L642.3,230.6L641.6,230.2L640.9,229.8L640.2,229.3L639.5,228.9L638.8,228.4L638.1,228.0L637.4,227.5L636.7,227.0L636.0,226.5L635.3,226.0L634.6,225.4L633.9,224.9L633.2,224.4L632.5,223.8L631.8,223.1L631.1,222.4L630.4,221.7L629.7,220.9L629.0,220.2L628.3,219.4L627.6,218.6L626.9,217.9L626.2,217.1L625.5,216.2L624.8,215.2L624.1,214.3L623.4,213.3L622.7,212.4L622.0,211.4L621.3,210.3L620.6,209.3L619.9,208.3L619.2,207.3L618.5,206.3L617.8,205.2L617.1,204.1L616.4,203.1L615.7,202.1L615.0,201.0L614.3,200.0L613.6,198.9L612.9,197.9L612.2,196.9L611.5,196.0L610.8,194.9L610.1,193.7L609.4,192.6L608.7,191.5L608.0,190.3L607.3,189.1L606.6,187.9L605.9,186.5L605.2,185.2L604.5,183.8L603.8,182.4L603.1,181.0L602.4,179.6L601.7,178.1L601.0,176.7L600.3,175.3L599.6,174.0L598.9,172.5L598.2,170.9L597.5,169.3L596.8,167.7L596.1,166.1L595.4,164.4L594.7,162.8L594.0,161.3L593.3,159.8L592.6,158.2L591.9,156.6L591.2,155.1L590.5,153.7L589.8,152.2L589.1,150.8L588.4,149.5L587.7,148.2L587.0,146.9L586.3,145.6L585.6,144.2L584.9,142.9L584.2,141.5L583.5,140.1L582.8,138.6L582.1,137.0L581.4,135.4L580.7,133.9L580.0,132.4L579.3,130.8L578.6,129.2L577.9,127.7L577.2,126.1L576.5,124.7L575.8,123.1L575.1,121.5L574.4,119.9L573.7,118.3L573.0,116.8L572.3,115.2L571.6,113.6L570.9,112.0L570.2,110.3L569.5,108.7L568.8,107.0L568.1,105.2L567.4,103.4L566.7,101.7L566.0,99.9L565.3,98.2L564.6,96.5L563.9,94.9L563.2,93.3L562.5,91.8L561.8,90.4L561.1,89.1L560.4,87.9L559.7,86.8L559.0,85.7L558.3,84.5L557.6,83.6L556.9,82.6L556.2,81.3L555.5,80.2L554.8,79.4L554.1,78.5L553.4,77.4L552.7,76.1L552.0,75.0L551.3,73.8L550.6,72.8L549.9,71.9L549.2,70.8L548.5,69.9L547.8,68.7L547.1,67.7L546.4,66.9L545.7,66.2L545.0,65.3L544.3,64.3L543.6,63.4L542.9,62.4L542.2,61.5L541.5,60.4L540.8,59.6L540.1,59.5L539.4,58.8L538.7,57.4L538.0,56.7L537.3,56.4L536.6,56.1L535.9,55.8L535.2,55.2L534.5,54.5L533.8,53.9L533.1,53.8L532.4,53.4L531.7,53.0L531.0,53.3L530.3,53.0L529.6,52.4L528.9,52.3L528.2,52.1L527.5,51.9L526.8,51.7L526.1,51.5L525.4,51.3L524.7,50.6L524.0,49.9L523.3,49.6L522.6,49.3L521.9,48.9L521.2,49.0L520.5,49.3L519.8,49.2L519.1,49.0L518.4,49.1L517.7,49.0L517.0,48.9L516.3,48.7L515.6,48.6L514.9,48.6L514.2,48.3L513.5,47.9L512.8,48.0L512.1,48.0L511.4,47.6L510.7,47.7L510.0,47.8L509.3,47.4L508.6,47.1L507.9,47.0L507.2,46.7L506.5,46.5L505.8,46.6L505.1,46.5L504.4,46.2L503.7,46.0L503.0,45.8L502.3,45.6L501.6,45.4L500.9,45.2L500.2,45.0L499.5,44.7L498.8,44.5L498.1,44.2L497.4,43.9L496.7,43.6L496.0,43.3L495.3,43.0L495.3,43.0L494.6,42.7L493.9,42.4L493.2,42.1L492.5,41.8L491.8,41.5L491.1,41.2L490.4,40.9L489.7,40.6L489.7,40.6L489.0,40.2L488.3,39.8L487.6,39.4L486.9,39.0L486.2,38.6L485.5,38.2L484.8,37.8L484.1,37.4L483.4,37.0L482.7,36.6L482.0,36.2L481.8,36.1L481.3,36.1L480.6,36.1L479.9,36.1L479.2,36.1L478.5,36.1L477.8,36.2L477.1,36.2L476.4,36.2L475.7,36.2L475.0,36.2L474.3,36.2L473.6,36.2L472.9,36.2L472.2,36.2L471.5,36.3L470.8,36.3L470.1,36.3L469.4,36.3L468.7,36.3L468.4,36.3L468.0,36.3L467.3,36.3L466.6,36.3L465.9,36.3L465.2,36.3L464.5,36.3L463.8,36.3L463.1,36.3L462.4,36.3L461.7,36.3L461.0,36.3L460.3,36.3L459.6,36.3L458.9,36.3L458.2,36.3L457.5,36.3L456.8,36.3L456.1,36.3Z" fill="#d62728" stroke="#d62728" stroke-width="3.1" stroke-linejoin="round"/>
<path d="M495.0,41.3L495.3,41.4L495.7,41.5L496.4,41.8L497.1,42.1L497.8,42.3L498.5,42.6L499.3,42.9L500.0,43.1L500.7,43.3L501.4,43.5L502.1,43.6L502.9,43.8L503.6,44.0L504.3,44.2L505.0,44.3L505.7,44.5L506.4,44.6L507.1,44.7L507.8,44.8L508.6,45.0L509.3,45.2L510.0,45.3L510.7,45.2L511.4,45.3L512.1,45.3L512.8,45.3L513.5,45.8L514.2,46.3L514.9,46.4L515.6,46.1L516.3,46.0L517.0,46.2L517.7,46.7L518.4,47.0L519.1,47.1L519.8,47.3L520.5,47.6L521.2,47.5L522.0,47.0L522.7,46.9L523.4,47.8L524.1,48.3L524.8,48.5L525.0,48.8L525.0,48.8L524.8,48.5L524.1,48.3L523.4,47.8L522.7,46.9L522.0,47.0L521.2,47.5L520.5,47.6L519.8,47.3L519.1,47.1L518.4,47.0L517.7,46.7L517.0,46.2L516.3,46.0L515.6,46.1L514.9,46.4L514.2,46.3L513.5,45.8L512.8,45.3L512.1,45.3L511.4,45.3L510.7,45.2L510.0,45.3L509.3,45.2L508.6,45.0L507.8,44.8L507.1,44.7L506.4,44.6L505.7,44.5L505.0,44.3L504.3,44.2L503.6,44.0L502.9,43.8L502.1,43.6L501.4,43.5L500.7,43.3L500.0,43.1L499.3,42.9L498.5,42.6L497.8,42.3L497.1,42.1L496.4,41.8L495.7,41.5L495.3,41.4L495.0,41.3Z" fill="#ff7f0e" stroke="#ff7f0e" stroke-width="0.9" stroke-linejoin="round"/>
<line x1="692.3" y1="239.7" x2="692.3" y2="246.0" stroke="#d62728" stroke-width="3.0"/>
<line x1="705.4" y1="243.0" x2="705.4" y2="258.0" stroke="#d62728" stroke-width="3.0"/>
<line x1="705.4" y1="257.8" x2="705.4" y2="261.1" stroke="#2ca02c" stroke-width="3.0"/>
<line x1="705.4" y1="260.9" x2="705.4" y2="262.9" stroke="#1f77b4" stroke-width="3.0"/>
<line x1="705.4" y1="262.7" x2="705.4" y2="264.2" stroke="#e377c2" stroke-width="3.0"/>
<line x1="705.4" y1="264.0" x2="705.4" y2="266.3" stroke="#9467bd" stroke-width="3.0"/>
<line x1="705.4" y1="266.1" x2="705.4" y2="267.0" stroke="#bcbd22" stroke-width="3.0"/></g>
<g stroke="#000"><line x1="95.42" y1="296.90" x2="95.42" y2="300.30" stroke-width="1.1"/><line x1="98.42" y1="296.90" x2="98.42" y2="300.30" stroke-width="1.1"/><line x1="101.01" y1="296.90" x2="101.01" y2="300.30" stroke-width="1.1"/><line x1="103.30" y1="296.90" x2="103.30" y2="300.30" stroke-width="1.1"/><line x1="105.35" y1="296.90" x2="105.35" y2="302.80" stroke-width="1.4"/><line x1="118.82" y1="296.90" x2="118.82" y2="300.30" stroke-width="1.1"/><line x1="126.70" y1="296.90" x2="126.70" y2="300.30" stroke-width="1.1"/><line x1="132.29" y1="296.90" x2="132.29" y2="300.30" stroke-width="1.1"/><line x1="136.63" y1="296.90" x2="136.63" y2="300.30" stroke-width="1.1"/><line x1="140.17" y1="296.90" x2="140.17" y2="300.30" stroke-width="1.1"/><line x1="143.17" y1="296.90" x2="143.17" y2="300.30" stroke-width="1.1"/><line x1="145.76" y1="296.90" x2="145.76" y2="300.30" stroke-width="1.1"/><line x1="148.05" y1="296.90" x2="148.05" y2="300.30" stroke-width="1.1"/><line x1="150.10" y1="296.90" x2="150.10" y2="302.80" stroke-width="1.4"/><line x1="163.57" y1="296.90" x2="163.57" y2="300.30" stroke-width="1.1"/><line x1="171.45" y1="296.90" x2="171.45" y2="300.30" stroke-width="1.1"/><line x1="177.04" y1="296.90" x2="177.04" y2="300.30" stroke-width="1.1"/><line x1="181.38" y1="296.90" x2="181.38" y2="300.30" stroke-width="1.1"/><line x1="184.92" y1="296.90" x2="184.92" y2="300.30" stroke-width="1.1"/><line x1="187.92" y1="296.90" x2="187.92" y2="300.30" stroke-width="1.1"/><line x1="190.51" y1="296.90" x2="190.51" y2="300.30" stroke-width="1.1"/><line x1="192.80" y1="296.90" x2="192.80" y2="300.30" stroke-width="1.1"/><line x1="194.85" y1="296.90" x2="194.85" y2="302.80" stroke-width="1.4"/><line x1="208.32" y1="296.90" x2="208.32" y2="300.30" stroke-width="1.1"/><line x1="216.20" y1="296.90" x2="216.20" y2="300.30" stroke-width="1.1"/><line x1="221.79" y1="296.90" x2="221.79" y2="300.30" stroke-width="1.1"/><line x1="226.13" y1="296.90" x2="226.13" y2="300.30" stroke-width="1.1"/><line x1="229.67" y1="296.90" x2="229.67" y2="300.30" stroke-width="1.1"/><line x1="232.67" y1="296.90" x2="232.67" y2="300.30" stroke-width="1.1"/><line x1="235.26" y1="296.90" x2="235.26" y2="300.30" stroke-width="1.1"/><line x1="237.55" y1="296.90" x2="237.55" y2="300.30" stroke-width="1.1"/><line x1="239.60" y1="296.90" x2="239.60" y2="302.80" stroke-width="1.4"/><line x1="253.07" y1="296.90" x2="253.07" y2="300.30" stroke-width="1.1"/><line x1="260.95" y1="296.90" x2="260.95" y2="300.30" stroke-width="1.1"/><line x1="266.54" y1="296.90" x2="266.54" y2="300.30" stroke-width="1.1"/><line x1="270.88" y1="296.90" x2="270.88" y2="300.30" stroke-width="1.1"/><line x1="274.42" y1="296.90" x2="274.42" y2="300.30" stroke-width="1.1"/><line x1="277.42" y1="296.90" x2="277.42" y2="300.30" stroke-width="1.1"/><line x1="280.01" y1="296.90" x2="280.01" y2="300.30" stroke-width="1.1"/><line x1="282.30" y1="296.90" x2="282.30" y2="300.30" stroke-width="1.1"/><line x1="284.35" y1="296.90" x2="284.35" y2="302.80" stroke-width="1.4"/><line x1="297.82" y1="296.90" x2="297.82" y2="300.30" stroke-width="1.1"/><line x1="305.70" y1="296.90" x2="305.70" y2="300.30" stroke-width="1.1"/><line x1="311.29" y1="296.90" x2="311.29" y2="300.30" stroke-width="1.1"/><line x1="315.63" y1="296.90" x2="315.63" y2="300.30" stroke-width="1.1"/><line x1="319.17" y1="296.90" x2="319.17" y2="300.30" stroke-width="1.1"/><line x1="322.17" y1="296.90" x2="322.17" y2="300.30" stroke-width="1.1"/><line x1="324.76" y1="296.90" x2="324.76" y2="300.30" stroke-width="1.1"/><line x1="327.05" y1="296.90" x2="327.05" y2="300.30" stroke-width="1.1"/><line x1="329.10" y1="296.90" x2="329.10" y2="302.80" stroke-width="1.4"/><line x1="342.57" y1="296.90" x2="342.57" y2="300.30" stroke-width="1.1"/><line x1="350.45" y1="296.90" x2="350.45" y2="300.30" stroke-width="1.1"/><line x1="93.10" y1="297.03" x2="89.70" y2="297.03" stroke-width="1.1"/><line x1="93.10" y1="290.26" x2="89.70" y2="290.26" stroke-width="1.1"/><line x1="93.10" y1="284.29" x2="89.70" y2="284.29" stroke-width="1.1"/><line x1="93.10" y1="278.95" x2="87.20" y2="278.95" stroke-width="1.4"/><line x1="93.10" y1="243.82" x2="89.70" y2="243.82" stroke-width="1.1"/><line x1="93.10" y1="223.27" x2="89.70" y2="223.27" stroke-width="1.1"/><line x1="93.10" y1="208.69" x2="89.70" y2="208.69" stroke-width="1.1"/><line x1="93.10" y1="197.38" x2="89.70" y2="197.38" stroke-width="1.1"/><line x1="93.10" y1="188.14" x2="89.70" y2="188.14" stroke-width="1.1"/><line x1="93.10" y1="180.33" x2="89.70" y2="180.33" stroke-width="1.1"/><line x1="93.10" y1="173.56" x2="89.70" y2="173.56" stroke-width="1.1"/><line x1="93.10" y1="167.59" x2="89.70" y2="167.59" stroke-width="1.1"/><line x1="93.10" y1="162.25" x2="87.20" y2="162.25" stroke-width="1.4"/><line x1="93.10" y1="127.12" x2="89.70" y2="127.12" stroke-width="1.1"/><line x1="93.10" y1="106.57" x2="89.70" y2="106.57" stroke-width="1.1"/><line x1="93.10" y1="91.99" x2="89.70" y2="91.99" stroke-width="1.1"/><line x1="93.10" y1="80.68" x2="89.70" y2="80.68" stroke-width="1.1"/><line x1="93.10" y1="71.44" x2="89.70" y2="71.44" stroke-width="1.1"/><line x1="93.10" y1="63.63" x2="89.70" y2="63.63" stroke-width="1.1"/><line x1="93.10" y1="56.86" x2="89.70" y2="56.86" stroke-width="1.1"/><line x1="93.10" y1="50.89" x2="89.70" y2="50.89" stroke-width="1.1"/><line x1="93.10" y1="45.55" x2="87.20" y2="45.55" stroke-width="1.4"/><line x1="93.10" y1="10.42" x2="89.70" y2="10.42" stroke-width="1.1"/></g>
<rect x="93.10" y="10.40" width="261.80" height="286.50" fill="none" stroke="#000" stroke-width="1.5"/>
<g font-size="11.9" fill="#000" stroke="#000" stroke-width="0.25"><text x="104.60" y="318.7" text-anchor="middle">10<tspan dx="0" dy="-5.0" font-size="7.8">−1</tspan></text><text x="149.35" y="318.7" text-anchor="middle">10<tspan dx="0" dy="-5.0" font-size="7.8">0</tspan></text><text x="194.10" y="318.7" text-anchor="middle">10<tspan dx="0" dy="-5.0" font-size="7.8">1</tspan></text><text x="238.85" y="318.7" text-anchor="middle">10<tspan dx="0" dy="-5.0" font-size="7.8">2</tspan></text><text x="283.60" y="318.7" text-anchor="middle">10<tspan dx="0" dy="-5.0" font-size="7.8">3</tspan></text><text x="328.35" y="318.7" text-anchor="middle">10<tspan dx="0" dy="-5.0" font-size="7.8">4</tspan></text><text x="80.10" y="50.25" text-anchor="end">10<tspan dx="-0.5" dy="-4.6" font-size="7.8">−3</tspan></text><text x="80.10" y="166.95" text-anchor="end">10<tspan dx="-0.5" dy="-4.6" font-size="7.8">−4</tspan></text><text x="80.10" y="283.65" text-anchor="end">10<tspan dx="-0.5" dy="-4.6" font-size="7.8">−5</tspan></text></g>
<text x="224.50" y="337.5" text-anchor="middle" font-size="11.7" stroke="#000" stroke-width="0.25">Frequency [Hz]</text>
<g transform="translate(38.20,153.6) rotate(-90)" fill="#000"><text x="-28.5" y="0" font-size="11.6" stroke="#000" stroke-width="0.3">PSD</text><path d="M3,-10.7H0.9V7.5H3" fill="none" stroke="#000" stroke-width="1.05"/><path d="M22.1,-10.7H24.2V7.5H22.1" fill="none" stroke="#000" stroke-width="1.05"/><text x="12.6" y="-5.2" font-size="7.7" text-anchor="middle" stroke="#000" stroke-width="0.25">V</text><line x1="3" y1="-2.85" x2="20.5" y2="-2.85" stroke="#000" stroke-width="1.2"/><text x="14.6" y="6.4" font-size="7.6" text-anchor="middle" stroke="#000" stroke-width="0.25">Hz</text><path d="M3.9,3.6L4.8,3.1L6.1,6.6L7.9,-0.4H20.2" fill="none" stroke="#000" stroke-width="0.8"/></g>
<g stroke="#000"><line x1="458.42" y1="296.90" x2="458.42" y2="300.30" stroke-width="1.1"/><line x1="461.42" y1="296.90" x2="461.42" y2="300.30" stroke-width="1.1"/><line x1="464.01" y1="296.90" x2="464.01" y2="300.30" stroke-width="1.1"/><line x1="466.30" y1="296.90" x2="466.30" y2="300.30" stroke-width="1.1"/><line x1="468.35" y1="296.90" x2="468.35" y2="302.80" stroke-width="1.4"/><line x1="481.82" y1="296.90" x2="481.82" y2="300.30" stroke-width="1.1"/><line x1="489.70" y1="296.90" x2="489.70" y2="300.30" stroke-width="1.1"/><line x1="495.29" y1="296.90" x2="495.29" y2="300.30" stroke-width="1.1"/><line x1="499.63" y1="296.90" x2="499.63" y2="300.30" stroke-width="1.1"/><line x1="503.17" y1="296.90" x2="503.17" y2="300.30" stroke-width="1.1"/><line x1="506.17" y1="296.90" x2="506.17" y2="300.30" stroke-width="1.1"/><line x1="508.76" y1="296.90" x2="508.76" y2="300.30" stroke-width="1.1"/><line x1="511.05" y1="296.90" x2="511.05" y2="300.30" stroke-width="1.1"/><line x1="513.10" y1="296.90" x2="513.10" y2="302.80" stroke-width="1.4"/><line x1="526.57" y1="296.90" x2="526.57" y2="300.30" stroke-width="1.1"/><line x1="534.45" y1="296.90" x2="534.45" y2="300.30" stroke-width="1.1"/><line x1="540.04" y1="296.90" x2="540.04" y2="300.30" stroke-width="1.1"/><line x1="544.38" y1="296.90" x2="544.38" y2="300.30" stroke-width="1.1"/><line x1="547.92" y1="296.90" x2="547.92" y2="300.30" stroke-width="1.1"/><line x1="550.92" y1="296.90" x2="550.92" y2="300.30" stroke-width="1.1"/><line x1="553.51" y1="296.90" x2="553.51" y2="300.30" stroke-width="1.1"/><line x1="555.80" y1="296.90" x2="555.80" y2="300.30" stroke-width="1.1"/><line x1="557.85" y1="296.90" x2="557.85" y2="302.80" stroke-width="1.4"/><line x1="571.32" y1="296.90" x2="571.32" y2="300.30" stroke-width="1.1"/><line x1="579.20" y1="296.90" x2="579.20" y2="300.30" stroke-width="1.1"/><line x1="584.79" y1="296.90" x2="584.79" y2="300.30" stroke-width="1.1"/><line x1="589.13" y1="296.90" x2="589.13" y2="300.30" stroke-width="1.1"/><line x1="592.67" y1="296.90" x2="592.67" y2="300.30" stroke-width="1.1"/><line x1="595.67" y1="296.90" x2="595.67" y2="300.30" stroke-width="1.1"/><line x1="598.26" y1="296.90" x2="598.26" y2="300.30" stroke-width="1.1"/><line x1="600.55" y1="296.90" x2="600.55" y2="300.30" stroke-width="1.1"/><line x1="602.60" y1="296.90" x2="602.60" y2="302.80" stroke-width="1.4"/><line x1="616.07" y1="296.90" x2="616.07" y2="300.30" stroke-width="1.1"/><line x1="623.95" y1="296.90" x2="623.95" y2="300.30" stroke-width="1.1"/><line x1="629.54" y1="296.90" x2="629.54" y2="300.30" stroke-width="1.1"/><line x1="633.88" y1="296.90" x2="633.88" y2="300.30" stroke-width="1.1"/><line x1="637.42" y1="296.90" x2="637.42" y2="300.30" stroke-width="1.1"/><line x1="640.42" y1="296.90" x2="640.42" y2="300.30" stroke-width="1.1"/><line x1="643.01" y1="296.90" x2="643.01" y2="300.30" stroke-width="1.1"/><line x1="645.30" y1="296.90" x2="645.30" y2="300.30" stroke-width="1.1"/><line x1="647.35" y1="296.90" x2="647.35" y2="302.80" stroke-width="1.4"/><line x1="660.82" y1="296.90" x2="660.82" y2="300.30" stroke-width="1.1"/><line x1="668.70" y1="296.90" x2="668.70" y2="300.30" stroke-width="1.1"/><line x1="674.29" y1="296.90" x2="674.29" y2="300.30" stroke-width="1.1"/><line x1="678.63" y1="296.90" x2="678.63" y2="300.30" stroke-width="1.1"/><line x1="682.17" y1="296.90" x2="682.17" y2="300.30" stroke-width="1.1"/><line x1="685.17" y1="296.90" x2="685.17" y2="300.30" stroke-width="1.1"/><line x1="687.76" y1="296.90" x2="687.76" y2="300.30" stroke-width="1.1"/><line x1="690.05" y1="296.90" x2="690.05" y2="300.30" stroke-width="1.1"/><line x1="692.10" y1="296.90" x2="692.10" y2="302.80" stroke-width="1.4"/><line x1="705.57" y1="296.90" x2="705.57" y2="300.30" stroke-width="1.1"/><line x1="713.45" y1="296.90" x2="713.45" y2="300.30" stroke-width="1.1"/><line x1="456.10" y1="297.03" x2="452.70" y2="297.03" stroke-width="1.1"/><line x1="456.10" y1="290.26" x2="452.70" y2="290.26" stroke-width="1.1"/><line x1="456.10" y1="284.29" x2="452.70" y2="284.29" stroke-width="1.1"/><line x1="456.10" y1="278.95" x2="450.20" y2="278.95" stroke-width="1.4"/><line x1="456.10" y1="243.82" x2="452.70" y2="243.82" stroke-width="1.1"/><line x1="456.10" y1="223.27" x2="452.70" y2="223.27" stroke-width="1.1"/><line x1="456.10" y1="208.69" x2="452.70" y2="208.69" stroke-width="1.1"/><line x1="456.10" y1="197.38" x2="452.70" y2="197.38" stroke-width="1.1"/><line x1="456.10" y1="188.14" x2="452.70" y2="188.14" stroke-width="1.1"/><line x1="456.10" y1="180.33" x2="452.70" y2="180.33" stroke-width="1.1"/><line x1="456.10" y1="173.56" x2="452.70" y2="173.56" stroke-width="1.1"/><line x1="456.10" y1="167.59" x2="452.70" y2="167.59" stroke-width="1.1"/><line x1="456.10" y1="162.25" x2="450.20" y2="162.25" stroke-width="1.4"/><line x1="456.10" y1="127.12" x2="452.70" y2="127.12" stroke-width="1.1"/><line x1="456.10" y1="106.57" x2="452.70" y2="106.57" stroke-width="1.1"/><line x1="456.10" y1="91.99" x2="452.70" y2="91.99" stroke-width="1.1"/><line x1="456.10" y1="80.68" x2="452.70" y2="80.68" stroke-width="1.1"/><line x1="456.10" y1="71.44" x2="452.70" y2="71.44" stroke-width="1.1"/><line x1="456.10" y1="63.63" x2="452.70" y2="63.63" stroke-width="1.1"/><line x1="456.10" y1="56.86" x2="452.70" y2="56.86" stroke-width="1.1"/><line x1="456.10" y1="50.89" x2="452.70" y2="50.89" stroke-width="1.1"/><line x1="456.10" y1="45.55" x2="450.20" y2="45.55" stroke-width="1.4"/><line x1="456.10" y1="10.42" x2="452.70" y2="10.42" stroke-width="1.1"/></g>
<rect x="456.10" y="10.40" width="261.80" height="286.50" fill="none" stroke="#000" stroke-width="1.5"/>
<g font-size="11.9" fill="#000" stroke="#000" stroke-width="0.25"><text x="467.60" y="318.7" text-anchor="middle">10<tspan dx="0" dy="-5.0" font-size="7.8">−1</tspan></text><text x="512.35" y="318.7" text-anchor="middle">10<tspan dx="0" dy="-5.0" font-size="7.8">0</tspan></text><text x="557.10" y="318.7" text-anchor="middle">10<tspan dx="0" dy="-5.0" font-size="7.8">1</tspan></text><text x="601.85" y="318.7" text-anchor="middle">10<tspan dx="0" dy="-5.0" font-size="7.8">2</tspan></text><text x="646.60" y="318.7" text-anchor="middle">10<tspan dx="0" dy="-5.0" font-size="7.8">3</tspan></text><text x="691.35" y="318.7" text-anchor="middle">10<tspan dx="0" dy="-5.0" font-size="7.8">4</tspan></text><text x="443.10" y="50.25" text-anchor="end">10<tspan dx="-0.5" dy="-4.6" font-size="7.8">−3</tspan></text><text x="443.10" y="166.95" text-anchor="end">10<tspan dx="-0.5" dy="-4.6" font-size="7.8">−4</tspan></text><text x="443.10" y="283.65" text-anchor="end">10<tspan dx="-0.5" dy="-4.6" font-size="7.8">−5</tspan></text></g>
<text x="587.50" y="337.5" text-anchor="middle" font-size="11.7" stroke="#000" stroke-width="0.25">Frequency [Hz]</text>
<g transform="translate(401.20,153.6) rotate(-90)" fill="#000"><text x="-28.5" y="0" font-size="11.6" stroke="#000" stroke-width="0.3">PSD</text><path d="M3,-10.7H0.9V7.5H3" fill="none" stroke="#000" stroke-width="1.05"/><path d="M22.1,-10.7H24.2V7.5H22.1" fill="none" stroke="#000" stroke-width="1.05"/><text x="12.6" y="-5.2" font-size="7.7" text-anchor="middle" stroke="#000" stroke-width="0.25">V</text><line x1="3" y1="-2.85" x2="20.5" y2="-2.85" stroke="#000" stroke-width="1.2"/><text x="14.6" y="6.4" font-size="7.6" text-anchor="middle" stroke="#000" stroke-width="0.25">Hz</text><path d="M3.9,3.6L4.8,3.1L6.1,6.6L7.9,-0.4H20.2" fill="none" stroke="#000" stroke-width="0.8"/></g>
<g font-family="'Liberation Serif','DejaVu Serif',serif" font-size="16.6" fill="#000"><text x="8.4" y="383.9">(<tspan font-weight="bold" font-size="15.6">a</tspan><tspan dx="0.4">)</tspan></text><text x="371.4" y="383.9">(<tspan font-weight="bold">b</tspan><tspan dx="0.6">)</tspan></text></g>
</svg>
</body></html>
